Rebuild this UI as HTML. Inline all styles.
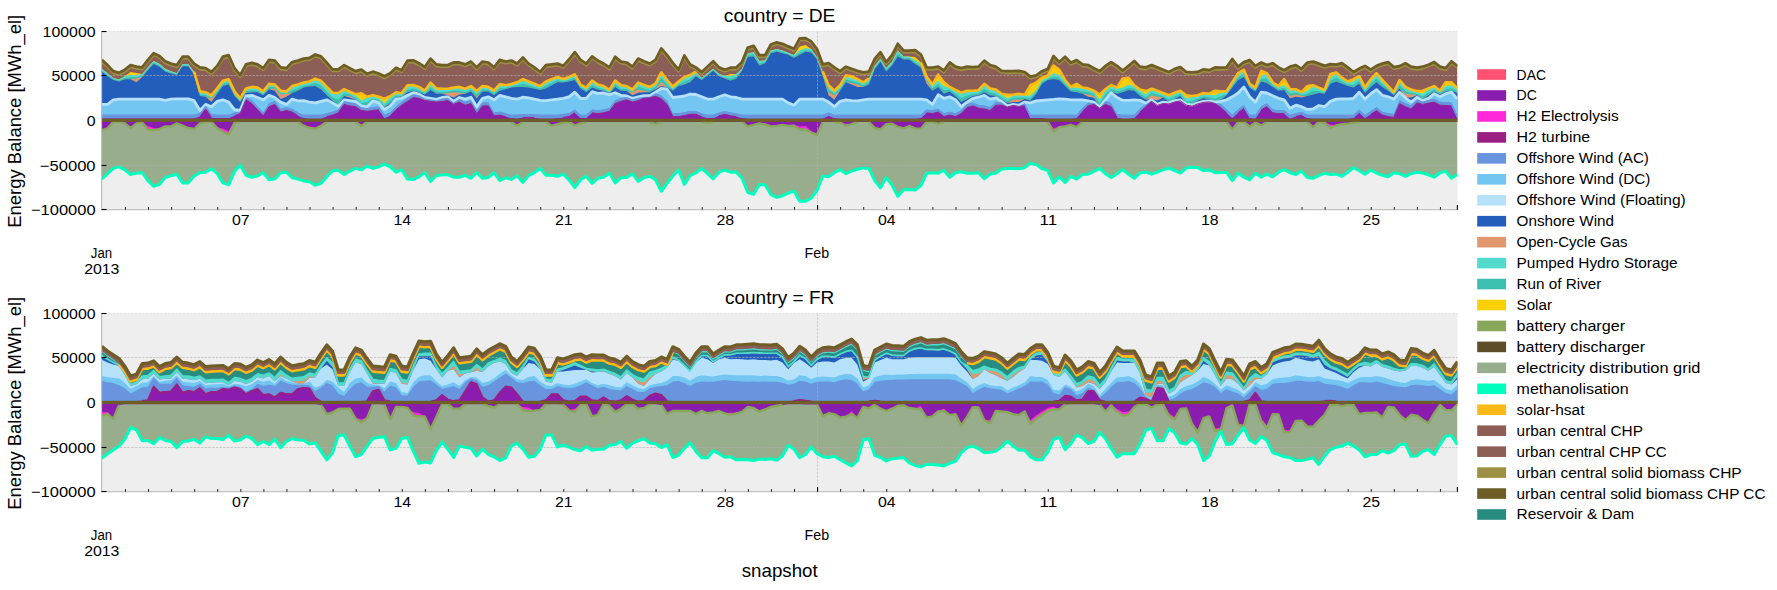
<!DOCTYPE html>
<html><head><meta charset="utf-8"><title>Energy Balance</title>
<style>html,body{margin:0;padding:0;background:#fff}svg{display:block}text{font-family:"Liberation Sans",sans-serif;fill:#000}</style></head><body>
<svg width="1777" height="590" viewBox="0 0 1777 590">
<rect width="1777" height="590" fill="#ffffff"/>
<rect x="101.6" y="31.5" width="1356.0" height="178.30" fill="#eeeeee"/>
<clipPath id="clip0"><rect x="101.6" y="31.5" width="1356.0" height="178.30"/></clipPath>
<g clip-path="url(#clip0)"><polygon points="101.8,59.8 107.6,65.1 113.3,71.2 119.1,72.8 124.9,69.7 130.6,65.1 136.4,66.7 142.2,67.4 147.9,59.8 153.7,53.2 159.5,56.0 165.2,61.3 171.0,63.6 176.8,65.1 182.6,56.7 188.3,56.7 194.1,63.6 199.9,67.4 205.6,68.2 211.4,72.0 217.2,65.9 222.9,56.7 228.7,55.2 234.5,68.2 240.2,75.1 246.0,64.4 251.8,62.8 257.5,64.4 263.3,68.2 269.1,59.8 274.8,60.6 280.6,67.4 286.4,68.2 292.1,62.1 297.9,60.6 303.7,58.6 309.4,58.0 315.2,54.5 321.0,56.4 326.8,62.8 332.5,69.3 338.3,69.3 344.1,65.1 349.8,68.2 355.6,71.2 361.4,69.7 367.1,73.8 372.9,71.7 378.7,73.5 384.4,76.3 390.2,73.2 396.0,67.7 401.7,70.2 407.5,60.6 413.3,60.3 419.0,63.2 424.8,67.1 430.6,58.6 436.3,64.4 442.1,65.1 447.9,65.1 453.6,62.5 459.4,62.5 465.2,64.4 471.0,61.6 476.7,67.4 482.5,61.6 488.3,62.5 494.0,67.4 499.8,59.8 505.6,61.6 511.3,60.6 517.1,63.6 522.9,57.5 528.6,63.6 534.4,67.4 540.2,72.0 545.9,65.1 551.7,64.4 557.5,63.6 563.2,65.9 569.0,59.5 574.8,52.2 580.5,59.8 586.3,63.6 592.1,56.4 597.8,60.6 603.6,63.6 609.4,67.4 615.2,56.7 620.9,61.6 626.7,62.5 632.5,66.7 638.2,58.6 644.0,61.3 649.8,63.6 655.5,59.8 661.3,48.4 667.1,55.2 672.8,62.8 678.6,69.7 684.4,55.5 690.1,64.4 695.9,67.4 701.7,72.0 707.4,66.7 713.2,61.3 719.0,67.4 724.7,69.7 730.5,67.7 736.3,67.4 742.0,62.1 747.8,47.6 753.6,45.8 759.4,55.2 765.1,55.2 770.9,44.5 776.7,42.3 782.4,43.8 788.2,46.4 794.0,48.8 799.7,38.4 805.5,38.1 811.3,41.5 817.0,49.1 822.8,64.4 828.6,63.2 834.3,67.4 840.1,71.2 845.9,66.7 851.6,68.9 857.4,70.8 863.2,72.3 868.9,71.7 874.7,59.0 880.5,52.2 886.2,62.1 892.0,55.2 897.8,43.8 903.6,50.6 909.3,50.6 915.1,50.2 920.9,54.5 926.6,67.4 932.4,67.7 938.2,66.7 943.9,70.5 949.7,62.5 955.5,66.7 961.2,68.2 967.0,66.7 972.8,67.1 978.5,66.7 984.3,60.6 990.1,65.1 995.8,66.7 1001.6,70.8 1007.4,71.2 1013.1,71.2 1018.9,70.8 1024.7,72.0 1030.4,76.6 1036.2,75.4 1042.0,71.2 1047.8,68.9 1053.5,56.0 1059.3,62.1 1065.1,56.7 1070.8,62.8 1076.6,60.1 1082.4,64.4 1088.1,65.1 1093.9,68.2 1099.7,71.2 1105.4,65.9 1111.2,62.1 1117.0,65.9 1122.7,70.5 1128.5,65.9 1134.3,61.0 1140.0,66.7 1145.8,67.4 1151.6,65.1 1157.3,67.4 1163.1,69.7 1168.9,72.0 1174.6,68.9 1180.4,67.1 1186.2,72.0 1192.0,72.3 1197.7,72.0 1203.5,69.3 1209.3,70.2 1215.0,67.4 1220.8,67.7 1226.6,67.4 1232.3,59.0 1238.1,66.7 1243.9,62.1 1249.6,60.1 1255.4,65.9 1261.2,62.5 1266.9,65.1 1272.7,63.2 1278.5,67.4 1284.2,70.2 1290.0,66.7 1295.8,65.1 1301.5,68.9 1307.3,62.5 1313.1,61.6 1318.8,63.6 1324.6,65.9 1330.4,64.1 1336.2,64.7 1341.9,63.2 1347.7,67.4 1353.5,72.0 1359.2,68.6 1365.0,65.9 1370.8,69.7 1376.5,65.9 1382.3,63.6 1388.1,62.1 1393.8,67.1 1399.6,66.2 1405.4,63.3 1411.1,66.7 1416.9,67.7 1422.7,66.7 1428.4,64.7 1434.2,62.1 1440.0,66.7 1445.7,68.2 1451.5,61.3 1457.3,65.9 1457.3,120.1 101.8,120.1" fill="#8d5e56" />
<polygon points="101.8,68.7 107.6,73.3 113.3,77.9 119.1,79.4 124.9,75.9 130.6,72.1 136.4,73.1 142.2,74.1 147.9,67.2 153.7,61.1 159.5,63.8 165.2,68.7 171.0,71.3 176.8,73.3 182.6,64.1 188.3,64.1 194.1,71.6 199.9,91.4 205.6,92.2 211.4,95.3 217.2,88.4 222.9,80.8 228.7,79.2 234.5,91.4 240.2,98.3 246.0,88.4 251.8,86.9 257.5,87.6 263.3,91.4 269.1,83.8 274.8,84.6 280.6,90.7 286.4,91.4 292.1,86.1 297.9,84.6 303.7,82.6 309.4,81.5 315.2,78.8 321.0,80.8 326.8,86.9 332.5,92.7 338.3,93.0 344.1,89.2 349.8,91.7 355.6,94.2 361.4,93.3 367.1,96.8 372.9,95.3 378.7,96.8 384.4,98.8 390.2,96.3 396.0,92.2 401.7,93.3 407.5,85.3 413.3,85.0 419.0,86.9 424.8,90.7 430.6,82.6 436.3,88.4 442.1,88.7 447.9,88.7 453.6,87.6 459.4,86.9 465.2,88.7 471.0,86.1 476.7,91.1 482.5,86.1 488.3,86.9 494.0,90.7 499.8,84.1 505.6,85.3 511.3,84.1 517.1,82.3 522.9,79.2 528.6,81.5 534.4,83.8 540.2,86.1 545.9,81.5 551.7,79.2 557.5,76.9 563.2,78.9 569.0,76.9 574.8,74.4 580.5,84.6 586.3,87.6 592.1,80.5 597.8,84.6 603.6,86.1 609.4,89.9 615.2,80.5 620.9,85.3 626.7,86.1 632.5,89.6 638.2,82.6 644.0,85.0 649.8,86.9 655.5,83.5 661.3,72.4 667.1,80.0 672.8,86.6 678.6,81.5 684.4,76.9 690.1,75.0 695.9,71.6 701.7,77.9 707.4,73.3 713.2,68.7 719.0,73.7 724.7,75.9 730.5,73.9 736.3,74.1 742.0,68.7 747.8,53.5 753.6,51.9 759.4,61.1 765.1,60.3 770.9,50.4 776.7,48.9 782.4,50.4 788.2,52.7 794.0,55.0 799.7,46.4 805.5,44.9 811.3,48.9 817.0,57.3 822.8,71.6 828.6,85.3 834.3,90.7 840.1,85.3 845.9,75.4 851.6,76.2 857.4,79.2 863.2,82.3 868.9,78.5 874.7,65.7 880.5,58.8 886.2,67.9 892.0,61.8 897.8,50.4 903.6,56.5 909.3,56.5 915.1,57.1 920.9,62.5 926.6,76.9 932.4,84.6 938.2,74.7 943.9,82.3 949.7,86.9 955.5,89.9 961.2,92.7 967.0,90.7 972.8,90.7 978.5,90.2 984.3,83.8 990.1,88.4 995.8,89.6 1001.6,93.7 1007.4,94.8 1013.1,94.8 1018.9,93.7 1024.7,94.8 1030.4,85.3 1036.2,82.6 1042.0,77.7 1047.8,75.4 1053.5,65.5 1059.3,69.8 1065.1,80.0 1070.8,86.9 1076.6,83.8 1082.4,87.6 1088.1,88.4 1093.9,90.7 1099.7,94.5 1105.4,89.2 1111.2,85.0 1117.0,87.6 1122.7,78.5 1128.5,77.7 1134.3,85.3 1140.0,89.6 1145.8,91.1 1151.6,88.7 1157.3,90.7 1163.1,93.0 1168.9,95.3 1174.6,92.7 1180.4,90.7 1186.2,95.3 1192.0,96.0 1197.7,95.3 1203.5,93.0 1209.3,93.7 1215.0,90.7 1220.8,91.4 1226.6,91.1 1232.3,82.3 1238.1,73.1 1243.9,69.8 1249.6,83.8 1255.4,87.6 1261.2,70.8 1266.9,73.1 1272.7,82.3 1278.5,86.1 1284.2,79.2 1290.0,89.2 1295.8,89.2 1301.5,92.2 1307.3,86.1 1313.1,85.3 1318.8,87.6 1324.6,89.9 1330.4,73.9 1336.2,72.4 1341.9,77.7 1347.7,81.5 1353.5,79.2 1359.2,76.2 1365.0,87.6 1370.8,79.2 1376.5,73.1 1382.3,80.0 1388.1,86.1 1393.8,92.2 1399.6,80.0 1405.4,86.9 1411.1,89.6 1416.9,91.1 1422.7,90.7 1428.4,88.4 1434.2,86.1 1440.0,90.7 1445.7,82.3 1451.5,82.3 1457.3,88.4 1457.3,120.1 101.8,120.1" fill="#f9d002" />
<polygon points="101.8,68.7 107.6,73.3 113.3,77.9 119.1,79.4 124.9,75.9 130.6,75.0 136.4,75.0 142.2,74.1 147.9,67.2 153.7,61.1 159.5,63.8 165.2,68.7 171.0,71.3 176.8,73.3 182.6,64.1 188.3,64.1 194.1,72.5 199.9,92.4 205.6,93.1 211.4,96.2 217.2,89.3 222.9,81.7 228.7,80.2 234.5,92.4 240.2,99.2 246.0,89.3 251.8,87.8 257.5,88.5 263.3,92.4 269.1,84.7 274.8,85.5 280.6,91.6 286.4,92.4 292.1,87.0 297.9,85.5 303.7,83.5 309.4,82.4 315.2,79.7 321.0,81.7 326.8,87.8 332.5,93.6 338.3,93.9 344.1,90.1 349.8,92.7 355.6,95.1 361.4,100.6 367.1,97.7 372.9,96.2 378.7,97.7 384.4,102.9 390.2,97.2 396.0,93.1 401.7,94.2 407.5,86.3 413.3,85.9 419.0,87.8 424.8,91.6 430.6,83.5 436.3,89.3 442.1,89.6 447.9,89.6 453.6,88.5 459.4,87.8 465.2,89.6 471.0,87.0 476.7,92.1 482.5,87.0 488.3,87.8 494.0,91.6 499.8,85.0 505.6,86.3 511.3,85.0 517.1,83.2 522.9,80.2 528.6,82.4 534.4,84.7 540.2,87.0 545.9,82.4 551.7,80.2 557.5,77.9 563.2,79.8 569.0,77.9 574.8,75.3 580.5,85.5 586.3,88.5 592.1,81.4 597.8,85.5 603.6,87.0 609.4,90.8 615.2,81.4 620.9,86.3 626.7,87.0 632.5,90.5 638.2,83.5 644.0,85.9 649.8,87.8 655.5,84.4 661.3,73.3 667.1,80.9 672.8,87.5 678.6,82.4 684.4,77.9 690.1,75.9 695.9,72.5 701.7,77.9 707.4,73.3 713.2,68.7 719.0,73.7 724.7,75.9 730.5,75.9 736.3,74.1 742.0,68.7 747.8,53.5 753.6,51.9 759.4,61.1 765.1,60.3 770.9,50.4 776.7,48.9 782.4,50.4 788.2,52.7 794.0,55.0 799.7,50.3 805.5,48.0 811.3,48.9 817.0,57.3 822.8,72.5 828.6,86.3 834.3,91.6 840.1,86.3 845.9,76.3 851.6,78.5 857.4,80.2 863.2,83.2 868.9,79.4 874.7,65.7 880.5,58.8 886.2,67.9 892.0,61.8 897.8,50.4 903.6,56.5 909.3,56.5 915.1,60.2 920.9,63.4 926.6,77.9 932.4,85.5 938.2,80.8 943.9,86.1 949.7,87.8 955.5,90.8 961.2,93.6 967.0,91.6 972.8,91.6 978.5,91.1 984.3,84.7 990.1,89.3 995.8,90.5 1001.6,94.6 1007.4,98.3 1013.1,95.7 1018.9,94.6 1024.7,95.7 1030.4,95.3 1036.2,89.9 1042.0,80.0 1047.8,77.4 1053.5,73.1 1059.3,74.7 1065.1,80.9 1070.8,87.8 1076.6,87.6 1082.4,88.5 1088.1,89.3 1093.9,91.6 1099.7,99.8 1105.4,90.1 1111.2,85.9 1117.0,88.5 1122.7,87.6 1128.5,84.6 1134.3,86.3 1140.0,90.5 1145.8,94.5 1151.6,89.6 1157.3,91.6 1163.1,93.9 1168.9,96.2 1174.6,93.6 1180.4,91.6 1186.2,98.3 1192.0,96.9 1197.7,96.2 1203.5,93.9 1209.3,94.6 1215.0,95.3 1220.8,92.4 1226.6,92.1 1232.3,83.2 1238.1,74.1 1243.9,70.7 1249.6,84.7 1255.4,88.5 1261.2,75.4 1266.9,74.1 1272.7,83.2 1278.5,87.0 1284.2,85.3 1290.0,90.1 1295.8,90.1 1301.5,93.1 1307.3,90.7 1313.1,86.3 1318.8,88.5 1324.6,90.8 1330.4,77.7 1336.2,73.3 1341.9,78.6 1347.7,82.4 1353.5,81.5 1359.2,77.1 1365.0,88.5 1370.8,80.2 1376.5,74.1 1382.3,80.9 1388.1,87.0 1393.8,93.1 1399.6,80.9 1405.4,87.8 1411.1,90.5 1416.9,92.1 1422.7,93.7 1428.4,89.3 1434.2,87.0 1440.0,91.6 1445.7,86.1 1451.5,85.3 1457.3,89.3 1457.3,120.1 101.8,120.1" fill="#51dbcc" />
<polygon points="101.8,70.4 107.6,74.9 113.3,79.1 119.1,80.7 124.9,77.8 130.6,77.3 136.4,76.9 142.2,75.7 147.9,68.8 153.7,62.7 159.5,65.5 165.2,70.4 171.0,72.6 176.8,74.3 182.6,65.4 188.3,65.4 194.1,73.8 199.9,94.4 205.6,95.1 211.4,97.4 217.2,91.7 222.9,84.1 228.7,82.6 234.5,94.4 240.2,100.9 246.0,91.3 251.8,90.2 257.5,90.6 263.3,94.0 269.1,87.1 274.8,87.1 280.6,93.2 286.4,93.2 292.1,90.2 297.9,88.3 303.7,85.8 309.4,84.7 315.2,83.1 321.0,85.6 326.8,91.7 332.5,97.3 338.3,99.7 344.1,93.2 349.8,94.5 355.6,97.7 361.4,103.1 367.1,102.0 372.9,98.2 378.7,100.1 384.4,105.4 390.2,100.3 396.0,95.5 401.7,95.7 407.5,89.4 413.3,88.5 419.0,90.2 424.8,93.2 430.6,86.9 436.3,91.7 442.1,91.9 447.9,91.5 453.6,90.6 459.4,90.4 465.2,91.9 471.0,89.4 476.7,94.6 482.5,89.4 488.3,89.8 494.0,93.6 499.8,88.1 505.6,87.9 511.3,86.5 517.1,85.2 522.9,83.7 528.6,85.2 534.4,86.9 540.2,88.7 545.9,85.6 551.7,82.9 557.5,80.3 563.2,81.4 569.0,79.9 574.8,77.8 580.5,87.1 586.3,90.6 592.1,84.7 597.8,87.8 603.6,89.0 609.4,92.5 615.2,84.3 620.9,88.7 626.7,89.3 632.5,91.6 638.2,86.8 644.0,88.5 649.8,90.2 655.5,87.0 661.3,77.6 667.1,84.5 672.8,89.3 678.6,84.5 684.4,81.4 690.1,79.3 695.9,74.6 701.7,79.1 707.4,74.6 713.2,70.0 719.0,75.2 724.7,77.4 730.5,78.5 736.3,76.5 742.0,70.0 747.8,55.5 753.6,54.3 759.4,63.5 765.1,62.0 770.9,52.1 776.7,50.5 782.4,52.1 788.2,54.0 794.0,56.6 799.7,52.7 805.5,50.1 811.3,50.9 817.0,58.5 822.8,74.6 828.6,89.4 834.3,93.6 840.1,88.7 845.9,79.5 851.6,81.0 857.4,82.6 863.2,85.2 868.9,82.2 874.7,67.7 880.5,60.4 886.2,70.0 892.0,63.9 897.8,53.6 903.6,58.2 909.3,58.2 915.1,62.3 920.9,65.8 926.6,79.5 932.4,88.3 938.2,84.0 943.9,90.1 949.7,89.8 955.5,93.6 961.2,98.0 967.0,95.5 972.8,94.0 978.5,93.4 984.3,88.7 990.1,92.5 995.8,93.5 1001.6,97.4 1007.4,100.8 1013.1,98.0 1018.9,97.4 1024.7,97.6 1030.4,98.1 1036.2,92.0 1042.0,82.1 1047.8,78.9 1053.5,76.2 1059.3,77.5 1065.1,83.7 1070.8,89.8 1076.6,90.1 1082.4,91.3 1088.1,92.1 1093.9,94.0 1099.7,103.5 1105.4,94.0 1111.2,88.9 1117.0,91.3 1122.7,90.1 1128.5,87.4 1134.3,88.7 1140.0,93.5 1145.8,97.4 1151.6,92.6 1157.3,94.4 1163.1,95.9 1168.9,99.3 1174.6,96.5 1180.4,94.0 1186.2,101.6 1192.0,100.9 1197.7,98.6 1203.5,96.3 1209.3,97.1 1215.0,98.5 1220.8,96.3 1226.6,93.9 1232.3,85.6 1238.1,77.2 1243.9,74.0 1249.6,86.4 1255.4,90.2 1261.2,78.7 1266.9,78.8 1272.7,85.2 1278.5,89.0 1284.2,87.8 1290.0,93.2 1295.8,92.5 1301.5,94.8 1307.3,93.5 1313.1,90.6 1318.8,91.0 1324.6,92.5 1330.4,81.0 1336.2,77.6 1341.9,81.4 1347.7,84.5 1353.5,84.8 1359.2,80.7 1365.0,91.0 1370.8,83.7 1376.5,78.4 1382.3,84.1 1388.1,89.0 1393.8,94.4 1399.6,84.9 1405.4,91.0 1411.1,92.7 1416.9,93.9 1422.7,96.6 1428.4,92.5 1434.2,89.4 1440.0,93.2 1445.7,89.0 1451.5,88.2 1457.3,91.3 1457.3,120.1 101.8,120.1" fill="#3dbfb0" />
<polygon points="101.8,71.6 107.6,76.2 113.3,80.0 119.1,81.5 124.9,79.2 130.6,79.2 136.4,78.5 142.2,76.9 147.9,70.1 153.7,64.0 159.5,66.7 165.2,71.6 171.0,73.4 176.8,75.0 182.6,66.3 188.3,66.3 194.1,74.7 199.9,96.0 205.6,96.8 211.4,98.3 217.2,93.7 222.9,86.1 228.7,84.6 234.5,96.0 240.2,102.1 246.0,93.0 251.8,92.2 257.5,92.2 263.3,95.3 269.1,89.2 274.8,88.4 280.6,94.5 286.4,93.7 292.1,93.0 297.9,90.7 303.7,87.6 309.4,86.6 315.2,86.1 321.0,89.2 326.8,95.3 332.5,100.6 338.3,105.2 344.1,96.0 349.8,96.0 355.6,99.8 361.4,105.2 367.1,105.9 372.9,99.8 378.7,102.1 384.4,107.5 390.2,102.9 396.0,97.5 401.7,96.8 407.5,92.2 413.3,90.7 419.0,92.2 424.8,94.5 430.6,89.9 436.3,93.7 442.1,93.7 447.9,93.0 453.6,92.2 459.4,92.7 465.2,93.7 471.0,91.4 476.7,96.8 482.5,91.4 488.3,91.4 494.0,95.3 499.8,90.7 505.6,89.2 511.3,87.6 517.1,86.9 522.9,86.9 528.6,87.6 534.4,88.7 540.2,89.9 545.9,88.4 551.7,85.3 557.5,82.3 563.2,82.6 569.0,81.5 574.8,80.0 580.5,88.4 586.3,92.2 592.1,87.6 597.8,89.6 603.6,90.7 609.4,93.7 615.2,86.9 620.9,90.7 626.7,91.1 632.5,92.2 638.2,89.6 644.0,90.7 649.8,92.2 655.5,89.2 661.3,81.5 667.1,87.6 672.8,90.7 678.6,86.1 684.4,84.6 690.1,82.3 695.9,76.2 701.7,80.0 707.4,75.4 713.2,70.8 719.0,76.2 724.7,78.5 730.5,80.8 736.3,78.5 742.0,70.8 747.8,57.1 753.6,56.4 759.4,65.5 765.1,63.2 770.9,53.3 776.7,51.8 782.4,53.3 788.2,54.8 794.0,57.9 799.7,54.8 805.5,51.8 811.3,52.5 817.0,59.4 822.8,76.2 828.6,92.2 834.3,95.3 840.1,90.7 845.9,82.3 851.6,83.1 857.4,84.6 863.2,86.9 868.9,84.6 874.7,69.3 880.5,61.7 886.2,71.6 892.0,65.5 897.8,56.4 903.6,59.4 909.3,59.4 915.1,64.0 920.9,67.8 926.6,80.8 932.4,90.7 938.2,86.9 943.9,93.7 949.7,91.4 955.5,96.0 961.2,102.1 967.0,99.1 972.8,96.0 978.5,95.3 984.3,92.2 990.1,95.3 995.8,96.0 1001.6,99.8 1007.4,102.9 1013.1,99.8 1018.9,99.8 1024.7,99.1 1030.4,100.6 1036.2,93.7 1042.0,83.8 1047.8,80.0 1053.5,78.9 1059.3,80.0 1065.1,86.1 1070.8,91.4 1076.6,92.2 1082.4,93.7 1088.1,94.5 1093.9,96.0 1099.7,106.7 1105.4,97.5 1111.2,91.4 1117.0,93.7 1122.7,92.2 1128.5,89.9 1134.3,90.7 1140.0,96.0 1145.8,99.8 1151.6,95.3 1157.3,96.8 1163.1,97.5 1168.9,102.1 1174.6,99.1 1180.4,96.0 1186.2,104.4 1192.0,104.4 1197.7,100.6 1203.5,98.3 1209.3,99.1 1215.0,101.4 1220.8,99.8 1226.6,95.3 1232.3,87.6 1238.1,80.0 1243.9,76.9 1249.6,87.6 1255.4,91.4 1261.2,81.5 1266.9,83.1 1272.7,86.9 1278.5,90.7 1284.2,89.9 1290.0,96.0 1295.8,94.5 1301.5,96.0 1307.3,96.0 1313.1,94.5 1318.8,93.0 1324.6,93.7 1330.4,83.8 1336.2,81.5 1341.9,83.8 1347.7,86.1 1353.5,87.6 1359.2,83.8 1365.0,93.0 1370.8,86.9 1376.5,82.3 1382.3,86.9 1388.1,90.7 1393.8,95.3 1399.6,88.4 1405.4,93.7 1411.1,94.5 1416.9,95.3 1422.7,99.1 1428.4,95.3 1434.2,91.4 1440.0,94.5 1445.7,91.4 1451.5,90.7 1457.3,93.0 1457.3,120.1 101.8,120.1" fill="#e0986c" />
<polygon points="101.8,71.6 107.6,76.2 113.3,80.0 119.1,81.5 124.9,79.2 130.6,79.2 136.4,82.3 142.2,76.9 147.9,70.1 153.7,64.0 159.5,66.7 165.2,71.6 171.0,73.4 176.8,75.0 182.6,66.3 188.3,66.3 194.1,74.7 199.9,96.0 205.6,96.8 211.4,102.1 217.2,93.7 222.9,86.1 228.7,84.6 234.5,96.0 240.2,102.1 246.0,93.0 251.8,92.2 257.5,92.2 263.3,95.3 269.1,89.2 274.8,90.7 280.6,99.1 286.4,96.8 292.1,93.0 297.9,90.7 303.7,87.6 309.4,86.6 315.2,86.1 321.0,89.2 326.8,95.3 332.5,100.6 338.3,105.2 344.1,96.0 349.8,97.5 355.6,99.8 361.4,105.2 367.1,105.9 372.9,99.8 378.7,102.1 384.4,107.5 390.2,102.9 396.0,97.5 401.7,96.8 407.5,92.2 413.3,90.7 419.0,92.2 424.8,94.5 430.6,89.9 436.3,93.7 442.1,93.7 447.9,95.3 453.6,97.5 459.4,94.5 465.2,93.7 471.0,91.4 476.7,98.3 482.5,91.4 488.3,91.4 494.0,95.3 499.8,90.7 505.6,89.2 511.3,87.6 517.1,86.9 522.9,86.9 528.6,87.6 534.4,88.7 540.2,89.9 545.9,88.4 551.7,85.3 557.5,82.3 563.2,82.6 569.0,81.5 574.8,80.0 580.5,88.4 586.3,92.2 592.1,87.6 597.8,89.6 603.6,90.7 609.4,93.7 615.2,86.9 620.9,90.7 626.7,91.1 632.5,95.3 638.2,92.7 644.0,92.2 649.8,92.2 655.5,89.2 661.3,86.1 667.1,87.6 672.8,90.7 678.6,86.1 684.4,84.6 690.1,82.3 695.9,76.2 701.7,80.0 707.4,75.4 713.2,70.8 719.0,76.2 724.7,78.5 730.5,80.8 736.3,78.5 742.0,70.8 747.8,57.1 753.6,56.4 759.4,65.5 765.1,63.2 770.9,53.3 776.7,51.8 782.4,53.3 788.2,54.8 794.0,57.9 799.7,54.8 805.5,51.8 811.3,52.5 817.0,59.4 822.8,76.2 828.6,95.3 834.3,99.8 840.1,90.7 845.9,82.3 851.6,84.6 857.4,86.9 863.2,86.9 868.9,84.6 874.7,69.3 880.5,61.7 886.2,71.6 892.0,65.5 897.8,56.4 903.6,59.4 909.3,59.4 915.1,64.0 920.9,67.8 926.6,83.8 932.4,90.7 938.2,86.9 943.9,93.7 949.7,91.4 955.5,96.0 961.2,102.1 967.0,99.1 972.8,96.0 978.5,95.3 984.3,92.2 990.1,95.3 995.8,96.0 1001.6,99.8 1007.4,102.9 1013.1,102.1 1018.9,102.1 1024.7,99.1 1030.4,100.6 1036.2,93.7 1042.0,83.8 1047.8,80.0 1053.5,78.9 1059.3,80.0 1065.1,86.1 1070.8,91.4 1076.6,92.2 1082.4,93.7 1088.1,96.8 1093.9,97.8 1099.7,106.7 1105.4,97.5 1111.2,91.4 1117.0,93.7 1122.7,92.2 1128.5,89.9 1134.3,90.7 1140.0,96.0 1145.8,99.8 1151.6,99.1 1157.3,100.6 1163.1,97.5 1168.9,102.1 1174.6,99.1 1180.4,96.0 1186.2,104.4 1192.0,104.4 1197.7,100.6 1203.5,98.3 1209.3,99.1 1215.0,101.4 1220.8,99.8 1226.6,95.3 1232.3,87.6 1238.1,80.0 1243.9,76.9 1249.6,87.6 1255.4,91.4 1261.2,81.5 1266.9,83.1 1272.7,86.9 1278.5,90.7 1284.2,89.9 1290.0,98.3 1295.8,96.8 1301.5,97.5 1307.3,96.0 1313.1,94.5 1318.8,93.0 1324.6,93.7 1330.4,83.8 1336.2,81.5 1341.9,83.8 1347.7,86.1 1353.5,87.6 1359.2,83.8 1365.0,93.0 1370.8,86.9 1376.5,82.3 1382.3,86.9 1388.1,90.7 1393.8,95.3 1399.6,88.4 1405.4,97.5 1411.1,97.5 1416.9,95.3 1422.7,99.1 1428.4,95.3 1434.2,91.4 1440.0,94.5 1445.7,91.4 1451.5,90.7 1457.3,93.0 1457.3,120.1 101.8,120.1" fill="#235ebc" />
<polygon points="101.8,104.4 107.6,104.4 113.3,99.8 119.1,99.1 124.9,99.1 130.6,99.1 136.4,99.1 142.2,99.1 147.9,99.1 153.7,99.1 159.5,99.1 165.2,100.3 171.0,99.1 176.8,98.8 182.6,98.8 188.3,98.8 194.1,100.6 199.9,110.5 205.6,104.4 211.4,106.7 217.2,101.4 222.9,99.8 228.7,102.1 234.5,109.7 240.2,110.5 246.0,96.0 251.8,95.3 257.5,97.5 263.3,99.8 269.1,95.3 274.8,97.5 280.6,102.1 286.4,104.4 292.1,99.1 297.9,100.9 303.7,100.6 309.4,102.1 315.2,102.9 321.0,101.4 326.8,99.8 332.5,102.9 338.3,106.4 344.1,99.8 349.8,100.6 355.6,101.4 361.4,105.9 367.1,107.0 372.9,100.9 378.7,102.9 384.4,109.7 390.2,105.9 396.0,99.1 401.7,98.3 407.5,95.3 413.3,92.7 419.0,94.2 424.8,97.5 430.6,98.3 436.3,99.4 442.1,97.5 447.9,96.8 453.6,101.4 459.4,97.5 465.2,99.1 471.0,97.2 476.7,106.7 482.5,98.3 488.3,96.8 494.0,99.8 499.8,95.3 505.6,96.8 511.3,98.3 517.1,99.1 522.9,97.2 528.6,97.8 534.4,99.1 540.2,100.3 545.9,100.6 551.7,99.8 557.5,99.1 563.2,98.3 569.0,96.8 574.8,92.2 580.5,98.3 586.3,98.3 592.1,91.7 597.8,93.3 603.6,93.0 609.4,94.8 615.2,92.7 620.9,95.3 626.7,96.0 632.5,98.3 638.2,96.8 644.0,95.7 649.8,95.7 655.5,92.2 661.3,88.4 667.1,89.2 672.8,97.5 678.6,96.8 684.4,96.0 690.1,94.2 695.9,94.5 701.7,96.8 707.4,99.1 713.2,99.1 719.0,96.8 724.7,94.8 730.5,96.8 736.3,97.5 742.0,99.1 747.8,99.1 753.6,99.1 759.4,99.1 765.1,99.1 770.9,99.1 776.7,99.1 782.4,99.1 788.2,102.9 794.0,105.2 799.7,99.1 805.5,99.1 811.3,99.1 817.0,99.1 822.8,99.1 828.6,102.1 834.3,106.7 840.1,101.4 845.9,99.8 851.6,100.6 857.4,100.9 863.2,99.8 868.9,99.1 874.7,99.1 880.5,99.1 886.2,99.1 892.0,99.1 897.8,99.1 903.6,99.1 909.3,99.1 915.1,99.1 920.9,99.1 926.6,99.8 932.4,104.4 938.2,94.8 943.9,98.3 949.7,96.8 955.5,99.8 961.2,106.7 967.0,102.1 972.8,98.3 978.5,97.2 984.3,95.3 990.1,99.1 995.8,97.8 1001.6,101.4 1007.4,105.9 1013.1,104.4 1018.9,105.2 1024.7,102.1 1030.4,102.9 1036.2,100.9 1042.0,100.3 1047.8,99.8 1053.5,99.4 1059.3,98.8 1065.1,99.1 1070.8,99.8 1076.6,99.8 1082.4,99.8 1088.1,100.9 1093.9,102.1 1099.7,107.0 1105.4,99.8 1111.2,92.7 1117.0,97.5 1122.7,100.3 1128.5,100.3 1134.3,99.8 1140.0,100.3 1145.8,103.3 1151.6,99.8 1157.3,104.4 1163.1,102.1 1168.9,102.9 1174.6,100.6 1180.4,99.8 1186.2,104.1 1192.0,105.2 1197.7,102.9 1203.5,101.4 1209.3,100.9 1215.0,102.1 1220.8,101.4 1226.6,99.8 1232.3,96.8 1238.1,93.0 1243.9,86.9 1249.6,96.8 1255.4,102.1 1261.2,92.2 1266.9,93.0 1272.7,95.7 1278.5,98.3 1284.2,99.8 1290.0,108.2 1295.8,105.2 1301.5,106.7 1307.3,109.4 1313.1,109.0 1318.8,105.5 1324.6,106.7 1330.4,101.4 1336.2,99.1 1341.9,98.8 1347.7,98.8 1353.5,98.3 1359.2,92.2 1365.0,99.1 1370.8,93.7 1376.5,89.6 1382.3,95.3 1388.1,96.8 1393.8,99.1 1399.6,92.2 1405.4,97.8 1411.1,102.1 1416.9,97.2 1422.7,100.6 1428.4,98.3 1434.2,93.7 1440.0,96.8 1445.7,93.7 1451.5,92.2 1457.3,99.1 1457.3,120.1 101.8,120.1" fill="#74c6f2" />
<polygon points="101.8,114.8 107.6,114.8 113.3,114.8 119.1,114.8 124.9,114.8 130.6,114.8 136.4,114.8 142.2,114.8 147.9,114.8 153.7,114.8 159.5,114.8 165.2,114.8 171.0,114.8 176.8,114.8 182.6,114.8 188.3,114.8 194.1,114.8 199.9,113.3 205.6,105.6 211.4,114.0 217.2,114.8 222.9,114.8 228.7,114.8 234.5,112.5 240.2,111.5 246.0,97.0 251.8,100.3 257.5,106.4 263.3,112.5 269.1,103.3 274.8,101.1 280.6,108.7 286.4,107.2 292.1,108.7 297.9,112.5 303.7,114.8 309.4,114.8 315.2,114.8 321.0,114.8 326.8,113.3 332.5,111.7 338.3,109.4 344.1,101.1 349.8,102.6 355.6,103.3 361.4,107.2 367.1,108.0 372.9,107.2 378.7,106.4 384.4,114.8 390.2,112.5 396.0,106.4 401.7,101.8 407.5,98.0 413.3,94.2 419.0,95.2 424.8,98.5 430.6,99.3 436.3,100.4 442.1,98.5 447.9,97.8 453.6,102.4 459.4,98.8 465.2,101.8 471.0,100.3 476.7,110.2 482.5,102.6 488.3,102.6 494.0,112.5 499.8,111.7 505.6,113.3 511.3,114.8 517.1,114.8 522.9,114.0 528.6,114.0 534.4,114.3 540.2,114.8 545.9,114.8 551.7,114.8 557.5,114.8 563.2,114.0 569.0,113.3 574.8,109.4 580.5,114.8 586.3,114.8 592.1,109.4 597.8,110.2 603.6,109.4 609.4,107.9 615.2,100.3 620.9,98.0 626.7,97.0 632.5,99.3 638.2,97.8 644.0,96.7 649.8,96.7 655.5,93.2 661.3,95.4 667.1,101.1 672.8,113.3 678.6,113.3 684.4,112.2 690.1,111.0 695.9,111.0 701.7,113.3 707.4,114.8 713.2,114.8 719.0,112.5 724.7,111.0 730.5,112.5 736.3,113.3 742.0,114.8 747.8,114.8 753.6,114.8 759.4,114.8 765.1,114.8 770.9,114.8 776.7,114.8 782.4,114.8 788.2,114.8 794.0,114.8 799.7,114.8 805.5,114.8 811.3,114.8 817.0,114.8 822.8,114.8 828.6,112.5 834.3,114.8 840.1,114.8 845.9,114.8 851.6,114.8 857.4,114.8 863.2,114.8 868.9,114.8 874.7,114.8 880.5,114.8 886.2,114.8 892.0,114.8 897.8,114.8 903.6,114.8 909.3,114.8 915.1,114.8 920.9,114.8 926.6,109.4 932.4,110.2 938.2,108.7 943.9,113.3 949.7,111.7 955.5,113.3 961.2,110.2 967.0,104.1 972.8,102.6 978.5,104.9 984.3,105.6 990.1,107.2 995.8,101.8 1001.6,102.4 1007.4,106.9 1013.1,105.4 1018.9,106.2 1024.7,103.1 1030.4,114.8 1036.2,114.8 1042.0,114.8 1047.8,114.8 1053.5,114.8 1059.3,114.8 1065.1,114.8 1070.8,114.8 1076.6,114.8 1082.4,107.9 1088.1,102.6 1093.9,103.1 1099.7,108.0 1105.4,101.1 1111.2,103.3 1117.0,114.0 1122.7,114.8 1128.5,114.8 1134.3,114.8 1140.0,108.7 1145.8,104.3 1151.6,100.8 1157.3,105.4 1163.1,103.1 1168.9,103.9 1174.6,101.6 1180.4,100.8 1186.2,105.1 1192.0,106.2 1197.7,103.9 1203.5,102.4 1209.3,101.9 1215.0,103.1 1220.8,104.1 1226.6,109.4 1232.3,114.8 1238.1,109.4 1243.9,104.9 1249.6,114.8 1255.4,114.8 1261.2,106.4 1266.9,103.3 1272.7,109.4 1278.5,110.2 1284.2,110.2 1290.0,114.8 1295.8,113.3 1301.5,111.7 1307.3,114.8 1313.1,114.8 1318.8,114.8 1324.6,114.8 1330.4,114.8 1336.2,114.8 1341.9,114.8 1347.7,114.8 1353.5,114.8 1359.2,109.4 1365.0,114.8 1370.8,111.0 1376.5,107.2 1382.3,111.7 1388.1,113.3 1393.8,114.0 1399.6,100.3 1405.4,103.3 1411.1,105.6 1416.9,99.5 1422.7,101.6 1428.4,100.0 1434.2,98.8 1440.0,101.8 1445.7,102.1 1451.5,102.6 1457.3,114.8 1457.3,120.1 101.8,120.1" fill="#6895dd" />
<polygon points="101.8,118.3 107.6,118.3 113.3,118.3 119.1,118.3 124.9,118.3 130.6,118.3 136.4,118.3 142.2,118.3 147.9,118.3 153.7,118.3 159.5,118.3 165.2,118.3 171.0,118.3 176.8,118.3 182.6,118.3 188.3,118.3 194.1,118.3 199.9,116.6 205.6,109.0 211.4,117.4 217.2,118.1 222.9,118.1 228.7,118.1 234.5,115.8 240.2,113.6 246.0,99.8 251.8,103.6 257.5,109.7 263.3,115.8 269.1,106.7 274.8,104.4 280.6,112.0 286.4,110.5 292.1,112.0 297.9,115.8 303.7,118.1 309.4,118.6 315.2,118.6 321.0,118.6 326.8,116.6 332.5,115.1 338.3,112.8 344.1,104.4 349.8,105.9 355.6,106.7 361.4,110.5 367.1,111.3 372.9,110.5 378.7,109.7 384.4,118.1 390.2,115.8 396.0,109.7 401.7,105.2 407.5,101.4 413.3,97.5 419.0,98.3 424.8,100.6 430.6,101.4 436.3,102.1 442.1,101.4 447.9,100.6 453.6,104.4 459.4,102.1 465.2,105.2 471.0,103.6 476.7,113.6 482.5,105.9 488.3,105.9 494.0,115.8 499.8,115.1 505.6,116.6 511.3,118.1 517.1,118.6 522.9,117.4 528.6,117.4 534.4,117.7 540.2,118.6 545.9,118.6 551.7,118.6 557.5,118.1 563.2,117.4 569.0,116.6 574.8,112.8 580.5,118.1 586.3,118.1 592.1,112.8 597.8,113.6 603.6,112.8 609.4,111.3 615.2,103.6 620.9,101.4 626.7,99.8 632.5,102.1 638.2,100.6 644.0,98.3 649.8,97.8 655.5,96.3 661.3,98.8 667.1,104.4 672.8,116.6 678.6,116.6 684.4,115.5 690.1,114.3 695.9,114.3 701.7,116.6 707.4,118.1 713.2,118.1 719.0,115.8 724.7,114.3 730.5,115.8 736.3,116.6 742.0,118.1 747.8,118.6 753.6,118.6 759.4,118.6 765.1,118.6 770.9,118.6 776.7,118.6 782.4,118.6 788.2,118.6 794.0,118.6 799.7,118.6 805.5,118.6 811.3,118.6 817.0,118.6 822.8,118.6 828.6,115.8 834.3,118.1 840.1,118.6 845.9,118.6 851.6,118.6 857.4,118.6 863.2,118.6 868.9,118.6 874.7,118.6 880.5,118.6 886.2,118.6 892.0,118.6 897.8,118.6 903.6,118.6 909.3,118.6 915.1,118.6 920.9,118.1 926.6,112.8 932.4,113.6 938.2,112.0 943.9,116.6 949.7,115.1 955.5,116.6 961.2,113.6 967.0,107.5 972.8,105.9 978.5,108.2 984.3,109.0 990.1,110.5 995.8,105.2 1001.6,105.2 1007.4,107.0 1013.1,105.4 1018.9,106.4 1024.7,105.9 1030.4,118.1 1036.2,118.1 1042.0,118.1 1047.8,118.6 1053.5,118.6 1059.3,118.6 1065.1,118.6 1070.8,118.6 1076.6,118.1 1082.4,111.3 1088.1,105.9 1093.9,104.4 1099.7,108.2 1105.4,104.4 1111.2,106.7 1117.0,117.4 1122.7,118.6 1128.5,118.6 1134.3,118.1 1140.0,112.0 1145.8,106.7 1151.6,101.4 1157.3,105.4 1163.1,103.6 1168.9,103.9 1174.6,102.1 1180.4,100.8 1186.2,105.1 1192.0,106.2 1197.7,103.9 1203.5,102.4 1209.3,101.9 1215.0,103.6 1220.8,107.5 1226.6,112.8 1232.3,118.1 1238.1,112.8 1243.9,108.2 1249.6,118.1 1255.4,118.6 1261.2,109.7 1266.9,106.7 1272.7,112.8 1278.5,113.6 1284.2,113.6 1290.0,118.6 1295.8,116.6 1301.5,115.1 1307.3,118.1 1313.1,118.6 1318.8,118.6 1324.6,118.6 1330.4,118.6 1336.2,118.6 1341.9,118.6 1347.7,118.6 1353.5,118.1 1359.2,112.8 1365.0,118.1 1370.8,114.3 1376.5,110.5 1382.3,115.1 1388.1,116.6 1393.8,117.4 1399.6,103.6 1405.4,106.7 1411.1,109.0 1416.9,102.9 1422.7,104.4 1428.4,103.3 1434.2,102.1 1440.0,105.2 1445.7,105.5 1451.5,105.9 1457.3,118.6 1457.3,120.1 101.8,120.1" fill="#8a1caf" />
<polygon points="101.8,120.1 107.6,120.1 113.3,120.1 119.1,120.1 124.9,120.1 130.6,120.1 136.4,120.1 142.2,120.1 147.9,120.1 153.7,120.1 159.5,120.1 165.2,120.1 171.0,120.1 176.8,120.1 182.6,120.1 188.3,120.1 194.1,120.1 199.9,120.1 205.6,120.1 211.4,120.1 217.2,120.1 222.9,120.1 228.7,120.1 234.5,120.1 240.2,120.1 246.0,120.1 251.8,120.1 257.5,120.1 263.3,120.1 269.1,120.1 274.8,120.1 280.6,120.1 286.4,120.1 292.1,120.1 297.9,120.1 303.7,120.1 309.4,120.1 315.2,120.1 321.0,120.1 326.8,120.1 332.5,120.1 338.3,120.1 344.1,120.1 349.8,120.1 355.6,120.1 361.4,120.1 367.1,120.1 372.9,120.1 378.7,120.1 384.4,120.1 390.2,120.1 396.0,120.1 401.7,120.1 407.5,120.1 413.3,120.1 419.0,120.1 424.8,120.1 430.6,120.1 436.3,120.1 442.1,120.1 447.9,120.1 453.6,120.1 459.4,120.1 465.2,120.1 471.0,120.1 476.7,120.1 482.5,120.1 488.3,120.1 494.0,120.1 499.8,120.1 505.6,120.1 511.3,120.1 517.1,120.1 522.9,120.1 528.6,120.1 534.4,120.1 540.2,120.1 545.9,120.1 551.7,120.1 557.5,120.1 563.2,120.1 569.0,120.1 574.8,120.1 580.5,120.1 586.3,120.1 592.1,120.1 597.8,120.1 603.6,120.1 609.4,120.1 615.2,120.1 620.9,120.1 626.7,120.1 632.5,120.1 638.2,120.1 644.0,120.1 649.8,120.1 655.5,120.1 661.3,120.1 667.1,120.1 672.8,120.1 678.6,120.1 684.4,120.1 690.1,120.1 695.9,120.1 701.7,120.1 707.4,120.1 713.2,120.1 719.0,120.1 724.7,120.1 730.5,120.1 736.3,120.1 742.0,120.1 747.8,120.1 753.6,120.1 759.4,120.1 765.1,120.1 770.9,120.1 776.7,120.1 782.4,120.1 788.2,120.1 794.0,120.1 799.7,120.1 805.5,120.1 811.3,120.1 817.0,120.1 822.8,120.1 828.6,120.1 834.3,120.1 840.1,120.1 845.9,120.1 851.6,120.1 857.4,120.1 863.2,120.1 868.9,120.1 874.7,120.1 880.5,120.1 886.2,120.1 892.0,120.1 897.8,120.1 903.6,120.1 909.3,120.1 915.1,120.1 920.9,120.1 926.6,120.1 932.4,120.1 938.2,120.1 943.9,120.1 949.7,120.1 955.5,120.1 961.2,120.1 967.0,120.1 972.8,120.1 978.5,120.1 984.3,120.1 990.1,120.1 995.8,120.1 1001.6,120.1 1007.4,120.1 1013.1,120.1 1018.9,120.1 1024.7,120.1 1030.4,120.1 1036.2,120.1 1042.0,120.1 1047.8,120.1 1053.5,120.1 1059.3,120.1 1065.1,120.1 1070.8,120.1 1076.6,120.1 1082.4,120.1 1088.1,120.1 1093.9,120.1 1099.7,120.1 1105.4,120.1 1111.2,120.1 1117.0,120.1 1122.7,120.1 1128.5,120.1 1134.3,120.1 1140.0,120.1 1145.8,120.1 1151.6,120.1 1157.3,120.1 1163.1,120.1 1168.9,120.1 1174.6,120.1 1180.4,120.1 1186.2,120.1 1192.0,120.1 1197.7,120.1 1203.5,120.1 1209.3,120.1 1215.0,120.1 1220.8,120.1 1226.6,120.1 1232.3,120.1 1238.1,120.1 1243.9,120.1 1249.6,120.1 1255.4,120.1 1261.2,120.1 1266.9,120.1 1272.7,120.1 1278.5,120.1 1284.2,120.1 1290.0,120.1 1295.8,120.1 1301.5,120.1 1307.3,120.1 1313.1,120.1 1318.8,120.1 1324.6,120.1 1330.4,120.1 1336.2,120.1 1341.9,120.1 1347.7,120.1 1353.5,120.1 1359.2,120.1 1365.0,120.1 1370.8,120.1 1376.5,120.1 1382.3,120.1 1388.1,120.1 1393.8,120.1 1399.6,120.1 1405.4,120.1 1411.1,120.1 1416.9,120.1 1422.7,120.1 1428.4,120.1 1434.2,120.1 1440.0,120.1 1445.7,120.1 1451.5,120.1 1457.3,120.1 1457.3,174.5 1451.5,178.3 1445.7,171.4 1440.0,172.7 1434.2,177.2 1428.4,174.8 1422.7,173.0 1416.9,172.2 1411.1,173.7 1405.4,176.3 1399.6,173.7 1393.8,172.7 1388.1,176.8 1382.3,175.3 1376.5,173.0 1370.8,170.2 1365.0,174.2 1359.2,170.7 1353.5,167.6 1347.7,172.2 1341.9,176.3 1336.2,174.2 1330.4,174.5 1324.6,173.3 1318.8,175.3 1313.1,178.3 1307.3,177.5 1301.5,171.1 1295.8,174.5 1290.0,172.7 1284.2,169.6 1278.5,172.2 1272.7,176.8 1266.9,174.2 1261.2,177.2 1255.4,173.3 1249.6,179.8 1243.9,177.2 1238.1,173.3 1232.3,180.6 1226.6,172.4 1220.8,172.4 1215.0,172.7 1209.3,169.9 1203.5,170.7 1197.7,167.6 1192.0,167.3 1186.2,168.1 1180.4,173.0 1174.6,170.7 1168.9,168.1 1163.1,169.9 1157.3,172.2 1151.6,174.2 1145.8,172.2 1140.0,173.0 1134.3,178.3 1128.5,174.2 1122.7,169.6 1117.0,173.7 1111.2,177.5 1105.4,173.7 1099.7,168.4 1093.9,171.4 1088.1,174.2 1082.4,174.5 1076.6,179.1 1070.8,176.3 1065.1,182.4 1059.3,176.8 1053.5,182.9 1047.8,170.7 1042.0,168.7 1036.2,164.6 1030.4,163.1 1024.7,167.6 1018.9,168.7 1013.1,168.4 1007.4,168.4 1001.6,169.2 995.8,173.0 990.1,174.2 984.3,178.8 978.5,172.7 972.8,173.3 967.0,173.3 961.2,171.7 955.5,172.7 949.7,177.2 943.9,170.2 938.2,173.3 932.4,172.7 926.6,173.3 920.9,185.5 915.1,190.1 909.3,189.4 903.6,189.7 897.8,196.2 892.0,185.2 886.2,177.5 880.5,187.9 874.7,180.6 868.9,168.4 863.2,167.9 857.4,169.2 851.6,171.1 845.9,173.7 840.1,169.6 834.3,172.7 828.6,176.8 822.8,176.0 817.0,190.5 811.3,198.1 805.5,201.2 799.7,201.2 794.0,191.0 788.2,193.1 782.4,195.8 776.7,197.4 770.9,194.6 765.1,184.9 759.4,184.4 753.6,194.3 747.8,192.5 742.0,178.3 736.3,172.2 730.5,172.2 724.7,170.2 719.0,172.2 713.2,178.8 707.4,173.7 701.7,168.4 695.9,173.0 690.1,175.7 684.4,184.4 678.6,170.2 672.8,176.0 667.1,183.3 661.3,191.3 655.5,179.8 649.8,176.3 644.0,177.8 638.2,181.4 632.5,173.7 626.7,177.5 620.9,177.8 615.2,182.9 609.4,173.3 603.6,177.2 597.8,178.3 592.1,183.3 586.3,176.3 580.5,179.8 574.8,187.5 569.0,179.8 563.2,174.2 557.5,176.3 551.7,175.3 545.9,175.3 540.2,168.4 534.4,172.7 528.6,175.7 522.9,182.4 517.1,175.7 511.3,179.4 505.6,177.8 499.8,180.6 494.0,172.7 488.3,177.5 482.5,178.3 476.7,172.7 471.0,178.3 465.2,175.3 459.4,177.2 453.6,177.2 447.9,174.8 442.1,174.8 436.3,175.7 430.6,181.4 424.8,172.7 419.0,176.8 413.3,179.4 407.5,179.1 401.7,169.9 396.0,172.2 390.2,166.9 384.4,164.1 378.7,166.9 372.9,168.4 367.1,166.1 361.4,169.9 355.6,168.4 349.8,171.1 344.1,174.5 338.3,170.2 332.5,170.7 326.8,176.8 321.0,183.3 315.2,185.2 309.4,181.8 303.7,180.9 297.9,179.1 292.1,177.8 286.4,172.2 280.6,172.7 274.8,179.1 269.1,179.8 263.3,172.7 257.5,176.0 251.8,177.2 246.0,175.3 240.2,165.0 234.5,171.4 228.7,184.9 222.9,182.9 217.2,173.7 211.4,168.7 205.6,172.2 199.9,172.7 194.1,176.0 188.3,182.9 182.6,182.9 176.8,174.2 171.0,175.7 165.2,177.5 159.5,184.4 153.7,186.4 147.9,180.6 142.2,172.7 136.4,173.0 130.6,174.5 124.9,169.9 119.1,166.9 113.3,168.4 107.6,173.7 101.8,179.1" fill="#97ad8c" />
<polygon points="101.8,120.1 107.6,120.1 113.3,120.1 119.1,120.1 124.9,120.1 130.6,120.1 136.4,120.1 142.2,120.1 147.9,120.1 153.7,120.1 159.5,120.1 165.2,120.1 171.0,120.1 176.8,120.1 182.6,120.1 188.3,120.1 194.1,120.1 199.9,120.1 205.6,120.1 211.4,120.1 217.2,120.1 222.9,120.1 228.7,120.1 234.5,120.1 240.2,120.1 246.0,120.1 251.8,120.1 257.5,120.1 263.3,120.1 269.1,120.1 274.8,120.1 280.6,120.1 286.4,120.1 292.1,120.1 297.9,120.1 303.7,120.1 309.4,120.1 315.2,120.1 321.0,120.1 326.8,120.1 332.5,120.1 338.3,120.1 344.1,120.1 349.8,120.1 355.6,120.1 361.4,120.1 367.1,120.1 372.9,120.1 378.7,120.1 384.4,120.1 390.2,120.1 396.0,120.1 401.7,120.1 407.5,120.1 413.3,120.1 419.0,120.1 424.8,120.1 430.6,120.1 436.3,120.1 442.1,120.1 447.9,120.1 453.6,120.1 459.4,120.1 465.2,120.1 471.0,120.1 476.7,120.1 482.5,120.1 488.3,120.1 494.0,120.1 499.8,120.1 505.6,120.1 511.3,120.1 517.1,120.1 522.9,120.1 528.6,120.1 534.4,120.1 540.2,120.1 545.9,120.1 551.7,120.1 557.5,120.1 563.2,120.1 569.0,120.1 574.8,120.1 580.5,120.1 586.3,120.1 592.1,120.1 597.8,120.1 603.6,120.1 609.4,120.1 615.2,120.1 620.9,120.1 626.7,120.1 632.5,120.1 638.2,120.1 644.0,120.1 649.8,120.1 655.5,120.1 661.3,120.1 667.1,120.1 672.8,120.1 678.6,120.1 684.4,120.1 690.1,120.1 695.9,120.1 701.7,120.1 707.4,120.1 713.2,120.1 719.0,120.1 724.7,120.1 730.5,120.1 736.3,120.1 742.0,120.1 747.8,120.1 753.6,120.1 759.4,120.1 765.1,120.1 770.9,120.1 776.7,120.1 782.4,120.1 788.2,120.1 794.0,120.1 799.7,120.1 805.5,120.1 811.3,120.1 817.0,120.1 822.8,120.1 828.6,120.1 834.3,120.1 840.1,120.1 845.9,120.1 851.6,120.1 857.4,120.1 863.2,120.1 868.9,120.1 874.7,120.1 880.5,120.1 886.2,120.1 892.0,120.1 897.8,120.1 903.6,120.1 909.3,120.1 915.1,120.1 920.9,120.1 926.6,120.1 932.4,120.1 938.2,120.1 943.9,120.1 949.7,120.1 955.5,120.1 961.2,120.1 967.0,120.1 972.8,120.1 978.5,120.1 984.3,120.1 990.1,120.1 995.8,120.1 1001.6,120.1 1007.4,120.1 1013.1,120.1 1018.9,120.1 1024.7,120.1 1030.4,120.1 1036.2,120.1 1042.0,120.1 1047.8,120.1 1053.5,120.1 1059.3,120.1 1065.1,120.1 1070.8,120.1 1076.6,120.1 1082.4,120.1 1088.1,120.1 1093.9,120.1 1099.7,120.1 1105.4,120.1 1111.2,120.1 1117.0,120.1 1122.7,120.1 1128.5,120.1 1134.3,120.1 1140.0,120.1 1145.8,120.1 1151.6,120.1 1157.3,120.1 1163.1,120.1 1168.9,120.1 1174.6,120.1 1180.4,120.1 1186.2,120.1 1192.0,120.1 1197.7,120.1 1203.5,120.1 1209.3,120.1 1215.0,120.1 1220.8,120.1 1226.6,120.1 1232.3,120.1 1238.1,120.1 1243.9,120.1 1249.6,120.1 1255.4,120.1 1261.2,120.1 1266.9,120.1 1272.7,120.1 1278.5,120.1 1284.2,120.1 1290.0,120.1 1295.8,120.1 1301.5,120.1 1307.3,120.1 1313.1,120.1 1318.8,120.1 1324.6,120.1 1330.4,120.1 1336.2,120.1 1341.9,120.1 1347.7,120.1 1353.5,120.1 1359.2,120.1 1365.0,120.1 1370.8,120.1 1376.5,120.1 1382.3,120.1 1388.1,120.1 1393.8,120.1 1399.6,120.1 1405.4,120.1 1411.1,120.1 1416.9,120.1 1422.7,120.1 1428.4,120.1 1434.2,120.1 1440.0,120.1 1445.7,120.1 1451.5,120.1 1457.3,120.1 1457.3,121.9 1451.5,121.9 1445.7,121.9 1440.0,121.9 1434.2,121.9 1428.4,121.9 1422.7,121.9 1416.9,121.9 1411.1,121.9 1405.4,121.9 1399.6,121.9 1393.8,121.9 1388.1,121.9 1382.3,121.9 1376.5,121.9 1370.8,121.9 1365.0,121.9 1359.2,121.9 1353.5,122.9 1347.7,123.8 1341.9,124.2 1336.2,125.4 1330.4,128.0 1324.6,122.6 1318.8,121.9 1313.1,127.2 1307.3,121.9 1301.5,121.9 1295.8,121.9 1290.0,121.9 1284.2,121.9 1278.5,121.9 1272.7,121.9 1266.9,121.9 1261.2,125.4 1255.4,122.6 1249.6,126.4 1243.9,121.9 1238.1,121.9 1232.3,129.5 1226.6,121.9 1220.8,121.9 1215.0,121.9 1209.3,121.9 1203.5,121.9 1197.7,121.9 1192.0,121.9 1186.2,121.9 1180.4,121.9 1174.6,121.9 1168.9,121.9 1163.1,121.9 1157.3,121.9 1151.6,121.9 1145.8,121.9 1140.0,121.9 1134.3,121.9 1128.5,121.9 1122.7,121.9 1117.0,121.9 1111.2,121.9 1105.4,121.9 1099.7,121.9 1093.9,121.9 1088.1,121.9 1082.4,121.9 1076.6,127.2 1070.8,124.9 1065.1,126.4 1059.3,127.2 1053.5,131.5 1047.8,121.9 1042.0,121.9 1036.2,121.9 1030.4,121.9 1024.7,121.9 1018.9,121.9 1013.1,121.9 1007.4,121.9 1001.6,121.9 995.8,121.9 990.1,121.9 984.3,121.9 978.5,121.9 972.8,121.9 967.0,121.9 961.2,121.9 955.5,121.9 949.7,121.9 943.9,121.9 938.2,123.8 932.4,121.9 926.6,121.9 920.9,128.7 915.1,128.4 909.3,126.0 903.6,128.4 897.8,126.9 892.0,123.8 886.2,124.2 880.5,129.5 874.7,128.0 868.9,121.9 863.2,121.9 857.4,121.9 851.6,124.2 845.9,125.7 840.1,122.6 834.3,121.9 828.6,121.9 822.8,121.9 817.0,134.8 811.3,132.5 805.5,129.5 799.7,129.5 794.0,125.7 788.2,126.0 782.4,124.9 776.7,126.0 770.9,126.4 765.1,124.5 759.4,123.4 753.6,124.9 747.8,126.4 742.0,121.9 736.3,121.9 730.5,121.9 724.7,121.9 719.0,121.9 713.2,121.9 707.4,122.6 701.7,121.9 695.9,121.9 690.1,121.9 684.4,121.9 678.6,121.9 672.8,121.9 667.1,121.9 661.3,121.9 655.5,123.8 649.8,121.9 644.0,121.9 638.2,121.9 632.5,121.9 626.7,121.9 620.9,121.9 615.2,121.9 609.4,121.9 603.6,121.9 597.8,121.9 592.1,121.9 586.3,121.9 580.5,123.4 574.8,125.4 569.0,121.9 563.2,122.6 557.5,124.2 551.7,125.7 545.9,121.9 540.2,121.9 534.4,121.9 528.6,121.9 522.9,121.9 517.1,125.7 511.3,121.9 505.6,121.9 499.8,121.9 494.0,121.9 488.3,121.9 482.5,121.9 476.7,121.9 471.0,121.9 465.2,121.9 459.4,121.9 453.6,121.9 447.9,121.9 442.1,121.9 436.3,121.9 430.6,121.9 424.8,121.9 419.0,121.9 413.3,121.9 407.5,121.9 401.7,121.9 396.0,121.9 390.2,121.9 384.4,121.9 378.7,121.9 372.9,121.9 367.1,121.9 361.4,126.0 355.6,121.9 349.8,121.9 344.1,121.9 338.3,121.9 332.5,121.9 326.8,121.9 321.0,125.7 315.2,128.7 309.4,128.0 303.7,125.7 297.9,121.9 292.1,121.9 286.4,121.9 280.6,121.9 274.8,121.9 269.1,121.9 263.3,121.9 257.5,121.9 251.8,121.9 246.0,121.9 240.2,121.9 234.5,122.6 228.7,134.5 222.9,131.8 217.2,128.0 211.4,121.9 205.6,121.9 199.9,123.4 194.1,129.0 188.3,128.0 182.6,125.7 176.8,123.4 171.0,126.4 165.2,126.4 159.5,129.0 153.7,130.3 147.9,129.5 142.2,122.6 136.4,123.4 130.6,128.0 124.9,123.4 119.1,121.9 113.3,121.9 107.6,128.0 101.8,130.3" fill="#8a1caf" />
<polygon points="101.8,130.3 107.6,128.0 113.3,121.9 119.1,121.9 124.9,123.4 130.6,128.0 136.4,123.4 142.2,122.6 147.9,126.1 153.7,128.0 159.5,129.0 165.2,126.4 171.0,126.4 176.8,123.4 182.6,125.7 188.3,128.0 194.1,129.0 199.9,123.4 205.6,121.9 211.4,121.9 217.2,128.0 222.9,128.4 228.7,131.2 234.5,122.6 240.2,121.9 246.0,121.9 251.8,121.9 257.5,121.9 263.3,121.9 269.1,121.9 274.8,121.9 280.6,121.9 286.4,121.9 292.1,121.9 297.9,121.9 303.7,125.7 309.4,126.4 315.2,127.2 321.0,125.7 326.8,121.9 332.5,121.9 338.3,121.9 344.1,121.9 349.8,121.9 355.6,121.9 361.4,126.0 367.1,121.9 372.9,121.9 378.7,121.9 384.4,121.9 390.2,121.9 396.0,121.9 401.7,121.9 407.5,121.9 413.3,121.9 419.0,121.9 424.8,121.9 430.6,121.9 436.3,121.9 442.1,121.9 447.9,121.9 453.6,121.9 459.4,121.9 465.2,121.9 471.0,121.9 476.7,121.9 482.5,121.9 488.3,121.9 494.0,121.9 499.8,121.9 505.6,121.9 511.3,121.9 517.1,125.7 522.9,121.9 528.6,121.9 534.4,121.9 540.2,121.9 545.9,121.9 551.7,125.7 557.5,124.2 563.2,122.6 569.0,121.9 574.8,125.4 580.5,123.4 586.3,121.9 592.1,121.9 597.8,121.9 603.6,121.9 609.4,121.9 615.2,121.9 620.9,121.9 626.7,121.9 632.5,121.9 638.2,121.9 644.0,121.9 649.8,121.9 655.5,123.8 661.3,121.9 667.1,121.9 672.8,121.9 678.6,121.9 684.4,121.9 690.1,121.9 695.9,121.9 701.7,121.9 707.4,122.6 713.2,121.9 719.0,121.9 724.7,121.9 730.5,121.9 736.3,121.9 742.0,121.9 747.8,126.4 753.6,124.9 759.4,123.4 765.1,124.5 770.9,126.4 776.7,126.0 782.4,124.9 788.2,126.0 794.0,124.5 799.7,126.4 805.5,126.1 811.3,131.0 817.0,134.1 822.8,121.9 828.6,121.9 834.3,121.9 840.1,122.6 845.9,123.8 851.6,124.2 857.4,121.9 863.2,121.9 868.9,121.9 874.7,128.0 880.5,129.5 886.2,124.2 892.0,123.8 897.8,126.9 903.6,128.4 909.3,126.0 915.1,128.4 920.9,128.7 926.6,121.9 932.4,121.9 938.2,123.8 943.9,121.9 949.7,121.9 955.5,121.9 961.2,121.9 967.0,121.9 972.8,121.9 978.5,121.9 984.3,121.9 990.1,121.9 995.8,121.9 1001.6,121.9 1007.4,121.9 1013.1,121.9 1018.9,121.9 1024.7,121.9 1030.4,121.9 1036.2,121.9 1042.0,121.9 1047.8,121.9 1053.5,128.1 1059.3,127.2 1065.1,126.4 1070.8,124.9 1076.6,127.2 1082.4,121.9 1088.1,121.9 1093.9,121.9 1099.7,121.9 1105.4,121.9 1111.2,121.9 1117.0,121.9 1122.7,121.9 1128.5,121.9 1134.3,121.9 1140.0,121.9 1145.8,121.9 1151.6,121.9 1157.3,121.9 1163.1,121.9 1168.9,121.9 1174.6,121.9 1180.4,121.9 1186.2,121.9 1192.0,121.9 1197.7,121.9 1203.5,121.9 1209.3,121.9 1215.0,121.9 1220.8,121.9 1226.6,121.9 1232.3,129.5 1238.1,121.9 1243.9,121.9 1249.6,126.4 1255.4,122.6 1261.2,125.4 1266.9,121.9 1272.7,121.9 1278.5,121.9 1284.2,121.9 1290.0,121.9 1295.8,121.9 1301.5,121.9 1307.3,121.9 1313.1,127.2 1318.8,121.9 1324.6,122.6 1330.4,124.6 1336.2,125.4 1341.9,124.2 1347.7,123.8 1353.5,122.9 1359.2,121.9 1365.0,121.9 1370.8,121.9 1376.5,121.9 1382.3,121.9 1388.1,121.9 1393.8,121.9 1399.6,121.9 1405.4,121.9 1411.1,121.9 1416.9,121.9 1422.7,121.9 1428.4,121.9 1434.2,121.9 1440.0,121.9 1445.7,121.9 1451.5,121.9 1457.3,121.9 1457.3,121.9 1451.5,121.9 1445.7,121.9 1440.0,121.9 1434.2,121.9 1428.4,121.9 1422.7,121.9 1416.9,121.9 1411.1,121.9 1405.4,121.9 1399.6,121.9 1393.8,121.9 1388.1,121.9 1382.3,121.9 1376.5,121.9 1370.8,121.9 1365.0,121.9 1359.2,121.9 1353.5,122.9 1347.7,123.8 1341.9,124.2 1336.2,125.4 1330.4,128.0 1324.6,122.6 1318.8,121.9 1313.1,127.2 1307.3,121.9 1301.5,121.9 1295.8,121.9 1290.0,121.9 1284.2,121.9 1278.5,121.9 1272.7,121.9 1266.9,121.9 1261.2,125.4 1255.4,122.6 1249.6,126.4 1243.9,121.9 1238.1,121.9 1232.3,129.5 1226.6,121.9 1220.8,121.9 1215.0,121.9 1209.3,121.9 1203.5,121.9 1197.7,121.9 1192.0,121.9 1186.2,121.9 1180.4,121.9 1174.6,121.9 1168.9,121.9 1163.1,121.9 1157.3,121.9 1151.6,121.9 1145.8,121.9 1140.0,121.9 1134.3,121.9 1128.5,121.9 1122.7,121.9 1117.0,121.9 1111.2,121.9 1105.4,121.9 1099.7,121.9 1093.9,121.9 1088.1,121.9 1082.4,121.9 1076.6,127.2 1070.8,124.9 1065.1,126.4 1059.3,127.2 1053.5,131.5 1047.8,121.9 1042.0,121.9 1036.2,121.9 1030.4,121.9 1024.7,121.9 1018.9,121.9 1013.1,121.9 1007.4,121.9 1001.6,121.9 995.8,121.9 990.1,121.9 984.3,121.9 978.5,121.9 972.8,121.9 967.0,121.9 961.2,121.9 955.5,121.9 949.7,121.9 943.9,121.9 938.2,123.8 932.4,121.9 926.6,121.9 920.9,128.7 915.1,128.4 909.3,126.0 903.6,128.4 897.8,126.9 892.0,123.8 886.2,124.2 880.5,129.5 874.7,128.0 868.9,121.9 863.2,121.9 857.4,121.9 851.6,124.2 845.9,125.7 840.1,122.6 834.3,121.9 828.6,121.9 822.8,121.9 817.0,134.8 811.3,132.5 805.5,129.5 799.7,129.5 794.0,125.7 788.2,126.0 782.4,124.9 776.7,126.0 770.9,126.4 765.1,124.5 759.4,123.4 753.6,124.9 747.8,126.4 742.0,121.9 736.3,121.9 730.5,121.9 724.7,121.9 719.0,121.9 713.2,121.9 707.4,122.6 701.7,121.9 695.9,121.9 690.1,121.9 684.4,121.9 678.6,121.9 672.8,121.9 667.1,121.9 661.3,121.9 655.5,123.8 649.8,121.9 644.0,121.9 638.2,121.9 632.5,121.9 626.7,121.9 620.9,121.9 615.2,121.9 609.4,121.9 603.6,121.9 597.8,121.9 592.1,121.9 586.3,121.9 580.5,123.4 574.8,125.4 569.0,121.9 563.2,122.6 557.5,124.2 551.7,125.7 545.9,121.9 540.2,121.9 534.4,121.9 528.6,121.9 522.9,121.9 517.1,125.7 511.3,121.9 505.6,121.9 499.8,121.9 494.0,121.9 488.3,121.9 482.5,121.9 476.7,121.9 471.0,121.9 465.2,121.9 459.4,121.9 453.6,121.9 447.9,121.9 442.1,121.9 436.3,121.9 430.6,121.9 424.8,121.9 419.0,121.9 413.3,121.9 407.5,121.9 401.7,121.9 396.0,121.9 390.2,121.9 384.4,121.9 378.7,121.9 372.9,121.9 367.1,121.9 361.4,126.0 355.6,121.9 349.8,121.9 344.1,121.9 338.3,121.9 332.5,121.9 326.8,121.9 321.0,125.7 315.2,128.7 309.4,128.0 303.7,125.7 297.9,121.9 292.1,121.9 286.4,121.9 280.6,121.9 274.8,121.9 269.1,121.9 263.3,121.9 257.5,121.9 251.8,121.9 246.0,121.9 240.2,121.9 234.5,122.6 228.7,134.5 222.9,131.8 217.2,128.0 211.4,121.9 205.6,121.9 199.9,123.4 194.1,129.0 188.3,128.0 182.6,125.7 176.8,123.4 171.0,126.4 165.2,126.4 159.5,129.0 153.7,130.3 147.9,129.5 142.2,122.6 136.4,123.4 130.6,128.0 124.9,123.4 119.1,121.9 113.3,121.9 107.6,128.0 101.8,130.3" fill="#ff29d9" />
<line x1="101.6" x2="1457.6" y1="31.50" y2="31.50" stroke="#b2b2b2" stroke-width="0.69" stroke-dasharray="2.57 1.11" opacity="0.9"/>
<line x1="101.6" x2="1457.6" y1="75.50" y2="75.50" stroke="#b2b2b2" stroke-width="0.69" stroke-dasharray="2.57 1.11" opacity="0.9"/>
<line x1="101.6" x2="1457.6" y1="120.50" y2="120.50" stroke="#b2b2b2" stroke-width="0.69" stroke-dasharray="2.57 1.11" opacity="0.9"/>
<line x1="101.6" x2="1457.6" y1="165.50" y2="165.50" stroke="#b2b2b2" stroke-width="0.69" stroke-dasharray="2.57 1.11" opacity="0.9"/>
<line x1="101.6" x2="1457.6" y1="209.50" y2="209.50" stroke="#b2b2b2" stroke-width="0.69" stroke-dasharray="2.57 1.11" opacity="0.9"/>
<line x1="817.45" x2="817.45" y1="31.5" y2="209.8" stroke="#b2b2b2" stroke-width="0.69" stroke-dasharray="2.57 1.11" opacity="0.9"/>
<polyline points="101.8,104.4 107.6,104.4 113.3,99.8 119.1,99.1 124.9,99.1 130.6,99.1 136.4,99.1 142.2,99.1 147.9,99.1 153.7,99.1 159.5,99.1 165.2,100.3 171.0,99.1 176.8,98.8 182.6,98.8 188.3,98.8 194.1,100.6 199.9,110.5 205.6,104.4 211.4,106.7 217.2,101.4 222.9,99.8 228.7,102.1 234.5,109.7 240.2,110.5 246.0,96.0 251.8,95.3 257.5,97.5 263.3,99.8 269.1,95.3 274.8,97.5 280.6,102.1 286.4,104.4 292.1,99.1 297.9,100.9 303.7,100.6 309.4,102.1 315.2,102.9 321.0,101.4 326.8,99.8 332.5,102.9 338.3,106.4 344.1,99.8 349.8,100.6 355.6,101.4 361.4,105.9 367.1,107.0 372.9,100.9 378.7,102.9 384.4,109.7 390.2,105.9 396.0,99.1 401.7,98.3 407.5,95.3 413.3,92.7 419.0,94.2 424.8,97.5 430.6,98.3 436.3,99.4 442.1,97.5 447.9,96.8 453.6,101.4 459.4,97.5 465.2,99.1 471.0,97.2 476.7,106.7 482.5,98.3 488.3,96.8 494.0,99.8 499.8,95.3 505.6,96.8 511.3,98.3 517.1,99.1 522.9,97.2 528.6,97.8 534.4,99.1 540.2,100.3 545.9,100.6 551.7,99.8 557.5,99.1 563.2,98.3 569.0,96.8 574.8,92.2 580.5,98.3 586.3,98.3 592.1,91.7 597.8,93.3 603.6,93.0 609.4,94.8 615.2,92.7 620.9,95.3 626.7,96.0 632.5,98.3 638.2,96.8 644.0,95.7 649.8,95.7 655.5,92.2 661.3,88.4 667.1,89.2 672.8,97.5 678.6,96.8 684.4,96.0 690.1,94.2 695.9,94.5 701.7,96.8 707.4,99.1 713.2,99.1 719.0,96.8 724.7,94.8 730.5,96.8 736.3,97.5 742.0,99.1 747.8,99.1 753.6,99.1 759.4,99.1 765.1,99.1 770.9,99.1 776.7,99.1 782.4,99.1 788.2,102.9 794.0,105.2 799.7,99.1 805.5,99.1 811.3,99.1 817.0,99.1 822.8,99.1 828.6,102.1 834.3,106.7 840.1,101.4 845.9,99.8 851.6,100.6 857.4,100.9 863.2,99.8 868.9,99.1 874.7,99.1 880.5,99.1 886.2,99.1 892.0,99.1 897.8,99.1 903.6,99.1 909.3,99.1 915.1,99.1 920.9,99.1 926.6,99.8 932.4,104.4 938.2,94.8 943.9,98.3 949.7,96.8 955.5,99.8 961.2,106.7 967.0,102.1 972.8,98.3 978.5,97.2 984.3,95.3 990.1,99.1 995.8,97.8 1001.6,101.4 1007.4,105.9 1013.1,104.4 1018.9,105.2 1024.7,102.1 1030.4,102.9 1036.2,100.9 1042.0,100.3 1047.8,99.8 1053.5,99.4 1059.3,98.8 1065.1,99.1 1070.8,99.8 1076.6,99.8 1082.4,99.8 1088.1,100.9 1093.9,102.1 1099.7,107.0 1105.4,99.8 1111.2,92.7 1117.0,97.5 1122.7,100.3 1128.5,100.3 1134.3,99.8 1140.0,100.3 1145.8,103.3 1151.6,99.8 1157.3,104.4 1163.1,102.1 1168.9,102.9 1174.6,100.6 1180.4,99.8 1186.2,104.1 1192.0,105.2 1197.7,102.9 1203.5,101.4 1209.3,100.9 1215.0,102.1 1220.8,101.4 1226.6,99.8 1232.3,96.8 1238.1,93.0 1243.9,86.9 1249.6,96.8 1255.4,102.1 1261.2,92.2 1266.9,93.0 1272.7,95.7 1278.5,98.3 1284.2,99.8 1290.0,108.2 1295.8,105.2 1301.5,106.7 1307.3,109.4 1313.1,109.0 1318.8,105.5 1324.6,106.7 1330.4,101.4 1336.2,99.1 1341.9,98.8 1347.7,98.8 1353.5,98.3 1359.2,92.2 1365.0,99.1 1370.8,93.7 1376.5,89.6 1382.3,95.3 1388.1,96.8 1393.8,99.1 1399.6,92.2 1405.4,97.8 1411.1,102.1 1416.9,97.2 1422.7,100.6 1428.4,98.3 1434.2,93.7 1440.0,96.8 1445.7,93.7 1451.5,92.2 1457.3,99.1" fill="none" stroke="#b5e2fa" stroke-width="2.78" stroke-linejoin="round"/>
<polygon points="101.8,114.8 107.6,114.8 113.3,114.8 119.1,114.8 124.9,114.8 130.6,114.8 136.4,114.8 142.2,114.8 147.9,114.8 153.7,114.8 159.5,114.8 165.2,114.8 171.0,114.8 176.8,114.8 182.6,114.8 188.3,114.8 194.1,114.8 199.9,113.3 205.6,105.6 211.4,114.0 217.2,114.8 222.9,114.8 228.7,114.8 234.5,112.5 240.2,111.5 246.0,97.0 251.8,100.3 257.5,106.4 263.3,112.5 269.1,103.3 274.8,101.1 280.6,108.7 286.4,107.2 292.1,108.7 297.9,112.5 303.7,114.8 309.4,114.8 315.2,114.8 321.0,114.8 326.8,113.3 332.5,111.7 338.3,109.4 344.1,101.1 349.8,102.6 355.6,103.3 361.4,107.2 367.1,108.0 372.9,107.2 378.7,106.4 384.4,114.8 390.2,112.5 396.0,106.4 401.7,101.8 407.5,98.0 413.3,94.2 419.0,95.2 424.8,98.5 430.6,99.3 436.3,100.4 442.1,98.5 447.9,97.8 453.6,102.4 459.4,98.8 465.2,101.8 471.0,100.3 476.7,110.2 482.5,102.6 488.3,102.6 494.0,112.5 499.8,111.7 505.6,113.3 511.3,114.8 517.1,114.8 522.9,114.0 528.6,114.0 534.4,114.3 540.2,114.8 545.9,114.8 551.7,114.8 557.5,114.8 563.2,114.0 569.0,113.3 574.8,109.4 580.5,114.8 586.3,114.8 592.1,109.4 597.8,110.2 603.6,109.4 609.4,107.9 615.2,100.3 620.9,98.0 626.7,97.0 632.5,99.3 638.2,97.8 644.0,96.7 649.8,96.7 655.5,93.2 661.3,95.4 667.1,101.1 672.8,113.3 678.6,113.3 684.4,112.2 690.1,111.0 695.9,111.0 701.7,113.3 707.4,114.8 713.2,114.8 719.0,112.5 724.7,111.0 730.5,112.5 736.3,113.3 742.0,114.8 747.8,114.8 753.6,114.8 759.4,114.8 765.1,114.8 770.9,114.8 776.7,114.8 782.4,114.8 788.2,114.8 794.0,114.8 799.7,114.8 805.5,114.8 811.3,114.8 817.0,114.8 822.8,114.8 828.6,112.5 834.3,114.8 840.1,114.8 845.9,114.8 851.6,114.8 857.4,114.8 863.2,114.8 868.9,114.8 874.7,114.8 880.5,114.8 886.2,114.8 892.0,114.8 897.8,114.8 903.6,114.8 909.3,114.8 915.1,114.8 920.9,114.8 926.6,109.4 932.4,110.2 938.2,108.7 943.9,113.3 949.7,111.7 955.5,113.3 961.2,110.2 967.0,104.1 972.8,102.6 978.5,104.9 984.3,105.6 990.1,107.2 995.8,101.8 1001.6,102.4 1007.4,106.9 1013.1,105.4 1018.9,106.2 1024.7,103.1 1030.4,114.8 1036.2,114.8 1042.0,114.8 1047.8,114.8 1053.5,114.8 1059.3,114.8 1065.1,114.8 1070.8,114.8 1076.6,114.8 1082.4,107.9 1088.1,102.6 1093.9,103.1 1099.7,108.0 1105.4,101.1 1111.2,103.3 1117.0,114.0 1122.7,114.8 1128.5,114.8 1134.3,114.8 1140.0,108.7 1145.8,104.3 1151.6,100.8 1157.3,105.4 1163.1,103.1 1168.9,103.9 1174.6,101.6 1180.4,100.8 1186.2,105.1 1192.0,106.2 1197.7,103.9 1203.5,102.4 1209.3,101.9 1215.0,103.1 1220.8,104.1 1226.6,109.4 1232.3,114.8 1238.1,109.4 1243.9,104.9 1249.6,114.8 1255.4,114.8 1261.2,106.4 1266.9,103.3 1272.7,109.4 1278.5,110.2 1284.2,110.2 1290.0,114.8 1295.8,113.3 1301.5,111.7 1307.3,114.8 1313.1,114.8 1318.8,114.8 1324.6,114.8 1330.4,114.8 1336.2,114.8 1341.9,114.8 1347.7,114.8 1353.5,114.8 1359.2,109.4 1365.0,114.8 1370.8,111.0 1376.5,107.2 1382.3,111.7 1388.1,113.3 1393.8,114.0 1399.6,100.3 1405.4,103.3 1411.1,105.6 1416.9,99.5 1422.7,101.6 1428.4,100.0 1434.2,98.8 1440.0,101.8 1445.7,102.1 1451.5,102.6 1457.3,114.8 1457.3,118.6 1451.5,105.9 1445.7,105.5 1440.0,105.2 1434.2,102.1 1428.4,103.3 1422.7,104.4 1416.9,102.9 1411.1,109.0 1405.4,106.7 1399.6,103.6 1393.8,117.4 1388.1,116.6 1382.3,115.1 1376.5,110.5 1370.8,114.3 1365.0,118.1 1359.2,112.8 1353.5,118.1 1347.7,118.6 1341.9,118.6 1336.2,118.6 1330.4,118.6 1324.6,118.6 1318.8,118.6 1313.1,118.6 1307.3,118.1 1301.5,115.1 1295.8,116.6 1290.0,118.6 1284.2,113.6 1278.5,113.6 1272.7,112.8 1266.9,106.7 1261.2,109.7 1255.4,118.6 1249.6,118.1 1243.9,108.2 1238.1,112.8 1232.3,118.1 1226.6,112.8 1220.8,107.5 1215.0,103.6 1209.3,101.9 1203.5,102.4 1197.7,103.9 1192.0,106.2 1186.2,105.1 1180.4,100.8 1174.6,102.1 1168.9,103.9 1163.1,103.6 1157.3,105.4 1151.6,101.4 1145.8,106.7 1140.0,112.0 1134.3,118.1 1128.5,118.6 1122.7,118.6 1117.0,117.4 1111.2,106.7 1105.4,104.4 1099.7,108.2 1093.9,104.4 1088.1,105.9 1082.4,111.3 1076.6,118.1 1070.8,118.6 1065.1,118.6 1059.3,118.6 1053.5,118.6 1047.8,118.6 1042.0,118.1 1036.2,118.1 1030.4,118.1 1024.7,105.9 1018.9,106.4 1013.1,105.4 1007.4,107.0 1001.6,105.2 995.8,105.2 990.1,110.5 984.3,109.0 978.5,108.2 972.8,105.9 967.0,107.5 961.2,113.6 955.5,116.6 949.7,115.1 943.9,116.6 938.2,112.0 932.4,113.6 926.6,112.8 920.9,118.1 915.1,118.6 909.3,118.6 903.6,118.6 897.8,118.6 892.0,118.6 886.2,118.6 880.5,118.6 874.7,118.6 868.9,118.6 863.2,118.6 857.4,118.6 851.6,118.6 845.9,118.6 840.1,118.6 834.3,118.1 828.6,115.8 822.8,118.6 817.0,118.6 811.3,118.6 805.5,118.6 799.7,118.6 794.0,118.6 788.2,118.6 782.4,118.6 776.7,118.6 770.9,118.6 765.1,118.6 759.4,118.6 753.6,118.6 747.8,118.6 742.0,118.1 736.3,116.6 730.5,115.8 724.7,114.3 719.0,115.8 713.2,118.1 707.4,118.1 701.7,116.6 695.9,114.3 690.1,114.3 684.4,115.5 678.6,116.6 672.8,116.6 667.1,104.4 661.3,98.8 655.5,96.3 649.8,97.8 644.0,98.3 638.2,100.6 632.5,102.1 626.7,99.8 620.9,101.4 615.2,103.6 609.4,111.3 603.6,112.8 597.8,113.6 592.1,112.8 586.3,118.1 580.5,118.1 574.8,112.8 569.0,116.6 563.2,117.4 557.5,118.1 551.7,118.6 545.9,118.6 540.2,118.6 534.4,117.7 528.6,117.4 522.9,117.4 517.1,118.6 511.3,118.1 505.6,116.6 499.8,115.1 494.0,115.8 488.3,105.9 482.5,105.9 476.7,113.6 471.0,103.6 465.2,105.2 459.4,102.1 453.6,104.4 447.9,100.6 442.1,101.4 436.3,102.1 430.6,101.4 424.8,100.6 419.0,98.3 413.3,97.5 407.5,101.4 401.7,105.2 396.0,109.7 390.2,115.8 384.4,118.1 378.7,109.7 372.9,110.5 367.1,111.3 361.4,110.5 355.6,106.7 349.8,105.9 344.1,104.4 338.3,112.8 332.5,115.1 326.8,116.6 321.0,118.6 315.2,118.6 309.4,118.6 303.7,118.1 297.9,115.8 292.1,112.0 286.4,110.5 280.6,112.0 274.8,104.4 269.1,106.7 263.3,115.8 257.5,109.7 251.8,103.6 246.0,99.8 240.2,113.6 234.5,115.8 228.7,118.1 222.9,118.1 217.2,118.1 211.4,117.4 205.6,109.0 199.9,116.6 194.1,118.3 188.3,118.3 182.6,118.3 176.8,118.3 171.0,118.3 165.2,118.3 159.5,118.3 153.7,118.3 147.9,118.3 142.2,118.3 136.4,118.3 130.6,118.3 124.9,118.3 119.1,118.3 113.3,118.3 107.6,118.3 101.8,118.3" fill="#6895dd" />
<polyline points="199.9,116.6 205.6,109.0 211.4,117.4" fill="none" stroke="#991f83" stroke-width="1.0" stroke-linejoin="round"/>
<polyline points="234.5,115.8 240.2,113.6 246.0,99.8 251.8,103.6 257.5,109.7 263.3,115.8 269.1,106.7 274.8,104.4 280.6,112.0 286.4,110.5 292.1,112.0 297.9,115.8" fill="none" stroke="#991f83" stroke-width="1.0" stroke-linejoin="round"/>
<polyline points="326.8,116.6 332.5,115.1 338.3,112.8 344.1,104.4 349.8,105.9 355.6,106.7 361.4,110.5 367.1,111.3 372.9,110.5 378.7,109.7" fill="none" stroke="#991f83" stroke-width="1.0" stroke-linejoin="round"/>
<polyline points="390.2,115.8 396.0,109.7 401.7,105.2 407.5,101.4 413.3,97.5 419.0,98.3 424.8,100.6 430.6,101.4 436.3,102.1 442.1,101.4 447.9,100.6 453.6,104.4 459.4,102.1 465.2,105.2 471.0,103.6 476.7,113.6 482.5,105.9 488.3,105.9 494.0,115.8 499.8,115.1 505.6,116.6" fill="none" stroke="#991f83" stroke-width="1.0" stroke-linejoin="round"/>
<polyline points="522.9,117.4 528.6,117.4 534.4,117.7" fill="none" stroke="#991f83" stroke-width="1.0" stroke-linejoin="round"/>
<polyline points="563.2,117.4 569.0,116.6 574.8,112.8" fill="none" stroke="#991f83" stroke-width="1.0" stroke-linejoin="round"/>
<polyline points="592.1,112.8 597.8,113.6 603.6,112.8 609.4,111.3 615.2,103.6 620.9,101.4 626.7,99.8 632.5,102.1 638.2,100.6 644.0,98.3 649.8,97.8 655.5,96.3 661.3,98.8 667.1,104.4 672.8,116.6 678.6,116.6 684.4,115.5 690.1,114.3 695.9,114.3 701.7,116.6" fill="none" stroke="#991f83" stroke-width="1.0" stroke-linejoin="round"/>
<polyline points="719.0,115.8 724.7,114.3 730.5,115.8 736.3,116.6" fill="none" stroke="#991f83" stroke-width="1.0" stroke-linejoin="round"/>
<polyline points="926.6,112.8 932.4,113.6 938.2,112.0 943.9,116.6 949.7,115.1 955.5,116.6 961.2,113.6 967.0,107.5 972.8,105.9 978.5,108.2 984.3,109.0 990.1,110.5 995.8,105.2 1001.6,105.2 1007.4,107.0 1013.1,105.4 1018.9,106.4 1024.7,105.9" fill="none" stroke="#991f83" stroke-width="1.0" stroke-linejoin="round"/>
<polyline points="1082.4,111.3 1088.1,105.9 1093.9,104.4 1099.7,108.2 1105.4,104.4 1111.2,106.7 1117.0,117.4" fill="none" stroke="#991f83" stroke-width="1.0" stroke-linejoin="round"/>
<polyline points="1140.0,112.0 1145.8,106.7 1151.6,101.4 1157.3,105.4 1163.1,103.6 1168.9,103.9 1174.6,102.1 1180.4,100.8 1186.2,105.1 1192.0,106.2 1197.7,103.9 1203.5,102.4 1209.3,101.9 1215.0,103.6 1220.8,107.5 1226.6,112.8" fill="none" stroke="#991f83" stroke-width="1.0" stroke-linejoin="round"/>
<polyline points="1238.1,112.8 1243.9,108.2" fill="none" stroke="#991f83" stroke-width="1.0" stroke-linejoin="round"/>
<polyline points="1261.2,109.7 1266.9,106.7 1272.7,112.8 1278.5,113.6 1284.2,113.6" fill="none" stroke="#991f83" stroke-width="1.0" stroke-linejoin="round"/>
<polyline points="1295.8,116.6 1301.5,115.1" fill="none" stroke="#991f83" stroke-width="1.0" stroke-linejoin="round"/>
<polyline points="1370.8,114.3 1376.5,110.5 1382.3,115.1 1388.1,116.6 1393.8,117.4 1399.6,103.6 1405.4,106.7 1411.1,109.0 1416.9,102.9 1422.7,104.4 1428.4,103.3 1434.2,102.1 1440.0,105.2 1445.7,105.5 1451.5,105.9" fill="none" stroke="#991f83" stroke-width="1.0" stroke-linejoin="round"/>
<polyline points="194.1,71.6 199.9,91.4 205.6,92.2 211.4,95.3 217.2,88.4 222.9,80.8 228.7,79.2 234.5,91.4 240.2,98.3 246.0,88.4 251.8,86.9 257.5,87.6 263.3,91.4 269.1,83.8 274.8,84.6 280.6,90.7 286.4,91.4 292.1,86.1 297.9,84.6 303.7,82.6 309.4,81.5 315.2,78.8 321.0,80.8 326.8,86.9 332.5,92.7 338.3,93.0 344.1,89.2 349.8,91.7 355.6,94.2 361.4,93.3 367.1,96.8 372.9,95.3 378.7,96.8 384.4,98.8 390.2,96.3 396.0,92.2 401.7,93.3 407.5,85.3 413.3,85.0 419.0,86.9 424.8,90.7 430.6,82.6 436.3,88.4 442.1,88.7 447.9,88.7 453.6,87.6 459.4,86.9 465.2,88.7 471.0,86.1 476.7,91.1 482.5,86.1 488.3,86.9 494.0,90.7 499.8,84.1 505.6,85.3 511.3,84.1 517.1,82.3 522.9,79.2 528.6,81.5 534.4,83.8 540.2,86.1 545.9,81.5 551.7,79.2 557.5,76.9 563.2,78.9 569.0,76.9 574.8,74.4 580.5,84.6 586.3,87.6 592.1,80.5 597.8,84.6 603.6,86.1 609.4,89.9 615.2,80.5 620.9,85.3 626.7,86.1 632.5,89.6 638.2,82.6 644.0,85.0 649.8,86.9 655.5,83.5 661.3,72.4 667.1,80.0 672.8,86.6 678.6,81.5 684.4,76.9 690.1,75.0 695.9,71.6" fill="none" stroke="#fdb915" stroke-width="2.6" stroke-linejoin="round"/>
<polyline points="822.8,71.6 828.6,85.3 834.3,90.7 840.1,85.3 845.9,75.4 851.6,76.2 857.4,79.2 863.2,82.3 868.9,78.5" fill="none" stroke="#fdb915" stroke-width="2.6" stroke-linejoin="round"/>
<polyline points="920.9,62.5 926.6,76.9 932.4,84.6 938.2,74.7 943.9,82.3 949.7,86.9 955.5,89.9 961.2,92.7 967.0,90.7 972.8,90.7 978.5,90.2 984.3,83.8 990.1,88.4 995.8,89.6 1001.6,93.7 1007.4,94.8 1013.1,94.8 1018.9,93.7 1024.7,94.8 1030.4,85.3 1036.2,82.6 1042.0,77.7 1047.8,75.4 1053.5,65.5 1059.3,69.8 1065.1,80.0 1070.8,86.9 1076.6,83.8 1082.4,87.6 1088.1,88.4 1093.9,90.7 1099.7,94.5 1105.4,89.2 1111.2,85.0 1117.0,87.6 1122.7,78.5 1128.5,77.7 1134.3,85.3 1140.0,89.6 1145.8,91.1 1151.6,88.7 1157.3,90.7 1163.1,93.0 1168.9,95.3 1174.6,92.7 1180.4,90.7 1186.2,95.3 1192.0,96.0 1197.7,95.3 1203.5,93.0 1209.3,93.7 1215.0,90.7 1220.8,91.4 1226.6,91.1 1232.3,82.3 1238.1,73.1 1243.9,69.8 1249.6,83.8 1255.4,87.6 1261.2,70.8 1266.9,73.1 1272.7,82.3 1278.5,86.1 1284.2,79.2 1290.0,89.2 1295.8,89.2 1301.5,92.2 1307.3,86.1 1313.1,85.3 1318.8,87.6 1324.6,89.9 1330.4,73.9 1336.2,72.4 1341.9,77.7 1347.7,81.5 1353.5,79.2 1359.2,76.2 1365.0,87.6 1370.8,79.2 1376.5,73.1 1382.3,80.0 1388.1,86.1 1393.8,92.2 1399.6,80.0 1405.4,86.9 1411.1,89.6 1416.9,91.1 1422.7,90.7 1428.4,88.4 1434.2,86.1 1440.0,90.7 1445.7,82.3 1451.5,82.3 1457.3,88.4" fill="none" stroke="#fdb915" stroke-width="2.6" stroke-linejoin="round"/>
<polyline points="101.8,61.4 107.6,66.7 113.3,72.8 119.1,74.4 124.9,71.3 130.6,66.7 136.4,68.3 142.2,69.0 147.9,61.4 153.7,54.8 159.5,57.6 165.2,62.9 171.0,65.2 176.8,66.7 182.6,58.3 188.3,58.3 194.1,65.2 199.9,69.0 205.6,69.8 211.4,73.6 217.2,67.5 222.9,58.3 228.7,56.8 234.5,69.8 240.2,76.7 246.0,66.0 251.8,64.4 257.5,66.0 263.3,69.8 269.1,61.4 274.8,62.2 280.6,69.0 286.4,69.8 292.1,63.7 297.9,62.2 303.7,60.2 309.4,59.6 315.2,56.1 321.0,58.0 326.8,64.4 332.5,70.9 338.3,70.9 344.1,66.7 349.8,69.8 355.6,72.8 361.4,71.3 367.1,75.4 372.9,73.3 378.7,75.1 384.4,77.9 390.2,74.8 396.0,69.3 401.7,71.8 407.5,62.2 413.3,61.9 419.0,64.8 424.8,68.7 430.6,60.2 436.3,66.0 442.1,66.7 447.9,66.7 453.6,64.1 459.4,64.1 465.2,66.0 471.0,63.2 476.7,69.0 482.5,63.2 488.3,64.1 494.0,69.0 499.8,61.4 505.6,63.2 511.3,62.2 517.1,65.2 522.9,59.1 528.6,65.2 534.4,69.0 540.2,73.6 545.9,66.7 551.7,66.0 557.5,65.2 563.2,67.5 569.0,61.1 574.8,53.8 580.5,61.4 586.3,65.2 592.1,58.0 597.8,62.2 603.6,65.2 609.4,69.0 615.2,58.3 620.9,63.2 626.7,64.1 632.5,68.3 638.2,60.2 644.0,62.9 649.8,65.2 655.5,61.4 661.3,50.0 667.1,56.8 672.8,64.4 678.6,71.3 684.4,57.1 690.1,66.0 695.9,69.0 701.7,73.6 707.4,68.3 713.2,62.9 719.0,69.0 724.7,71.3 730.5,69.3 736.3,69.0 742.0,63.7 747.8,49.2 753.6,47.4 759.4,56.8 765.1,56.8 770.9,46.1 776.7,43.9 782.4,45.4 788.2,48.0 794.0,50.4 799.7,40.0 805.5,39.7 811.3,43.1 817.0,50.7 822.8,66.0 828.6,64.8 834.3,69.0 840.1,72.8 845.9,68.3 851.6,70.5 857.4,72.4 863.2,73.9 868.9,73.3 874.7,60.6 880.5,53.8 886.2,63.7 892.0,56.8 897.8,45.4 903.6,52.2 909.3,52.2 915.1,51.8 920.9,56.1 926.6,69.0 932.4,69.3 938.2,68.3 943.9,72.1 949.7,64.1 955.5,68.3 961.2,69.8 967.0,68.3 972.8,68.7 978.5,68.3 984.3,62.2 990.1,66.7 995.8,68.3 1001.6,72.4 1007.4,72.8 1013.1,72.8 1018.9,72.4 1024.7,73.6 1030.4,78.2 1036.2,77.0 1042.0,72.8 1047.8,70.5 1053.5,57.6 1059.3,63.7 1065.1,58.3 1070.8,64.4 1076.6,61.7 1082.4,66.0 1088.1,66.7 1093.9,69.8 1099.7,72.8 1105.4,67.5 1111.2,63.7 1117.0,67.5 1122.7,72.1 1128.5,67.5 1134.3,62.6 1140.0,68.3 1145.8,69.0 1151.6,66.7 1157.3,69.0 1163.1,71.3 1168.9,73.6 1174.6,70.5 1180.4,68.7 1186.2,73.6 1192.0,73.9 1197.7,73.6 1203.5,70.9 1209.3,71.8 1215.0,69.0 1220.8,69.3 1226.6,69.0 1232.3,60.6 1238.1,68.3 1243.9,63.7 1249.6,61.7 1255.4,67.5 1261.2,64.1 1266.9,66.7 1272.7,64.8 1278.5,69.0 1284.2,71.8 1290.0,68.3 1295.8,66.7 1301.5,70.5 1307.3,64.1 1313.1,63.2 1318.8,65.2 1324.6,67.5 1330.4,65.7 1336.2,66.3 1341.9,64.8 1347.7,69.0 1353.5,73.6 1359.2,70.2 1365.0,67.5 1370.8,71.3 1376.5,67.5 1382.3,65.2 1388.1,63.7 1393.8,68.7 1399.6,67.8 1405.4,64.9 1411.1,68.3 1416.9,69.3 1422.7,68.3 1428.4,66.3 1434.2,63.7 1440.0,68.3 1445.7,69.8 1451.5,62.9 1457.3,67.5" fill="none" stroke="#9d9042" stroke-width="2.78" stroke-linejoin="round"/>
<polyline points="101.8,59.8 107.6,65.1 113.3,71.2 119.1,72.8 124.9,69.7 130.6,65.1 136.4,66.7 142.2,67.4 147.9,59.8 153.7,53.2 159.5,56.0 165.2,61.3 171.0,63.6 176.8,65.1 182.6,56.7 188.3,56.7 194.1,63.6 199.9,67.4 205.6,68.2 211.4,72.0 217.2,65.9 222.9,56.7 228.7,55.2 234.5,68.2 240.2,75.1 246.0,64.4 251.8,62.8 257.5,64.4 263.3,68.2 269.1,59.8 274.8,60.6 280.6,67.4 286.4,68.2 292.1,62.1 297.9,60.6 303.7,58.6 309.4,58.0 315.2,54.5 321.0,56.4 326.8,62.8 332.5,69.3 338.3,69.3 344.1,65.1 349.8,68.2 355.6,71.2 361.4,69.7 367.1,73.8 372.9,71.7 378.7,73.5 384.4,76.3 390.2,73.2 396.0,67.7 401.7,70.2 407.5,60.6 413.3,60.3 419.0,63.2 424.8,67.1 430.6,58.6 436.3,64.4 442.1,65.1 447.9,65.1 453.6,62.5 459.4,62.5 465.2,64.4 471.0,61.6 476.7,67.4 482.5,61.6 488.3,62.5 494.0,67.4 499.8,59.8 505.6,61.6 511.3,60.6 517.1,63.6 522.9,57.5 528.6,63.6 534.4,67.4 540.2,72.0 545.9,65.1 551.7,64.4 557.5,63.6 563.2,65.9 569.0,59.5 574.8,52.2 580.5,59.8 586.3,63.6 592.1,56.4 597.8,60.6 603.6,63.6 609.4,67.4 615.2,56.7 620.9,61.6 626.7,62.5 632.5,66.7 638.2,58.6 644.0,61.3 649.8,63.6 655.5,59.8 661.3,48.4 667.1,55.2 672.8,62.8 678.6,69.7 684.4,55.5 690.1,64.4 695.9,67.4 701.7,72.0 707.4,66.7 713.2,61.3 719.0,67.4 724.7,69.7 730.5,67.7 736.3,67.4 742.0,62.1 747.8,47.6 753.6,45.8 759.4,55.2 765.1,55.2 770.9,44.5 776.7,42.3 782.4,43.8 788.2,46.4 794.0,48.8 799.7,38.4 805.5,38.1 811.3,41.5 817.0,49.1 822.8,64.4 828.6,63.2 834.3,67.4 840.1,71.2 845.9,66.7 851.6,68.9 857.4,70.8 863.2,72.3 868.9,71.7 874.7,59.0 880.5,52.2 886.2,62.1 892.0,55.2 897.8,43.8 903.6,50.6 909.3,50.6 915.1,50.2 920.9,54.5 926.6,67.4 932.4,67.7 938.2,66.7 943.9,70.5 949.7,62.5 955.5,66.7 961.2,68.2 967.0,66.7 972.8,67.1 978.5,66.7 984.3,60.6 990.1,65.1 995.8,66.7 1001.6,70.8 1007.4,71.2 1013.1,71.2 1018.9,70.8 1024.7,72.0 1030.4,76.6 1036.2,75.4 1042.0,71.2 1047.8,68.9 1053.5,56.0 1059.3,62.1 1065.1,56.7 1070.8,62.8 1076.6,60.1 1082.4,64.4 1088.1,65.1 1093.9,68.2 1099.7,71.2 1105.4,65.9 1111.2,62.1 1117.0,65.9 1122.7,70.5 1128.5,65.9 1134.3,61.0 1140.0,66.7 1145.8,67.4 1151.6,65.1 1157.3,67.4 1163.1,69.7 1168.9,72.0 1174.6,68.9 1180.4,67.1 1186.2,72.0 1192.0,72.3 1197.7,72.0 1203.5,69.3 1209.3,70.2 1215.0,67.4 1220.8,67.7 1226.6,67.4 1232.3,59.0 1238.1,66.7 1243.9,62.1 1249.6,60.1 1255.4,65.9 1261.2,62.5 1266.9,65.1 1272.7,63.2 1278.5,67.4 1284.2,70.2 1290.0,66.7 1295.8,65.1 1301.5,68.9 1307.3,62.5 1313.1,61.6 1318.8,63.6 1324.6,65.9 1330.4,64.1 1336.2,64.7 1341.9,63.2 1347.7,67.4 1353.5,72.0 1359.2,68.6 1365.0,65.9 1370.8,69.7 1376.5,65.9 1382.3,63.6 1388.1,62.1 1393.8,67.1 1399.6,66.2 1405.4,63.3 1411.1,66.7 1416.9,67.7 1422.7,66.7 1428.4,64.7 1434.2,62.1 1440.0,66.7 1445.7,68.2 1451.5,61.3 1457.3,65.9" fill="none" stroke="#6e5d24" stroke-width="2.78" stroke-linejoin="round"/>
<polyline points="101.8,130.3 107.6,128.0 113.3,121.9 119.1,121.9 124.9,123.4 130.6,128.0 136.4,123.4 142.2,122.6 147.9,129.5 153.7,130.3 159.5,129.0 165.2,126.4 171.0,126.4 176.8,123.4 182.6,125.7 188.3,128.0 194.1,129.0 199.9,123.4 205.6,121.9 211.4,121.9 217.2,128.0 222.9,131.8 228.7,134.5 234.5,122.6 240.2,121.9" fill="none" stroke="#88a75b" stroke-width="2.4" stroke-linejoin="round"/>
<polyline points="297.9,121.9 303.7,125.7 309.4,128.0 315.2,128.7 321.0,125.7 326.8,121.9" fill="none" stroke="#88a75b" stroke-width="2.4" stroke-linejoin="round"/>
<polyline points="355.6,121.9 361.4,126.0 367.1,121.9" fill="none" stroke="#88a75b" stroke-width="2.4" stroke-linejoin="round"/>
<polyline points="511.3,121.9 517.1,125.7 522.9,121.9" fill="none" stroke="#88a75b" stroke-width="2.4" stroke-linejoin="round"/>
<polyline points="545.9,121.9 551.7,125.7 557.5,124.2 563.2,122.6 569.0,121.9 574.8,125.4 580.5,123.4 586.3,121.9" fill="none" stroke="#88a75b" stroke-width="2.4" stroke-linejoin="round"/>
<polyline points="649.8,121.9 655.5,123.8 661.3,121.9" fill="none" stroke="#88a75b" stroke-width="2.4" stroke-linejoin="round"/>
<polyline points="701.7,121.9 707.4,122.6 713.2,121.9" fill="none" stroke="#88a75b" stroke-width="2.4" stroke-linejoin="round"/>
<polyline points="742.0,121.9 747.8,126.4 753.6,124.9 759.4,123.4 765.1,124.5 770.9,126.4 776.7,126.0 782.4,124.9 788.2,126.0 794.0,125.7 799.7,129.5 805.5,129.5 811.3,132.5 817.0,134.8 822.8,121.9" fill="none" stroke="#88a75b" stroke-width="2.4" stroke-linejoin="round"/>
<polyline points="834.3,121.9 840.1,122.6 845.9,125.7 851.6,124.2 857.4,121.9" fill="none" stroke="#88a75b" stroke-width="2.4" stroke-linejoin="round"/>
<polyline points="868.9,121.9 874.7,128.0 880.5,129.5 886.2,124.2 892.0,123.8 897.8,126.9 903.6,128.4 909.3,126.0 915.1,128.4 920.9,128.7 926.6,121.9 932.4,121.9 938.2,123.8 943.9,121.9" fill="none" stroke="#88a75b" stroke-width="2.4" stroke-linejoin="round"/>
<polyline points="1047.8,121.9 1053.5,131.5 1059.3,127.2 1065.1,126.4 1070.8,124.9 1076.6,127.2 1082.4,121.9" fill="none" stroke="#88a75b" stroke-width="2.4" stroke-linejoin="round"/>
<polyline points="1226.6,121.9 1232.3,129.5 1238.1,121.9 1243.9,121.9 1249.6,126.4 1255.4,122.6 1261.2,125.4 1266.9,121.9" fill="none" stroke="#88a75b" stroke-width="2.4" stroke-linejoin="round"/>
<polyline points="1307.3,121.9 1313.1,127.2 1318.8,121.9 1324.6,122.6 1330.4,128.0 1336.2,125.4 1341.9,124.2 1347.7,123.8 1353.5,122.9 1359.2,121.9" fill="none" stroke="#88a75b" stroke-width="2.4" stroke-linejoin="round"/>
<polyline points="101.8,179.1 107.6,173.7 113.3,168.4 119.1,166.9 124.9,169.9 130.6,174.5 136.4,173.0 142.2,172.7 147.9,180.6 153.7,186.4 159.5,184.4 165.2,177.5 171.0,175.7 176.8,174.2 182.6,182.9 188.3,182.9 194.1,176.0 199.9,172.7 205.6,172.2 211.4,168.7 217.2,173.7 222.9,182.9 228.7,184.9 234.5,171.4 240.2,165.0 246.0,175.3 251.8,177.2 257.5,176.0 263.3,172.7 269.1,179.8 274.8,179.1 280.6,172.7 286.4,172.2 292.1,177.8 297.9,179.1 303.7,180.9 309.4,181.8 315.2,185.2 321.0,183.3 326.8,176.8 332.5,170.7 338.3,170.2 344.1,174.5 349.8,171.1 355.6,168.4 361.4,169.9 367.1,166.1 372.9,168.4 378.7,166.9 384.4,164.1 390.2,166.9 396.0,172.2 401.7,169.9 407.5,179.1 413.3,179.4 419.0,176.8 424.8,172.7 430.6,181.4 436.3,175.7 442.1,174.8 447.9,174.8 453.6,177.2 459.4,177.2 465.2,175.3 471.0,178.3 476.7,172.7 482.5,178.3 488.3,177.5 494.0,172.7 499.8,180.6 505.6,177.8 511.3,179.4 517.1,175.7 522.9,182.4 528.6,175.7 534.4,172.7 540.2,168.4 545.9,175.3 551.7,175.3 557.5,176.3 563.2,174.2 569.0,179.8 574.8,187.5 580.5,179.8 586.3,176.3 592.1,183.3 597.8,178.3 603.6,177.2 609.4,173.3 615.2,182.9 620.9,177.8 626.7,177.5 632.5,173.7 638.2,181.4 644.0,177.8 649.8,176.3 655.5,179.8 661.3,191.3 667.1,183.3 672.8,176.0 678.6,170.2 684.4,184.4 690.1,175.7 695.9,173.0 701.7,168.4 707.4,173.7 713.2,178.8 719.0,172.2 724.7,170.2 730.5,172.2 736.3,172.2 742.0,178.3 747.8,192.5 753.6,194.3 759.4,184.4 765.1,184.9 770.9,194.6 776.7,197.4 782.4,195.8 788.2,193.1 794.0,191.0 799.7,201.2 805.5,201.2 811.3,198.1 817.0,190.5 822.8,176.0 828.6,176.8 834.3,172.7 840.1,169.6 845.9,173.7 851.6,171.1 857.4,169.2 863.2,167.9 868.9,168.4 874.7,180.6 880.5,187.9 886.2,177.5 892.0,185.2 897.8,196.2 903.6,189.7 909.3,189.4 915.1,190.1 920.9,185.5 926.6,173.3 932.4,172.7 938.2,173.3 943.9,170.2 949.7,177.2 955.5,172.7 961.2,171.7 967.0,173.3 972.8,173.3 978.5,172.7 984.3,178.8 990.1,174.2 995.8,173.0 1001.6,169.2 1007.4,168.4 1013.1,168.4 1018.9,168.7 1024.7,167.6 1030.4,163.1 1036.2,164.6 1042.0,168.7 1047.8,170.7 1053.5,182.9 1059.3,176.8 1065.1,182.4 1070.8,176.3 1076.6,179.1 1082.4,174.5 1088.1,174.2 1093.9,171.4 1099.7,168.4 1105.4,173.7 1111.2,177.5 1117.0,173.7 1122.7,169.6 1128.5,174.2 1134.3,178.3 1140.0,173.0 1145.8,172.2 1151.6,174.2 1157.3,172.2 1163.1,169.9 1168.9,168.1 1174.6,170.7 1180.4,173.0 1186.2,168.1 1192.0,167.3 1197.7,167.6 1203.5,170.7 1209.3,169.9 1215.0,172.7 1220.8,172.4 1226.6,172.4 1232.3,180.6 1238.1,173.3 1243.9,177.2 1249.6,179.8 1255.4,173.3 1261.2,177.2 1266.9,174.2 1272.7,176.8 1278.5,172.2 1284.2,169.6 1290.0,172.7 1295.8,174.5 1301.5,171.1 1307.3,177.5 1313.1,178.3 1318.8,175.3 1324.6,173.3 1330.4,174.5 1336.2,174.2 1341.9,176.3 1347.7,172.2 1353.5,167.6 1359.2,170.7 1365.0,174.2 1370.8,170.2 1376.5,173.0 1382.3,175.3 1388.1,176.8 1393.8,172.7 1399.6,173.7 1405.4,176.3 1411.1,173.7 1416.9,172.2 1422.7,173.0 1428.4,174.8 1434.2,177.2 1440.0,172.7 1445.7,171.4 1451.5,178.3 1457.3,174.5" fill="none" stroke="#00ffbe" stroke-width="3.0" stroke-linejoin="round"/>
<rect x="101.6" y="118.60" width="1356.0" height="3.2" fill="#6e5d24"/></g>
<line x1="101.6" x2="101.6" y1="31.2" y2="210.3" stroke="#bcbcbc" stroke-width="1.1"/>
<line x1="101.1" x2="1458.1" y1="209.8" y2="209.8" stroke="#bcbcbc" stroke-width="1.1"/>
<line x1="101.6" x2="106.5" y1="31.50" y2="31.50" stroke="#000" stroke-width="1.1"/>
<text x="95.60" y="36.50" font-size="14.68" text-anchor="end" textLength="52.97" lengthAdjust="spacingAndGlyphs">100000</text>
<line x1="101.6" x2="106.5" y1="75.50" y2="75.50" stroke="#000" stroke-width="1.1"/>
<text x="95.60" y="80.50" font-size="14.68" text-anchor="end" textLength="44.14" lengthAdjust="spacingAndGlyphs">50000</text>
<text x="95.60" y="125.50" font-size="14.68" text-anchor="end" textLength="8.83" lengthAdjust="spacingAndGlyphs">0</text>
<line x1="101.6" x2="106.5" y1="165.50" y2="165.50" stroke="#000" stroke-width="1.1"/>
<text x="95.60" y="170.50" font-size="14.68" text-anchor="end" textLength="55.77" lengthAdjust="spacingAndGlyphs">−50000</text>
<line x1="101.6" x2="106.5" y1="209.50" y2="209.50" stroke="#000" stroke-width="1.1"/>
<text x="95.60" y="214.50" font-size="14.68" text-anchor="end" textLength="64.59" lengthAdjust="spacingAndGlyphs">−100000</text>
<line x1="125.47" x2="125.47" y1="209.8" y2="207.0" stroke="#000" stroke-width="0.85"/>
<line x1="148.54" x2="148.54" y1="209.8" y2="207.0" stroke="#000" stroke-width="0.85"/>
<line x1="171.61" x2="171.61" y1="209.8" y2="207.0" stroke="#000" stroke-width="0.85"/>
<line x1="194.68" x2="194.68" y1="209.8" y2="207.0" stroke="#000" stroke-width="0.85"/>
<line x1="217.75" x2="217.75" y1="209.8" y2="207.0" stroke="#000" stroke-width="0.85"/>
<line x1="240.82" x2="240.82" y1="209.8" y2="207.0" stroke="#000" stroke-width="0.85"/>
<line x1="263.89" x2="263.89" y1="209.8" y2="207.0" stroke="#000" stroke-width="0.85"/>
<line x1="286.96" x2="286.96" y1="209.8" y2="207.0" stroke="#000" stroke-width="0.85"/>
<line x1="310.03" x2="310.03" y1="209.8" y2="207.0" stroke="#000" stroke-width="0.85"/>
<line x1="333.10" x2="333.10" y1="209.8" y2="207.0" stroke="#000" stroke-width="0.85"/>
<line x1="356.17" x2="356.17" y1="209.8" y2="207.0" stroke="#000" stroke-width="0.85"/>
<line x1="379.24" x2="379.24" y1="209.8" y2="207.0" stroke="#000" stroke-width="0.85"/>
<line x1="402.31" x2="402.31" y1="209.8" y2="207.0" stroke="#000" stroke-width="0.85"/>
<line x1="425.38" x2="425.38" y1="209.8" y2="207.0" stroke="#000" stroke-width="0.85"/>
<line x1="448.45" x2="448.45" y1="209.8" y2="207.0" stroke="#000" stroke-width="0.85"/>
<line x1="471.52" x2="471.52" y1="209.8" y2="207.0" stroke="#000" stroke-width="0.85"/>
<line x1="494.59" x2="494.59" y1="209.8" y2="207.0" stroke="#000" stroke-width="0.85"/>
<line x1="517.66" x2="517.66" y1="209.8" y2="207.0" stroke="#000" stroke-width="0.85"/>
<line x1="540.73" x2="540.73" y1="209.8" y2="207.0" stroke="#000" stroke-width="0.85"/>
<line x1="563.80" x2="563.80" y1="209.8" y2="207.0" stroke="#000" stroke-width="0.85"/>
<line x1="586.87" x2="586.87" y1="209.8" y2="207.0" stroke="#000" stroke-width="0.85"/>
<line x1="609.94" x2="609.94" y1="209.8" y2="207.0" stroke="#000" stroke-width="0.85"/>
<line x1="633.01" x2="633.01" y1="209.8" y2="207.0" stroke="#000" stroke-width="0.85"/>
<line x1="656.08" x2="656.08" y1="209.8" y2="207.0" stroke="#000" stroke-width="0.85"/>
<line x1="679.15" x2="679.15" y1="209.8" y2="207.0" stroke="#000" stroke-width="0.85"/>
<line x1="702.22" x2="702.22" y1="209.8" y2="207.0" stroke="#000" stroke-width="0.85"/>
<line x1="725.29" x2="725.29" y1="209.8" y2="207.0" stroke="#000" stroke-width="0.85"/>
<line x1="748.36" x2="748.36" y1="209.8" y2="207.0" stroke="#000" stroke-width="0.85"/>
<line x1="771.43" x2="771.43" y1="209.8" y2="207.0" stroke="#000" stroke-width="0.85"/>
<line x1="794.50" x2="794.50" y1="209.8" y2="207.0" stroke="#000" stroke-width="0.85"/>
<line x1="817.57" x2="817.57" y1="209.8" y2="204.9" stroke="#000" stroke-width="1.1"/>
<line x1="840.64" x2="840.64" y1="209.8" y2="207.0" stroke="#000" stroke-width="0.85"/>
<line x1="863.71" x2="863.71" y1="209.8" y2="207.0" stroke="#000" stroke-width="0.85"/>
<line x1="886.78" x2="886.78" y1="209.8" y2="207.0" stroke="#000" stroke-width="0.85"/>
<line x1="909.85" x2="909.85" y1="209.8" y2="207.0" stroke="#000" stroke-width="0.85"/>
<line x1="932.92" x2="932.92" y1="209.8" y2="207.0" stroke="#000" stroke-width="0.85"/>
<line x1="955.99" x2="955.99" y1="209.8" y2="207.0" stroke="#000" stroke-width="0.85"/>
<line x1="979.06" x2="979.06" y1="209.8" y2="207.0" stroke="#000" stroke-width="0.85"/>
<line x1="1002.13" x2="1002.13" y1="209.8" y2="207.0" stroke="#000" stroke-width="0.85"/>
<line x1="1025.20" x2="1025.20" y1="209.8" y2="207.0" stroke="#000" stroke-width="0.85"/>
<line x1="1048.27" x2="1048.27" y1="209.8" y2="207.0" stroke="#000" stroke-width="0.85"/>
<line x1="1071.34" x2="1071.34" y1="209.8" y2="207.0" stroke="#000" stroke-width="0.85"/>
<line x1="1094.41" x2="1094.41" y1="209.8" y2="207.0" stroke="#000" stroke-width="0.85"/>
<line x1="1117.48" x2="1117.48" y1="209.8" y2="207.0" stroke="#000" stroke-width="0.85"/>
<line x1="1140.55" x2="1140.55" y1="209.8" y2="207.0" stroke="#000" stroke-width="0.85"/>
<line x1="1163.62" x2="1163.62" y1="209.8" y2="207.0" stroke="#000" stroke-width="0.85"/>
<line x1="1186.69" x2="1186.69" y1="209.8" y2="207.0" stroke="#000" stroke-width="0.85"/>
<line x1="1209.76" x2="1209.76" y1="209.8" y2="207.0" stroke="#000" stroke-width="0.85"/>
<line x1="1232.83" x2="1232.83" y1="209.8" y2="207.0" stroke="#000" stroke-width="0.85"/>
<line x1="1255.90" x2="1255.90" y1="209.8" y2="207.0" stroke="#000" stroke-width="0.85"/>
<line x1="1278.97" x2="1278.97" y1="209.8" y2="207.0" stroke="#000" stroke-width="0.85"/>
<line x1="1302.04" x2="1302.04" y1="209.8" y2="207.0" stroke="#000" stroke-width="0.85"/>
<line x1="1325.11" x2="1325.11" y1="209.8" y2="207.0" stroke="#000" stroke-width="0.85"/>
<line x1="1348.18" x2="1348.18" y1="209.8" y2="207.0" stroke="#000" stroke-width="0.85"/>
<line x1="1371.25" x2="1371.25" y1="209.8" y2="207.0" stroke="#000" stroke-width="0.85"/>
<line x1="1394.32" x2="1394.32" y1="209.8" y2="207.0" stroke="#000" stroke-width="0.85"/>
<line x1="1417.39" x2="1417.39" y1="209.8" y2="207.0" stroke="#000" stroke-width="0.85"/>
<line x1="1440.46" x2="1440.46" y1="209.8" y2="207.0" stroke="#000" stroke-width="0.85"/>
<line x1="1457.3999999999999" x2="1457.3999999999999" y1="209.8" y2="204.9" stroke="#000" stroke-width="1.1"/>
<text x="240.82" y="225.00" font-size="14.68" text-anchor="middle" textLength="17.66" lengthAdjust="spacingAndGlyphs">07</text>
<text x="402.31" y="225.00" font-size="14.68" text-anchor="middle" textLength="17.66" lengthAdjust="spacingAndGlyphs">14</text>
<text x="563.80" y="225.00" font-size="14.68" text-anchor="middle" textLength="17.66" lengthAdjust="spacingAndGlyphs">21</text>
<text x="725.29" y="225.00" font-size="14.68" text-anchor="middle" textLength="17.66" lengthAdjust="spacingAndGlyphs">28</text>
<text x="886.78" y="225.00" font-size="14.68" text-anchor="middle" textLength="17.66" lengthAdjust="spacingAndGlyphs">04</text>
<text x="1048.27" y="225.00" font-size="14.68" text-anchor="middle" textLength="17.66" lengthAdjust="spacingAndGlyphs">11</text>
<text x="1209.76" y="225.00" font-size="14.68" text-anchor="middle" textLength="17.66" lengthAdjust="spacingAndGlyphs">18</text>
<text x="1371.25" y="225.00" font-size="14.68" text-anchor="middle" textLength="17.66" lengthAdjust="spacingAndGlyphs">25</text>
<text x="101.50" y="258.10" font-size="14.68" text-anchor="middle" textLength="21.39" lengthAdjust="spacingAndGlyphs">Jan</text>
<text x="101.80" y="273.90" font-size="14.68" text-anchor="middle" textLength="35.31" lengthAdjust="spacingAndGlyphs">2013</text>
<text x="816.90" y="258.10" font-size="14.68" text-anchor="middle" textLength="24.56" lengthAdjust="spacingAndGlyphs">Feb</text>
<text x="779.60" y="21.90" font-size="17.62" text-anchor="middle" textLength="111.61" lengthAdjust="spacingAndGlyphs">country = DE</text>
<text x="21.40" y="121.25" font-size="17.62" text-anchor="middle" textLength="212.95" lengthAdjust="spacingAndGlyphs" transform="rotate(-90 21.40 121.25)">Energy Balance [MWh_el]</text>
<rect x="101.6" y="313.5" width="1356.0" height="178.30" fill="#eeeeee"/>
<clipPath id="clip282"><rect x="101.6" y="313.5" width="1356.0" height="178.30"/></clipPath>
<g clip-path="url(#clip282)"><polygon points="101.8,346.3 107.6,350.9 113.3,354.7 119.1,358.5 124.9,366.1 130.6,376.0 136.4,374.2 142.2,363.5 147.9,363.1 153.7,360.8 159.5,366.6 165.2,363.5 171.0,362.6 176.8,357.0 182.6,362.3 188.3,363.1 194.1,364.6 199.9,361.5 205.6,366.6 211.4,366.1 217.2,365.7 222.9,365.4 228.7,368.7 234.5,363.5 240.2,364.1 246.0,367.2 251.8,365.0 257.5,360.0 263.3,362.6 269.1,359.6 274.8,363.8 280.6,357.0 286.4,362.3 292.1,365.7 297.9,364.6 303.7,363.8 309.4,360.5 315.2,362.3 321.0,353.1 326.8,344.8 332.5,350.9 338.3,369.9 344.1,369.9 349.8,357.0 355.6,347.8 361.4,350.1 367.1,358.5 372.9,366.1 378.7,366.6 384.4,367.2 390.2,354.7 396.0,356.2 401.7,366.1 407.5,366.9 413.3,353.1 419.0,340.9 424.8,341.7 430.6,341.2 436.3,353.9 442.1,362.3 447.9,355.4 453.6,347.8 459.4,357.7 465.2,357.0 471.0,356.2 476.7,348.9 482.5,354.7 488.3,350.1 494.0,347.0 499.8,343.7 505.6,346.3 511.3,357.0 517.1,361.5 522.9,354.7 528.6,347.0 534.4,348.3 540.2,356.2 545.9,369.9 551.7,369.9 557.5,357.7 563.2,358.9 569.0,357.0 574.8,354.7 580.5,353.9 586.3,357.0 592.1,354.7 597.8,355.0 603.6,355.0 609.4,358.0 615.2,359.2 620.9,362.3 626.7,356.2 632.5,361.5 638.2,364.6 644.0,366.1 649.8,361.5 655.5,360.5 661.3,357.0 667.1,359.2 672.8,346.7 678.6,349.3 684.4,356.2 690.1,362.3 695.9,353.1 701.7,346.7 707.4,346.7 713.2,353.9 719.0,350.1 724.7,346.7 730.5,347.0 736.3,344.8 742.0,344.8 747.8,344.3 753.6,343.7 759.4,344.8 765.1,344.8 770.9,345.1 776.7,344.3 782.4,348.6 788.2,357.7 794.0,353.1 799.7,346.3 805.5,350.1 811.3,357.0 817.0,350.9 822.8,347.8 828.6,347.0 834.3,347.8 840.1,344.8 845.9,341.7 851.6,339.1 857.4,344.8 863.2,365.4 868.9,366.6 874.7,350.1 880.5,347.0 886.2,344.0 892.0,345.5 897.8,345.8 903.6,346.3 909.3,341.7 915.1,339.1 920.9,337.6 926.6,340.2 932.4,339.7 938.2,339.7 943.9,338.7 949.7,340.9 955.5,343.7 961.2,351.6 967.0,357.7 972.8,358.5 978.5,356.2 984.3,351.6 990.1,352.8 995.8,353.9 1001.6,357.7 1007.4,363.1 1013.1,358.5 1018.9,353.9 1024.7,354.4 1030.4,348.6 1036.2,344.8 1042.0,344.8 1047.8,352.4 1053.5,366.1 1059.3,367.6 1065.1,355.0 1070.8,360.8 1076.6,369.9 1082.4,366.9 1088.1,361.5 1093.9,363.1 1099.7,372.2 1105.4,366.1 1111.2,356.2 1117.0,347.0 1122.7,350.9 1128.5,350.9 1134.3,350.9 1140.0,360.0 1145.8,375.3 1151.6,376.8 1157.3,363.1 1163.1,363.1 1168.9,376.0 1174.6,372.2 1180.4,361.5 1186.2,360.8 1192.0,366.1 1197.7,360.0 1203.5,344.0 1209.3,348.6 1215.0,360.8 1220.8,372.2 1226.6,359.2 1232.3,360.0 1238.1,367.6 1243.9,376.0 1249.6,363.8 1255.4,361.5 1261.2,367.6 1266.9,363.8 1272.7,352.4 1278.5,350.1 1284.2,347.8 1290.0,347.0 1295.8,344.0 1301.5,344.3 1307.3,345.2 1313.1,346.3 1318.8,340.2 1324.6,348.6 1330.4,353.9 1336.2,357.0 1341.9,358.5 1347.7,362.3 1353.5,358.5 1359.2,354.7 1365.0,347.8 1370.8,350.1 1376.5,350.1 1382.3,353.9 1388.1,351.9 1393.8,354.7 1399.6,360.0 1405.4,360.8 1411.1,348.6 1416.9,349.3 1422.7,353.1 1428.4,355.4 1434.2,350.4 1440.0,360.0 1445.7,368.4 1451.5,369.9 1457.3,361.5 1457.3,402.3 101.8,402.3" fill="#8d5e56" />
<polygon points="101.8,350.7 107.6,355.3 113.3,359.1 119.1,363.9 124.9,371.5 130.6,381.4 136.4,379.6 142.2,368.9 147.9,368.5 153.7,366.2 159.5,372.0 165.2,368.9 171.0,368.0 176.8,362.4 182.6,367.7 188.3,368.5 194.1,370.0 199.9,366.9 205.6,372.0 211.4,371.5 217.2,371.1 222.9,370.8 228.7,374.1 234.5,368.9 240.2,369.5 246.0,372.6 251.8,370.4 257.5,365.4 263.3,368.0 269.1,365.0 274.8,369.2 280.6,362.4 286.4,367.7 292.1,371.1 297.9,370.0 303.7,369.2 309.4,365.9 315.2,367.7 321.0,358.5 326.8,350.2 332.5,356.3 338.3,375.3 344.1,375.3 349.8,362.4 355.6,353.2 361.4,355.5 367.1,363.9 372.9,371.5 378.7,372.0 384.4,372.6 390.2,360.1 396.0,361.6 401.7,371.5 407.5,372.3 413.3,358.5 419.0,346.3 424.8,347.1 430.6,346.6 436.3,359.3 442.1,367.7 447.9,360.8 453.6,353.2 459.4,363.1 465.2,362.4 471.0,361.6 476.7,354.3 482.5,360.1 488.3,355.5 494.0,352.4 499.8,349.1 505.6,351.7 511.3,362.4 517.1,366.9 522.9,360.1 528.6,352.4 534.4,353.7 540.2,361.6 545.9,375.3 551.7,375.3 557.5,363.1 563.2,364.3 569.0,362.4 574.8,360.1 580.5,359.3 586.3,362.4 592.1,360.1 597.8,360.4 603.6,360.4 609.4,363.4 615.2,364.6 620.9,367.7 626.7,361.6 632.5,366.9 638.2,370.0 644.0,371.5 649.8,366.9 655.5,365.9 661.3,362.4 667.1,364.6 672.8,352.1 678.6,353.7 684.4,360.6 690.1,366.7 695.9,357.6 701.7,351.1 707.4,351.1 713.2,358.3 719.0,354.5 724.7,351.1 730.5,351.5 736.3,349.2 742.0,349.2 747.8,348.7 753.6,348.1 759.4,349.2 765.1,349.2 770.9,349.5 776.7,348.7 782.4,353.0 788.2,362.1 794.0,357.6 799.7,350.7 805.5,354.5 811.3,361.4 817.0,355.3 822.8,352.2 828.6,351.5 834.3,352.2 840.1,349.2 845.9,346.1 851.6,343.5 857.4,349.2 863.2,369.8 868.9,371.0 874.7,354.5 880.5,351.5 886.2,348.4 892.0,349.9 897.8,350.2 903.6,350.7 909.3,346.1 915.1,343.5 920.9,342.0 926.6,344.6 932.4,344.1 938.2,344.1 943.9,343.1 949.7,345.4 955.5,348.1 961.2,356.0 967.0,363.1 972.8,363.9 978.5,361.6 984.3,357.0 990.1,358.2 995.8,359.3 1001.6,363.1 1007.4,368.5 1013.1,363.9 1018.9,359.3 1024.7,359.8 1030.4,354.0 1036.2,350.2 1042.0,350.2 1047.8,357.8 1053.5,371.5 1059.3,373.0 1065.1,360.4 1070.8,366.2 1076.6,375.3 1082.4,372.3 1088.1,366.9 1093.9,368.5 1099.7,377.6 1105.4,371.5 1111.2,361.6 1117.0,352.4 1122.7,356.3 1128.5,356.3 1134.3,356.3 1140.0,365.4 1145.8,380.7 1151.6,382.2 1157.3,368.5 1163.1,368.5 1168.9,381.4 1174.6,377.6 1180.4,366.9 1186.2,366.2 1192.0,371.5 1197.7,365.4 1203.5,349.4 1209.3,354.0 1215.0,366.2 1220.8,377.6 1226.6,364.6 1232.3,365.4 1238.1,373.0 1243.9,381.4 1249.6,369.2 1255.4,366.9 1261.2,373.0 1266.9,369.2 1272.7,357.8 1278.5,355.5 1284.2,353.2 1290.0,352.4 1295.8,349.4 1301.5,349.7 1307.3,350.6 1313.1,351.7 1318.8,345.6 1324.6,354.0 1330.4,359.3 1336.2,362.4 1341.9,363.9 1347.7,367.7 1353.5,363.9 1359.2,360.1 1365.0,353.2 1370.8,355.5 1376.5,355.5 1382.3,359.3 1388.1,357.3 1393.8,360.1 1399.6,365.4 1405.4,366.2 1411.1,354.0 1416.9,354.7 1422.7,358.5 1428.4,360.8 1434.2,355.8 1440.0,365.4 1445.7,373.8 1451.5,375.3 1457.3,366.9 1457.3,402.3 101.8,402.3" fill="#51dbcc" />
<polygon points="101.8,352.1 107.6,356.6 113.3,360.5 119.1,363.9 124.9,371.5 130.6,381.4 136.4,379.6 142.2,368.9 147.9,368.5 153.7,366.2 159.5,372.0 165.2,368.9 171.0,368.0 176.8,362.4 182.6,367.7 188.3,368.5 194.1,370.0 199.9,366.9 205.6,372.0 211.4,371.5 217.2,371.1 222.9,370.8 228.7,374.1 234.5,368.9 240.2,369.5 246.0,372.6 251.8,370.4 257.5,365.4 263.3,368.0 269.1,365.0 274.8,369.2 280.6,362.4 286.4,367.7 292.1,371.1 297.9,370.0 303.7,369.2 309.4,365.9 315.2,367.7 321.0,358.5 326.8,350.2 332.5,356.3 338.3,375.3 344.1,375.3 349.8,362.4 355.6,353.2 361.4,355.5 367.1,363.9 372.9,371.5 378.7,372.0 384.4,372.6 390.2,360.1 396.0,361.6 401.7,371.5 407.5,372.3 413.3,358.5 419.0,346.3 424.8,347.1 430.6,346.6 436.3,359.3 442.1,367.7 447.9,360.8 453.6,353.2 459.4,363.1 465.2,362.4 471.0,361.6 476.7,354.3 482.5,360.1 488.3,355.5 494.0,352.4 499.8,349.1 505.6,351.7 511.3,362.4 517.1,366.9 522.9,360.1 528.6,352.4 534.4,353.7 540.2,361.6 545.9,375.3 551.7,375.3 557.5,363.1 563.2,364.3 569.0,362.4 574.8,360.1 580.5,359.3 586.3,362.4 592.1,360.1 597.8,360.4 603.6,360.4 609.4,363.4 615.2,364.6 620.9,367.7 626.7,361.6 632.5,366.9 638.2,370.0 644.0,371.5 649.8,366.9 655.5,365.9 661.3,362.4 667.1,364.6 672.8,352.1 678.6,355.1 684.4,362.0 690.1,368.1 695.9,358.9 701.7,352.5 707.4,352.5 713.2,359.7 719.0,355.9 724.7,352.5 730.5,352.8 736.3,350.5 742.0,350.5 747.8,350.1 753.6,349.5 759.4,350.5 765.1,350.5 770.9,350.8 776.7,350.1 782.4,354.4 788.2,363.5 794.0,358.9 799.7,352.1 805.5,355.9 811.3,362.7 817.0,356.6 822.8,353.6 828.6,352.8 834.3,353.6 840.1,350.5 845.9,347.5 851.6,344.9 857.4,350.5 863.2,371.1 868.9,372.4 874.7,355.9 880.5,352.8 886.2,349.8 892.0,351.3 897.8,351.6 903.6,352.1 909.3,347.5 915.1,344.9 920.9,343.4 926.6,346.0 932.4,345.5 938.2,345.5 943.9,344.4 949.7,346.7 955.5,349.5 961.2,357.4 967.0,363.1 972.8,363.9 978.5,361.6 984.3,357.0 990.1,358.2 995.8,359.3 1001.6,363.1 1007.4,368.5 1013.1,363.9 1018.9,359.3 1024.7,359.8 1030.4,354.0 1036.2,350.2 1042.0,350.2 1047.8,357.8 1053.5,371.5 1059.3,373.0 1065.1,360.4 1070.8,366.2 1076.6,375.3 1082.4,372.3 1088.1,366.9 1093.9,368.5 1099.7,377.6 1105.4,371.5 1111.2,361.6 1117.0,352.4 1122.7,356.3 1128.5,356.3 1134.3,356.3 1140.0,365.4 1145.8,380.7 1151.6,382.2 1157.3,368.5 1163.1,368.5 1168.9,381.4 1174.6,377.6 1180.4,366.9 1186.2,366.2 1192.0,371.5 1197.7,365.4 1203.5,349.4 1209.3,354.0 1215.0,366.2 1220.8,377.6 1226.6,364.6 1232.3,365.4 1238.1,373.0 1243.9,381.4 1249.6,369.2 1255.4,366.9 1261.2,373.0 1266.9,369.2 1272.7,357.8 1278.5,355.5 1284.2,353.2 1290.0,352.4 1295.8,349.4 1301.5,349.7 1307.3,350.6 1313.1,351.7 1318.8,345.6 1324.6,354.0 1330.4,359.3 1336.2,362.4 1341.9,363.9 1347.7,367.7 1353.5,363.9 1359.2,360.1 1365.0,353.2 1370.8,355.5 1376.5,355.5 1382.3,359.3 1388.1,357.3 1393.8,360.1 1399.6,365.4 1405.4,366.2 1411.1,354.0 1416.9,354.7 1422.7,358.5 1428.4,360.8 1434.2,355.8 1440.0,365.4 1445.7,373.8 1451.5,375.3 1457.3,366.9 1457.3,402.3 101.8,402.3" fill="#298c81" />
<polygon points="101.8,355.5 107.6,359.3 113.3,362.4 119.1,365.0 124.9,373.8 130.6,384.5 136.4,382.2 142.2,376.1 147.9,375.6 153.7,370.5 159.5,376.9 165.2,376.1 171.0,375.3 176.8,369.2 182.6,376.1 188.3,376.1 194.1,377.6 199.9,376.1 205.6,380.2 211.4,379.6 217.2,379.6 222.9,379.2 228.7,382.7 234.5,377.6 240.2,378.4 246.0,380.7 251.8,378.4 257.5,373.8 263.3,375.3 269.1,373.1 274.8,377.6 280.6,370.8 286.4,375.3 292.1,378.4 297.9,377.6 303.7,376.9 309.4,373.1 315.2,374.6 321.0,365.4 326.8,357.8 332.5,363.1 338.3,383.0 344.1,382.7 349.8,369.2 355.6,359.3 361.4,360.8 367.1,370.8 372.9,379.2 378.7,380.2 384.4,380.7 390.2,368.5 396.0,370.0 401.7,379.2 407.5,380.7 413.3,366.2 419.0,354.0 424.8,353.2 430.6,353.2 436.3,366.2 442.1,373.8 447.9,367.7 453.6,361.6 459.4,371.5 465.2,370.8 471.0,370.0 476.7,364.7 482.5,369.2 488.3,363.1 494.0,360.8 499.8,358.6 505.6,360.8 511.3,370.0 517.1,373.1 522.9,366.2 528.6,357.8 534.4,359.3 540.2,366.9 545.9,379.2 551.7,379.9 557.5,369.2 563.2,367.7 569.0,365.4 574.8,363.1 580.5,365.4 586.3,368.5 592.1,369.2 597.8,370.0 603.6,369.2 609.4,371.5 615.2,373.8 620.9,376.9 626.7,370.0 632.5,374.6 638.2,377.6 644.0,379.2 649.8,372.3 655.5,370.8 661.3,368.5 667.1,365.4 672.8,357.0 678.6,360.1 684.4,365.4 690.1,370.8 695.9,361.6 701.7,355.5 707.4,355.5 713.2,361.6 719.0,357.8 724.7,354.7 730.5,354.7 736.3,353.2 742.0,353.2 747.8,352.9 753.6,352.5 759.4,352.9 765.1,353.2 770.9,353.2 776.7,353.2 782.4,357.0 788.2,366.6 794.0,361.6 799.7,355.1 805.5,358.6 811.3,365.4 817.0,359.3 822.8,356.3 828.6,356.3 834.3,357.0 840.1,354.0 845.9,351.4 851.6,350.2 857.4,357.0 863.2,376.9 868.9,376.9 874.7,360.1 880.5,356.3 886.2,353.2 892.0,355.1 897.8,355.5 903.6,355.5 909.3,350.9 915.1,348.6 920.9,347.9 926.6,349.4 932.4,349.4 938.2,349.9 943.9,348.9 949.7,350.9 955.5,354.0 961.2,362.4 967.0,365.4 972.8,370.8 978.5,369.2 984.3,366.2 990.1,368.5 995.8,369.2 1001.6,372.3 1007.4,376.9 1013.1,371.5 1018.9,367.7 1024.7,366.2 1030.4,357.8 1036.2,353.2 1042.0,352.5 1047.8,359.3 1053.5,372.3 1059.3,373.8 1065.1,369.2 1070.8,376.1 1076.6,383.7 1082.4,381.4 1088.1,376.1 1093.9,377.6 1099.7,385.3 1105.4,379.2 1111.2,368.5 1117.0,357.8 1122.7,359.3 1128.5,359.3 1134.3,359.3 1140.0,370.8 1145.8,389.1 1151.6,390.6 1157.3,377.6 1163.1,377.6 1168.9,390.6 1174.6,387.5 1180.4,375.3 1186.2,371.5 1192.0,373.1 1197.7,368.5 1203.5,357.8 1209.3,361.6 1215.0,371.5 1220.8,383.7 1226.6,372.3 1232.3,373.1 1238.1,380.7 1243.9,388.3 1249.6,378.4 1255.4,373.8 1261.2,376.9 1266.9,372.3 1272.7,360.1 1278.5,357.8 1284.2,356.3 1290.0,355.5 1295.8,353.2 1301.5,353.2 1307.3,353.7 1313.1,355.5 1318.8,352.5 1324.6,360.8 1330.4,366.2 1336.2,368.5 1341.9,371.5 1347.7,374.6 1353.5,368.5 1359.2,363.9 1365.0,362.4 1370.8,363.9 1376.5,360.8 1382.3,364.7 1388.1,366.2 1393.8,368.5 1399.6,370.0 1405.4,369.2 1411.1,363.9 1416.9,363.9 1422.7,365.4 1428.4,369.2 1434.2,363.9 1440.0,372.3 1445.7,380.7 1451.5,382.2 1457.3,373.8 1457.3,402.3 101.8,402.3" fill="#51dbcc" />
<polygon points="101.8,356.3 107.6,360.1 113.3,363.1 119.1,365.9 124.9,375.3 130.6,386.0 136.4,384.2 142.2,379.2 147.9,378.7 153.7,373.8 159.5,379.6 165.2,378.7 171.0,378.4 176.8,372.3 182.6,378.7 188.3,379.2 194.1,380.2 199.9,378.7 205.6,383.3 211.4,382.7 217.2,382.2 222.9,382.2 228.7,385.3 234.5,381.1 240.2,381.4 246.0,384.2 251.8,381.4 257.5,376.9 263.3,378.4 269.1,376.1 274.8,381.4 280.6,374.6 286.4,378.4 292.1,381.4 297.9,381.1 303.7,380.7 309.4,376.1 315.2,377.6 321.0,368.5 326.8,360.8 332.5,366.9 338.3,386.0 344.1,386.0 349.8,372.3 355.6,362.4 361.4,363.9 367.1,373.8 372.9,382.7 378.7,383.7 384.4,383.7 390.2,371.5 396.0,373.1 401.7,382.2 407.5,383.7 413.3,370.0 419.0,356.3 424.8,356.3 430.6,356.3 436.3,369.2 442.1,377.6 447.9,370.8 453.6,365.4 459.4,374.6 465.2,373.5 471.0,372.3 476.7,367.7 482.5,372.0 488.3,366.2 494.0,363.1 499.8,361.6 505.6,363.9 511.3,373.1 517.1,376.1 522.9,368.9 528.6,359.3 534.4,361.6 540.2,369.2 545.9,381.4 551.7,382.7 557.5,371.5 563.2,370.0 569.0,367.7 574.8,365.4 580.5,367.7 586.3,370.0 592.1,371.5 597.8,372.0 603.6,371.5 609.4,374.1 615.2,376.1 620.9,379.6 626.7,373.1 632.5,377.6 638.2,381.1 644.0,382.7 649.8,376.9 655.5,374.1 661.3,371.5 667.1,367.7 672.8,358.9 678.6,360.8 684.4,366.2 690.1,371.5 695.9,362.4 701.7,356.3 707.4,356.3 713.2,362.4 719.0,358.6 724.7,355.5 730.5,355.5 736.3,354.0 742.0,354.0 747.8,353.7 753.6,353.2 759.4,353.7 765.1,354.0 770.9,354.0 776.7,354.0 782.4,357.8 788.2,367.4 794.0,362.4 799.7,355.8 805.5,359.3 811.3,366.2 817.0,360.1 822.8,357.0 828.6,357.0 834.3,357.8 840.1,354.7 845.9,352.2 851.6,350.9 857.4,357.8 863.2,377.6 868.9,377.6 874.7,360.8 880.5,357.0 886.2,354.0 892.0,355.8 897.8,356.3 903.6,356.3 909.3,351.7 915.1,349.4 920.9,348.6 926.6,350.2 932.4,350.2 938.2,350.6 943.9,349.7 949.7,351.7 955.5,354.7 961.2,363.1 967.0,369.2 972.8,374.6 978.5,373.5 984.3,369.2 990.1,370.8 995.8,371.5 1001.6,375.3 1007.4,380.7 1013.1,374.6 1018.9,370.8 1024.7,368.5 1030.4,360.1 1036.2,355.5 1042.0,354.7 1047.8,362.4 1053.5,375.0 1059.3,376.9 1065.1,371.5 1070.8,379.2 1076.6,386.8 1082.4,383.7 1088.1,379.2 1093.9,380.7 1099.7,389.1 1105.4,382.2 1111.2,371.5 1117.0,360.4 1122.7,361.6 1128.5,361.6 1134.3,362.4 1140.0,373.8 1145.8,392.1 1151.6,393.6 1157.3,380.7 1163.1,381.4 1168.9,393.6 1174.6,390.6 1180.4,378.4 1186.2,374.6 1192.0,375.3 1197.7,370.8 1203.5,360.8 1209.3,365.4 1215.0,375.3 1220.8,386.0 1226.6,375.3 1232.3,376.1 1238.1,383.7 1243.9,390.6 1249.6,381.4 1255.4,376.9 1261.2,378.7 1266.9,374.6 1272.7,362.4 1278.5,360.1 1284.2,358.6 1290.0,357.8 1295.8,355.5 1301.5,355.5 1307.3,356.3 1313.1,357.8 1318.8,356.3 1324.6,364.7 1330.4,368.5 1336.2,370.8 1341.9,373.8 1347.7,376.9 1353.5,370.8 1359.2,366.2 1365.0,365.4 1370.8,366.5 1376.5,363.1 1382.3,366.9 1388.1,368.5 1393.8,370.5 1399.6,371.5 1405.4,370.8 1411.1,365.9 1416.9,365.9 1422.7,367.7 1428.4,370.8 1434.2,366.9 1440.0,375.3 1445.7,383.0 1451.5,384.5 1457.3,376.9 1457.3,402.3 101.8,402.3" fill="#e0986c" />
<polygon points="101.8,356.3 107.6,360.1 113.3,363.1 119.1,365.9 124.9,375.3 130.6,386.0 136.4,384.2 142.2,379.2 147.9,378.7 153.7,373.8 159.5,379.6 165.2,378.7 171.0,378.4 176.8,372.3 182.6,378.7 188.3,379.2 194.1,380.2 199.9,378.7 205.6,383.3 211.4,382.7 217.2,382.2 222.9,382.2 228.7,385.3 234.5,381.1 240.2,381.4 246.0,384.2 251.8,381.4 257.5,376.9 263.3,378.4 269.1,376.1 274.8,381.4 280.6,376.1 286.4,378.4 292.1,381.4 297.9,383.7 303.7,383.7 309.4,377.6 315.2,377.6 321.0,368.5 326.8,360.8 332.5,366.9 338.3,386.0 344.1,386.0 349.8,372.3 355.6,362.4 361.4,363.9 367.1,373.8 372.9,383.7 378.7,383.7 384.4,383.7 390.2,371.5 396.0,373.1 401.7,383.7 407.5,384.5 413.3,370.0 419.0,356.3 424.8,356.3 430.6,356.3 436.3,369.2 442.1,377.6 447.9,370.8 453.6,369.2 459.4,377.6 465.2,373.5 471.0,372.3 476.7,370.8 482.5,372.0 488.3,366.2 494.0,363.1 499.8,361.6 505.6,363.9 511.3,373.1 517.1,376.1 522.9,368.9 528.6,359.3 534.4,361.6 540.2,369.2 545.9,381.4 551.7,382.7 557.5,371.5 563.2,370.0 569.0,367.7 574.8,365.4 580.5,367.7 586.3,370.0 592.1,371.5 597.8,372.0 603.6,371.5 609.4,374.1 615.2,376.1 620.9,379.6 626.7,373.1 632.5,377.6 638.2,383.7 644.0,386.0 649.8,379.2 655.5,374.1 661.3,371.5 667.1,367.7 672.8,358.9 678.6,360.8 684.4,366.2 690.1,371.5 695.9,362.4 701.7,356.3 707.4,356.3 713.2,362.4 719.0,358.6 724.7,355.5 730.5,355.5 736.3,354.0 742.0,354.0 747.8,353.7 753.6,353.2 759.4,353.7 765.1,354.0 770.9,354.0 776.7,354.0 782.4,357.8 788.2,367.4 794.0,362.4 799.7,355.8 805.5,359.3 811.3,366.2 817.0,360.1 822.8,357.0 828.6,357.0 834.3,357.8 840.1,354.7 845.9,352.2 851.6,350.9 857.4,357.8 863.2,379.9 868.9,378.4 874.7,360.8 880.5,357.0 886.2,354.0 892.0,355.8 897.8,356.3 903.6,356.3 909.3,351.7 915.1,349.4 920.9,348.6 926.6,350.2 932.4,350.2 938.2,350.6 943.9,349.7 949.7,351.7 955.5,354.7 961.2,363.1 967.0,369.2 972.8,379.2 978.5,376.1 984.3,369.2 990.1,373.1 995.8,375.3 1001.6,378.4 1007.4,380.7 1013.1,376.9 1018.9,372.3 1024.7,368.5 1030.4,360.1 1036.2,355.5 1042.0,354.7 1047.8,362.4 1053.5,375.0 1059.3,376.9 1065.1,371.5 1070.8,379.2 1076.6,387.5 1082.4,386.0 1088.1,382.2 1093.9,383.7 1099.7,389.1 1105.4,382.2 1111.2,371.5 1117.0,360.4 1122.7,361.6 1128.5,361.6 1134.3,362.4 1140.0,373.8 1145.8,395.2 1151.6,397.5 1157.3,383.7 1163.1,383.7 1168.9,393.6 1174.6,390.6 1180.4,382.2 1186.2,378.4 1192.0,375.3 1197.7,370.8 1203.5,360.8 1209.3,365.4 1215.0,375.3 1220.8,386.0 1226.6,378.4 1232.3,379.2 1238.1,383.7 1243.9,390.6 1249.6,385.3 1255.4,379.2 1261.2,378.7 1266.9,374.6 1272.7,362.4 1278.5,360.1 1284.2,358.6 1290.0,357.8 1295.8,355.5 1301.5,355.5 1307.3,356.3 1313.1,357.8 1318.8,356.3 1324.6,364.7 1330.4,368.5 1336.2,370.8 1341.9,373.8 1347.7,376.9 1353.5,370.8 1359.2,366.2 1365.0,365.4 1370.8,366.5 1376.5,363.1 1382.3,366.9 1388.1,368.5 1393.8,370.5 1399.6,371.5 1405.4,370.8 1411.1,365.9 1416.9,365.9 1422.7,367.7 1428.4,370.8 1434.2,366.9 1440.0,375.3 1445.7,383.0 1451.5,384.5 1457.3,376.9 1457.3,402.3 101.8,402.3" fill="#235ebc" />
<polygon points="101.8,359.8 107.6,362.4 113.3,364.4 119.1,365.9 124.9,375.3 130.6,386.0 136.4,384.2 142.2,379.2 147.9,378.7 153.7,373.8 159.5,379.6 165.2,378.7 171.0,378.4 176.8,372.3 182.6,378.7 188.3,379.2 194.1,380.2 199.9,378.7 205.6,383.3 211.4,382.7 217.2,382.2 222.9,382.2 228.7,385.3 234.5,381.1 240.2,381.4 246.0,384.2 251.8,381.4 257.5,376.9 263.3,378.4 269.1,376.1 274.8,381.4 280.6,376.1 286.4,378.4 292.1,381.4 297.9,383.7 303.7,383.7 309.4,377.6 315.2,377.6 321.0,368.5 326.8,364.7 332.5,369.2 338.3,386.0 344.1,386.0 349.8,372.3 355.6,362.4 361.4,363.9 367.1,373.8 372.9,383.7 378.7,383.7 384.4,383.7 390.2,371.5 396.0,373.1 401.7,383.7 407.5,384.5 413.3,370.0 419.0,359.3 424.8,358.6 430.6,360.8 436.3,369.2 442.1,377.6 447.9,370.8 453.6,369.2 459.4,377.6 465.2,373.5 471.0,372.3 476.7,370.8 482.5,372.0 488.3,366.2 494.0,363.1 499.8,361.6 505.6,363.9 511.3,373.1 517.1,376.1 522.9,368.9 528.6,363.1 534.4,363.9 540.2,369.2 545.9,381.4 551.7,382.7 557.5,371.5 563.2,371.5 569.0,370.8 574.8,370.0 580.5,370.0 586.3,370.0 592.1,372.6 597.8,372.0 603.6,371.5 609.4,374.1 615.2,376.1 620.9,379.6 626.7,373.1 632.5,377.6 638.2,383.7 644.0,386.0 649.8,379.2 655.5,374.1 661.3,371.5 667.1,367.7 672.8,359.8 678.6,360.8 684.4,366.2 690.1,371.5 695.9,362.4 701.7,357.8 707.4,359.3 713.2,363.1 719.0,359.3 724.7,357.8 730.5,359.3 736.3,358.9 742.0,359.3 747.8,359.8 753.6,359.3 759.4,360.1 765.1,360.1 770.9,360.4 776.7,359.8 782.4,362.4 788.2,369.2 794.0,363.1 799.7,359.3 805.5,363.1 811.3,367.7 817.0,362.4 822.8,361.6 828.6,361.6 834.3,362.4 840.1,359.3 845.9,357.8 851.6,357.8 857.4,364.7 863.2,381.7 868.9,378.4 874.7,362.4 880.5,360.1 886.2,357.8 892.0,359.3 897.8,359.3 903.6,359.3 909.3,357.8 915.1,357.3 920.9,357.3 926.6,357.3 932.4,357.3 938.2,357.3 943.9,357.3 949.7,357.3 955.5,357.8 961.2,365.4 967.0,371.5 972.8,379.2 978.5,376.1 984.3,369.2 990.1,373.1 995.8,375.3 1001.6,378.4 1007.4,380.7 1013.1,376.9 1018.9,372.3 1024.7,368.5 1030.4,360.1 1036.2,360.1 1042.0,360.8 1047.8,363.9 1053.5,375.0 1059.3,376.9 1065.1,371.5 1070.8,379.2 1076.6,387.5 1082.4,386.0 1088.1,382.2 1093.9,383.7 1099.7,389.1 1105.4,382.2 1111.2,371.5 1117.0,362.4 1122.7,363.1 1128.5,363.1 1134.3,362.4 1140.0,373.8 1145.8,395.2 1151.6,397.5 1157.3,383.7 1163.1,383.7 1168.9,393.6 1174.6,390.6 1180.4,382.2 1186.2,378.4 1192.0,375.3 1197.7,370.8 1203.5,363.9 1209.3,365.4 1215.0,375.3 1220.8,386.0 1226.6,378.4 1232.3,379.2 1238.1,383.7 1243.9,390.6 1249.6,385.3 1255.4,379.2 1261.2,378.7 1266.9,374.6 1272.7,365.4 1278.5,363.1 1284.2,361.6 1290.0,360.8 1295.8,357.8 1301.5,359.3 1307.3,360.8 1313.1,361.6 1318.8,359.3 1324.6,368.5 1330.4,370.8 1336.2,373.1 1341.9,376.1 1347.7,378.4 1353.5,372.3 1359.2,367.7 1365.0,365.4 1370.8,366.5 1376.5,363.1 1382.3,366.9 1388.1,368.5 1393.8,370.5 1399.6,371.5 1405.4,370.8 1411.1,365.9 1416.9,365.9 1422.7,367.7 1428.4,370.8 1434.2,366.9 1440.0,375.3 1445.7,383.0 1451.5,384.5 1457.3,379.2 1457.3,402.3 101.8,402.3" fill="#b5e2fa" />
<polygon points="101.8,376.1 107.6,377.2 113.3,378.1 119.1,378.4 124.9,383.0 130.6,389.1 136.4,386.0 142.2,382.7 147.9,382.2 153.7,376.1 159.5,381.7 165.2,380.7 171.0,380.2 176.8,375.3 182.6,381.7 188.3,382.2 194.1,383.0 199.9,381.1 205.6,385.3 211.4,384.5 217.2,384.2 222.9,383.7 228.7,386.0 234.5,383.7 240.2,384.2 246.0,386.3 251.8,384.2 257.5,379.9 263.3,381.7 269.1,380.2 274.8,383.7 280.6,376.9 286.4,380.7 292.1,382.2 297.9,383.7 303.7,383.7 309.4,381.4 315.2,387.5 321.0,385.3 326.8,379.9 332.5,381.4 338.3,387.5 344.1,392.1 349.8,383.0 355.6,378.4 361.4,377.6 367.1,383.0 372.9,384.5 378.7,384.8 384.4,388.3 390.2,381.4 396.0,383.0 401.7,392.1 407.5,392.9 413.3,382.2 419.0,376.9 424.8,375.3 430.6,375.3 436.3,381.4 442.1,386.0 447.9,384.5 453.6,382.2 459.4,386.0 465.2,379.9 471.0,376.9 476.7,377.6 482.5,383.0 488.3,381.4 494.0,378.4 499.8,373.8 505.6,370.0 511.3,375.3 517.1,379.2 522.9,379.9 528.6,376.9 534.4,376.1 540.2,381.4 545.9,385.3 551.7,386.0 557.5,383.0 563.2,384.5 569.0,385.3 574.8,383.7 580.5,381.4 586.3,379.2 592.1,383.0 597.8,385.3 603.6,383.7 609.4,385.3 615.2,386.8 620.9,387.5 626.7,382.2 632.5,385.3 638.2,388.3 644.0,389.1 649.8,385.3 655.5,383.7 661.3,383.0 667.1,380.7 672.8,376.1 678.6,376.1 684.4,377.6 690.1,380.7 695.9,376.9 701.7,375.3 707.4,376.1 713.2,376.6 719.0,375.3 724.7,374.6 730.5,375.0 736.3,375.3 742.0,375.3 747.8,375.3 753.6,375.3 759.4,376.1 765.1,375.6 770.9,376.1 776.7,376.1 782.4,377.6 788.2,380.7 794.0,379.2 799.7,375.3 805.5,376.1 811.3,379.2 817.0,376.9 822.8,376.6 828.6,376.9 834.3,377.6 840.1,375.3 845.9,373.8 851.6,374.6 857.4,378.4 863.2,387.5 868.9,385.3 874.7,376.9 880.5,375.6 886.2,374.6 892.0,375.0 897.8,374.6 903.6,374.6 909.3,374.1 915.1,374.1 920.9,373.8 926.6,373.8 932.4,373.8 938.2,373.8 943.9,373.8 949.7,373.8 955.5,374.6 961.2,378.4 967.0,382.2 972.8,389.1 978.5,385.3 984.3,383.0 990.1,385.3 995.8,386.0 1001.6,386.0 1007.4,390.6 1013.1,387.5 1018.9,385.3 1024.7,382.2 1030.4,376.1 1036.2,376.9 1042.0,376.9 1047.8,379.9 1053.5,389.8 1059.3,390.6 1065.1,384.5 1070.8,386.8 1076.6,391.4 1082.4,389.1 1088.1,383.7 1093.9,386.0 1099.7,395.2 1105.4,389.1 1111.2,383.0 1117.0,377.6 1122.7,376.9 1128.5,376.1 1134.3,378.4 1140.0,383.7 1145.8,395.2 1151.6,397.9 1157.3,384.5 1163.1,385.3 1168.9,396.7 1174.6,394.4 1180.4,389.1 1186.2,386.0 1192.0,384.5 1197.7,381.4 1203.5,376.9 1209.3,379.2 1215.0,383.7 1220.8,389.8 1226.6,385.3 1232.3,387.5 1238.1,389.8 1243.9,394.4 1249.6,389.1 1255.4,382.2 1261.2,385.3 1266.9,383.7 1272.7,379.2 1278.5,378.1 1284.2,377.6 1290.0,376.9 1295.8,375.3 1301.5,376.1 1307.3,376.9 1313.1,377.2 1318.8,376.1 1324.6,378.4 1330.4,379.2 1336.2,379.9 1341.9,381.1 1347.7,383.0 1353.5,379.9 1359.2,377.6 1365.0,376.9 1370.8,376.9 1376.5,376.1 1382.3,376.9 1388.1,378.7 1393.8,380.7 1399.6,382.2 1405.4,383.0 1411.1,379.9 1416.9,379.2 1422.7,379.9 1428.4,380.7 1434.2,379.9 1440.0,384.5 1445.7,389.1 1451.5,390.6 1457.3,385.3 1457.3,402.3 101.8,402.3" fill="#74c6f2" />
<polygon points="101.8,381.1 107.6,382.2 113.3,383.0 119.1,385.3 124.9,388.3 130.6,393.6 136.4,390.6 142.2,387.2 147.9,386.8 153.7,377.6 159.5,383.7 165.2,383.7 171.0,383.7 176.8,377.6 182.6,385.3 188.3,386.0 194.1,386.8 199.9,383.7 205.6,388.3 211.4,387.5 217.2,387.8 222.9,386.8 228.7,387.5 234.5,385.3 240.2,386.8 246.0,391.4 251.8,389.1 257.5,383.7 263.3,386.0 269.1,384.5 274.8,386.0 280.6,380.7 286.4,383.0 292.1,384.8 297.9,384.8 303.7,384.8 309.4,385.3 315.2,390.9 321.0,387.5 326.8,383.0 332.5,385.3 338.3,393.6 344.1,395.9 349.8,389.1 355.6,383.7 361.4,382.2 367.1,386.8 372.9,386.8 378.7,386.0 384.4,391.4 390.2,385.7 396.0,387.2 401.7,395.2 407.5,395.5 413.3,386.8 419.0,381.4 424.8,380.7 430.6,380.2 436.3,384.5 442.1,388.8 447.9,387.5 453.6,386.0 459.4,389.1 465.2,382.2 471.0,378.4 476.7,380.2 482.5,386.8 488.3,385.3 494.0,381.4 499.8,377.6 505.6,373.8 511.3,377.6 517.1,382.2 522.9,383.0 528.6,381.4 534.4,380.7 540.2,385.3 545.9,389.1 551.7,389.1 557.5,386.0 563.2,387.5 569.0,388.3 574.8,387.5 580.5,385.3 586.3,382.2 592.1,385.3 597.8,388.3 603.6,386.8 609.4,389.1 615.2,389.8 620.9,390.6 626.7,386.0 632.5,389.1 638.2,392.1 644.0,392.1 649.8,388.3 655.5,386.8 661.3,386.0 667.1,385.3 672.8,381.4 678.6,381.1 684.4,383.0 690.1,386.0 695.9,382.7 701.7,381.4 707.4,381.7 713.2,381.7 719.0,380.7 724.7,379.9 730.5,380.7 736.3,381.1 742.0,381.4 747.8,381.7 753.6,381.4 759.4,381.7 765.1,381.4 770.9,381.7 776.7,381.7 782.4,382.7 788.2,384.8 794.0,383.7 799.7,380.7 805.5,381.4 811.3,383.7 817.0,381.7 822.8,381.4 828.6,381.4 834.3,382.2 840.1,380.2 845.9,379.2 851.6,379.9 857.4,383.7 863.2,391.4 868.9,389.1 874.7,381.7 880.5,380.7 886.2,379.9 892.0,379.9 897.8,379.6 903.6,379.6 909.3,379.2 915.1,379.2 920.9,379.2 926.6,379.2 932.4,379.2 938.2,379.2 943.9,379.2 949.7,379.2 955.5,380.2 961.2,383.0 967.0,386.0 972.8,392.9 978.5,389.8 984.3,386.8 990.1,388.3 995.8,389.1 1001.6,389.8 1007.4,393.6 1013.1,390.9 1018.9,388.3 1024.7,386.0 1030.4,381.4 1036.2,381.7 1042.0,381.4 1047.8,384.5 1053.5,392.9 1059.3,394.4 1065.1,386.8 1070.8,389.1 1076.6,395.2 1082.4,392.9 1088.1,387.5 1093.9,389.8 1099.7,397.9 1105.4,392.9 1111.2,386.8 1117.0,382.2 1122.7,381.7 1128.5,381.1 1134.3,383.0 1140.0,388.3 1145.8,396.7 1151.6,400.1 1157.3,386.0 1163.1,386.8 1168.9,399.7 1174.6,398.2 1180.4,393.6 1186.2,390.6 1192.0,389.1 1197.7,386.0 1203.5,382.2 1209.3,383.7 1215.0,386.8 1220.8,392.9 1226.6,389.1 1232.3,391.4 1238.1,393.6 1243.9,397.5 1249.6,392.1 1255.4,386.0 1261.2,389.8 1266.9,389.1 1272.7,383.7 1278.5,383.0 1284.2,383.0 1290.0,382.2 1295.8,380.7 1301.5,380.7 1307.3,381.4 1313.1,381.7 1318.8,381.1 1324.6,383.7 1330.4,384.5 1336.2,385.3 1341.9,386.8 1347.7,389.1 1353.5,385.3 1359.2,382.2 1365.0,382.2 1370.8,382.7 1376.5,381.4 1382.3,383.0 1388.1,384.5 1393.8,386.0 1399.6,386.8 1405.4,387.5 1411.1,385.3 1416.9,384.5 1422.7,385.3 1428.4,386.0 1434.2,385.3 1440.0,389.1 1445.7,392.9 1451.5,394.4 1457.3,389.1 1457.3,402.3 101.8,402.3" fill="#6895dd" />
<polygon points="101.8,401.0 107.6,401.0 113.3,401.0 119.1,401.0 124.9,401.0 130.6,401.0 136.4,401.0 142.2,400.5 147.9,399.7 153.7,386.0 159.5,392.1 165.2,391.4 171.0,390.9 176.8,383.7 182.6,392.1 188.3,390.3 194.1,391.4 199.9,387.5 205.6,393.6 211.4,391.4 217.2,391.4 222.9,388.3 228.7,389.1 234.5,386.8 240.2,388.3 246.0,393.6 251.8,390.6 257.5,388.3 263.3,394.4 269.1,393.6 274.8,396.7 280.6,392.1 286.4,393.6 292.1,393.6 297.9,388.3 303.7,387.5 309.4,387.8 315.2,397.5 321.0,401.0 326.8,401.0 332.5,401.0 338.3,401.0 344.1,401.0 349.8,401.0 355.6,401.0 361.4,401.0 367.1,400.5 372.9,390.6 378.7,389.1 384.4,399.7 390.2,401.0 396.0,401.0 401.7,401.0 407.5,401.0 413.3,401.0 419.0,401.0 424.8,401.0 430.6,401.0 436.3,399.7 442.1,394.4 447.9,399.0 453.6,400.5 459.4,399.7 465.2,390.6 471.0,381.4 476.7,383.7 482.5,396.7 488.3,401.0 494.0,399.7 499.8,392.1 505.6,386.0 511.3,386.8 517.1,393.6 522.9,401.0 528.6,401.0 534.4,401.0 540.2,401.0 545.9,399.7 551.7,393.6 557.5,393.6 563.2,399.7 569.0,401.0 574.8,400.5 580.5,395.9 586.3,395.9 592.1,399.7 597.8,400.5 603.6,396.7 609.4,400.5 615.2,401.0 620.9,399.7 626.7,395.5 632.5,399.0 638.2,401.0 644.0,400.5 649.8,395.2 655.5,392.9 661.3,394.4 667.1,400.5 672.8,401.0 678.6,401.0 684.4,401.0 690.1,401.0 695.9,401.0 701.7,401.0 707.4,401.0 713.2,401.0 719.0,401.0 724.7,401.0 730.5,401.0 736.3,401.0 742.0,401.0 747.8,401.0 753.6,401.0 759.4,401.0 765.1,401.0 770.9,401.0 776.7,401.0 782.4,401.0 788.2,401.0 794.0,400.5 799.7,399.4 805.5,400.1 811.3,401.0 817.0,401.0 822.8,401.0 828.6,401.0 834.3,401.0 840.1,401.0 845.9,401.0 851.6,401.0 857.4,401.0 863.2,401.0 868.9,401.0 874.7,400.1 880.5,401.0 886.2,401.0 892.0,401.0 897.8,401.0 903.6,401.0 909.3,401.0 915.1,401.0 920.9,401.0 926.6,401.0 932.4,401.0 938.2,401.0 943.9,401.0 949.7,401.0 955.5,401.0 961.2,401.0 967.0,401.0 972.8,401.0 978.5,401.0 984.3,401.0 990.1,401.0 995.8,401.0 1001.6,401.0 1007.4,401.0 1013.1,401.0 1018.9,401.0 1024.7,401.0 1030.4,401.0 1036.2,401.0 1042.0,401.0 1047.8,401.0 1053.5,401.0 1059.3,400.1 1065.1,395.2 1070.8,395.9 1076.6,399.7 1082.4,399.0 1088.1,390.6 1093.9,390.6 1099.7,399.7 1105.4,401.0 1111.2,401.0 1117.0,401.0 1122.7,401.0 1128.5,401.0 1134.3,401.0 1140.0,397.0 1145.8,398.2 1151.6,401.0 1157.3,387.5 1163.1,388.3 1168.9,401.0 1174.6,401.0 1180.4,401.0 1186.2,401.0 1192.0,401.0 1197.7,401.0 1203.5,401.0 1209.3,401.0 1215.0,401.0 1220.8,401.0 1226.6,401.0 1232.3,401.0 1238.1,401.0 1243.9,401.0 1249.6,399.7 1255.4,392.1 1261.2,400.5 1266.9,401.0 1272.7,401.0 1278.5,401.0 1284.2,401.0 1290.0,401.0 1295.8,401.0 1301.5,401.0 1307.3,401.0 1313.1,401.0 1318.8,401.0 1324.6,400.5 1330.4,400.1 1336.2,401.0 1341.9,401.0 1347.7,401.0 1353.5,401.0 1359.2,401.0 1365.0,401.0 1370.8,401.0 1376.5,401.0 1382.3,401.0 1388.1,401.0 1393.8,401.0 1399.6,401.0 1405.4,401.0 1411.1,401.0 1416.9,401.0 1422.7,401.0 1428.4,401.0 1434.2,401.0 1440.0,401.0 1445.7,401.0 1451.5,401.0 1457.3,401.0 1457.3,402.3 101.8,402.3" fill="#8a1caf" />
<polygon points="101.8,402.3 107.6,402.3 113.3,402.3 119.1,402.3 124.9,402.3 130.6,402.3 136.4,402.3 142.2,402.3 147.9,402.3 153.7,402.3 159.5,402.3 165.2,402.3 171.0,402.3 176.8,402.3 182.6,402.3 188.3,402.3 194.1,402.3 199.9,402.3 205.6,402.3 211.4,402.3 217.2,402.3 222.9,402.3 228.7,402.3 234.5,402.3 240.2,402.3 246.0,402.3 251.8,402.3 257.5,402.3 263.3,402.3 269.1,402.3 274.8,402.3 280.6,402.3 286.4,402.3 292.1,402.3 297.9,402.3 303.7,402.3 309.4,402.3 315.2,402.3 321.0,402.3 326.8,402.3 332.5,402.3 338.3,402.3 344.1,402.3 349.8,402.3 355.6,402.3 361.4,402.3 367.1,402.3 372.9,402.3 378.7,402.3 384.4,402.3 390.2,402.3 396.0,402.3 401.7,402.3 407.5,402.3 413.3,402.3 419.0,402.3 424.8,402.3 430.6,402.3 436.3,402.3 442.1,402.3 447.9,402.3 453.6,402.3 459.4,402.3 465.2,402.3 471.0,402.3 476.7,402.3 482.5,402.3 488.3,402.3 494.0,402.3 499.8,402.3 505.6,402.3 511.3,402.3 517.1,402.3 522.9,402.3 528.6,402.3 534.4,402.3 540.2,402.3 545.9,402.3 551.7,402.3 557.5,402.3 563.2,402.3 569.0,402.3 574.8,402.3 580.5,402.3 586.3,402.3 592.1,402.3 597.8,402.3 603.6,402.3 609.4,402.3 615.2,402.3 620.9,402.3 626.7,402.3 632.5,402.3 638.2,402.3 644.0,402.3 649.8,402.3 655.5,402.3 661.3,402.3 667.1,402.3 672.8,402.3 678.6,402.3 684.4,402.3 690.1,402.3 695.9,402.3 701.7,402.3 707.4,402.3 713.2,402.3 719.0,402.3 724.7,402.3 730.5,402.3 736.3,402.3 742.0,402.3 747.8,402.3 753.6,402.3 759.4,402.3 765.1,402.3 770.9,402.3 776.7,402.3 782.4,402.3 788.2,402.3 794.0,402.3 799.7,402.3 805.5,402.3 811.3,402.3 817.0,402.3 822.8,402.3 828.6,402.3 834.3,402.3 840.1,402.3 845.9,402.3 851.6,402.3 857.4,402.3 863.2,402.3 868.9,402.3 874.7,402.3 880.5,402.3 886.2,402.3 892.0,402.3 897.8,402.3 903.6,402.3 909.3,402.3 915.1,402.3 920.9,402.3 926.6,402.3 932.4,402.3 938.2,402.3 943.9,402.3 949.7,402.3 955.5,402.3 961.2,402.3 967.0,402.3 972.8,402.3 978.5,402.3 984.3,402.3 990.1,402.3 995.8,402.3 1001.6,402.3 1007.4,402.3 1013.1,402.3 1018.9,402.3 1024.7,402.3 1030.4,402.3 1036.2,402.3 1042.0,402.3 1047.8,402.3 1053.5,402.3 1059.3,402.3 1065.1,402.3 1070.8,402.3 1076.6,402.3 1082.4,402.3 1088.1,402.3 1093.9,402.3 1099.7,402.3 1105.4,402.3 1111.2,402.3 1117.0,402.3 1122.7,402.3 1128.5,402.3 1134.3,402.3 1140.0,402.3 1145.8,402.3 1151.6,402.3 1157.3,402.3 1163.1,402.3 1168.9,402.3 1174.6,402.3 1180.4,402.3 1186.2,402.3 1192.0,402.3 1197.7,402.3 1203.5,402.3 1209.3,402.3 1215.0,402.3 1220.8,402.3 1226.6,402.3 1232.3,402.3 1238.1,402.3 1243.9,402.3 1249.6,402.3 1255.4,402.3 1261.2,402.3 1266.9,402.3 1272.7,402.3 1278.5,402.3 1284.2,402.3 1290.0,402.3 1295.8,402.3 1301.5,402.3 1307.3,402.3 1313.1,402.3 1318.8,402.3 1324.6,402.3 1330.4,402.3 1336.2,402.3 1341.9,402.3 1347.7,402.3 1353.5,402.3 1359.2,402.3 1365.0,402.3 1370.8,402.3 1376.5,402.3 1382.3,402.3 1388.1,402.3 1393.8,402.3 1399.6,402.3 1405.4,402.3 1411.1,402.3 1416.9,402.3 1422.7,402.3 1428.4,402.3 1434.2,402.3 1440.0,402.3 1445.7,402.3 1451.5,402.3 1457.3,402.3 1457.3,444.6 1451.5,435.4 1445.7,436.2 1440.0,444.6 1434.2,454.5 1428.4,449.6 1422.7,451.4 1416.9,456.0 1411.1,456.3 1405.4,444.1 1399.6,444.6 1393.8,450.7 1388.1,453.0 1382.3,450.7 1376.5,454.5 1370.8,454.5 1365.0,456.8 1359.2,449.9 1353.5,446.1 1347.7,443.1 1341.9,446.1 1336.2,447.2 1330.4,449.6 1324.6,456.0 1318.8,464.4 1313.1,457.8 1307.3,459.4 1301.5,460.6 1295.8,460.6 1290.0,457.5 1284.2,456.8 1278.5,454.5 1272.7,452.7 1266.9,440.5 1261.2,436.5 1255.4,443.5 1249.6,440.0 1243.9,427.8 1238.1,435.0 1232.3,443.8 1226.6,444.6 1220.8,431.3 1215.0,441.5 1209.3,456.0 1203.5,460.6 1197.7,444.6 1192.0,438.5 1186.2,444.1 1180.4,443.1 1174.6,432.8 1168.9,428.6 1163.1,440.8 1157.3,440.8 1151.6,428.3 1145.8,430.1 1140.0,443.8 1134.3,453.7 1128.5,453.7 1122.7,453.7 1117.0,457.2 1111.2,448.4 1105.4,438.5 1099.7,432.4 1093.9,441.5 1088.1,443.5 1082.4,437.7 1076.6,435.0 1070.8,443.8 1065.1,449.6 1059.3,437.4 1053.5,439.5 1047.8,452.2 1042.0,459.8 1036.2,459.8 1030.4,456.8 1024.7,450.2 1018.9,450.2 1013.1,446.1 1007.4,441.1 1001.6,446.9 995.8,451.1 990.1,452.2 984.3,452.7 978.5,448.7 972.8,446.1 967.0,447.6 961.2,453.0 955.5,461.4 949.7,463.3 943.9,465.9 938.2,464.9 932.4,464.4 926.6,464.4 920.9,467.0 915.1,465.5 909.3,462.9 903.6,457.5 897.8,458.3 892.0,458.8 886.2,460.9 880.5,457.5 874.7,455.3 868.9,438.5 863.2,440.0 857.4,460.6 851.6,465.9 845.9,462.9 840.1,459.8 834.3,456.3 828.6,457.5 822.8,456.8 817.0,453.7 811.3,446.9 805.5,454.5 799.7,457.8 794.0,449.2 788.2,445.3 782.4,456.0 776.7,460.3 770.9,458.8 765.1,459.4 759.4,459.1 753.6,460.6 747.8,459.8 742.0,459.4 736.3,459.8 730.5,456.8 724.7,457.2 719.0,453.7 713.2,450.7 707.4,457.8 701.7,457.8 695.9,451.4 690.1,442.6 684.4,448.4 678.6,455.3 672.8,457.5 667.1,444.6 661.3,447.6 655.5,443.8 649.8,443.1 644.0,438.5 638.2,440.8 632.5,443.1 626.7,448.4 620.9,441.5 615.2,444.6 609.4,445.3 603.6,449.2 597.8,449.2 592.1,450.2 586.3,446.6 580.5,450.7 574.8,449.6 569.0,447.2 563.2,445.0 557.5,446.9 551.7,435.0 545.9,435.0 540.2,449.2 534.4,456.3 528.6,457.2 522.9,449.2 517.1,443.1 511.3,446.1 505.6,457.8 499.8,460.6 494.0,456.8 488.3,454.5 482.5,449.2 476.7,456.0 471.0,448.4 465.2,447.2 459.4,446.1 453.6,457.5 447.9,449.2 442.1,442.0 436.3,450.7 430.6,462.9 424.8,462.1 419.0,463.3 413.3,451.4 407.5,437.4 401.7,438.5 396.0,448.4 390.2,449.9 384.4,436.5 378.7,437.4 372.9,438.5 367.1,446.1 361.4,454.5 355.6,456.8 349.8,446.1 344.1,435.0 338.3,435.4 332.5,453.0 326.8,459.8 321.0,451.4 315.2,442.6 309.4,444.1 303.7,440.3 297.9,440.0 292.1,438.5 286.4,441.5 280.6,447.6 274.8,439.2 269.1,444.6 263.3,441.5 257.5,444.6 251.8,438.5 246.0,436.2 240.2,440.0 234.5,441.1 228.7,435.4 222.9,439.5 217.2,438.5 211.4,438.5 205.6,436.9 199.9,443.1 194.1,439.2 188.3,441.1 182.6,441.5 176.8,447.6 171.0,441.5 165.2,440.5 159.5,437.4 153.7,443.8 147.9,440.5 142.2,440.8 136.4,429.8 130.6,427.3 124.9,439.2 119.1,446.1 113.3,449.9 107.6,453.7 101.8,458.3" fill="#97ad8c" />
<polygon points="101.8,402.3 107.6,402.3 113.3,402.3 119.1,402.3 124.9,402.3 130.6,402.3 136.4,402.3 142.2,402.3 147.9,402.3 153.7,402.3 159.5,402.3 165.2,402.3 171.0,402.3 176.8,402.3 182.6,402.3 188.3,402.3 194.1,402.3 199.9,402.3 205.6,402.3 211.4,402.3 217.2,402.3 222.9,402.3 228.7,402.3 234.5,402.3 240.2,402.3 246.0,402.3 251.8,402.3 257.5,402.3 263.3,402.3 269.1,402.3 274.8,402.3 280.6,402.3 286.4,402.3 292.1,402.3 297.9,402.3 303.7,402.3 309.4,402.3 315.2,402.3 321.0,402.3 326.8,402.3 332.5,402.3 338.3,402.3 344.1,402.3 349.8,402.3 355.6,402.3 361.4,402.3 367.1,402.3 372.9,402.3 378.7,402.3 384.4,402.3 390.2,402.3 396.0,402.3 401.7,402.3 407.5,402.3 413.3,402.3 419.0,402.3 424.8,402.3 430.6,402.3 436.3,402.3 442.1,402.3 447.9,402.3 453.6,402.3 459.4,402.3 465.2,402.3 471.0,402.3 476.7,402.3 482.5,402.3 488.3,402.3 494.0,402.3 499.8,402.3 505.6,402.3 511.3,402.3 517.1,402.3 522.9,402.3 528.6,402.3 534.4,402.3 540.2,402.3 545.9,402.3 551.7,402.3 557.5,402.3 563.2,402.3 569.0,402.3 574.8,402.3 580.5,402.3 586.3,402.3 592.1,402.3 597.8,402.3 603.6,402.3 609.4,402.3 615.2,402.3 620.9,402.3 626.7,402.3 632.5,402.3 638.2,402.3 644.0,402.3 649.8,402.3 655.5,402.3 661.3,402.3 667.1,402.3 672.8,402.3 678.6,402.3 684.4,402.3 690.1,402.3 695.9,402.3 701.7,402.3 707.4,402.3 713.2,402.3 719.0,402.3 724.7,402.3 730.5,402.3 736.3,402.3 742.0,402.3 747.8,402.3 753.6,402.3 759.4,402.3 765.1,402.3 770.9,402.3 776.7,402.3 782.4,402.3 788.2,402.3 794.0,402.3 799.7,402.3 805.5,402.3 811.3,402.3 817.0,402.3 822.8,402.3 828.6,402.3 834.3,402.3 840.1,402.3 845.9,402.3 851.6,402.3 857.4,402.3 863.2,402.3 868.9,402.3 874.7,402.3 880.5,402.3 886.2,402.3 892.0,402.3 897.8,402.3 903.6,402.3 909.3,402.3 915.1,402.3 920.9,402.3 926.6,402.3 932.4,402.3 938.2,402.3 943.9,402.3 949.7,402.3 955.5,402.3 961.2,402.3 967.0,402.3 972.8,402.3 978.5,402.3 984.3,402.3 990.1,402.3 995.8,402.3 1001.6,402.3 1007.4,402.3 1013.1,402.3 1018.9,402.3 1024.7,402.3 1030.4,402.3 1036.2,402.3 1042.0,402.3 1047.8,402.3 1053.5,402.3 1059.3,402.3 1065.1,402.3 1070.8,402.3 1076.6,402.3 1082.4,402.3 1088.1,402.3 1093.9,402.3 1099.7,402.3 1105.4,402.3 1111.2,402.3 1117.0,402.3 1122.7,402.3 1128.5,402.3 1134.3,402.3 1140.0,402.3 1145.8,402.3 1151.6,402.3 1157.3,402.3 1163.1,402.3 1168.9,402.3 1174.6,402.3 1180.4,402.3 1186.2,402.3 1192.0,402.3 1197.7,402.3 1203.5,402.3 1209.3,402.3 1215.0,402.3 1220.8,402.3 1226.6,402.3 1232.3,402.3 1238.1,402.3 1243.9,402.3 1249.6,402.3 1255.4,402.3 1261.2,402.3 1266.9,402.3 1272.7,402.3 1278.5,402.3 1284.2,402.3 1290.0,402.3 1295.8,402.3 1301.5,402.3 1307.3,402.3 1313.1,402.3 1318.8,402.3 1324.6,402.3 1330.4,402.3 1336.2,402.3 1341.9,402.3 1347.7,402.3 1353.5,402.3 1359.2,402.3 1365.0,402.3 1370.8,402.3 1376.5,402.3 1382.3,402.3 1388.1,402.3 1393.8,402.3 1399.6,402.3 1405.4,402.3 1411.1,402.3 1416.9,402.3 1422.7,402.3 1428.4,402.3 1434.2,402.3 1440.0,402.3 1445.7,402.3 1451.5,402.3 1457.3,402.3 1457.3,404.5 1451.5,410.3 1445.7,409.9 1440.0,404.9 1434.2,413.3 1428.4,423.2 1422.7,419.7 1416.9,415.6 1411.1,414.8 1405.4,420.2 1399.6,414.8 1393.8,407.5 1388.1,406.9 1382.3,417.6 1376.5,412.5 1370.8,413.0 1365.0,413.0 1359.2,414.1 1353.5,404.9 1347.7,404.9 1341.9,406.0 1336.2,404.9 1330.4,404.5 1324.6,414.8 1318.8,420.6 1313.1,426.7 1307.3,426.7 1301.5,420.6 1295.8,420.9 1290.0,432.4 1284.2,432.4 1278.5,414.5 1272.7,414.1 1266.9,427.8 1261.2,420.9 1255.4,404.5 1249.6,404.5 1243.9,426.3 1238.1,424.7 1232.3,405.4 1226.6,408.0 1220.8,429.8 1215.0,430.8 1209.3,416.4 1203.5,418.2 1197.7,432.4 1192.0,424.0 1186.2,408.4 1180.4,409.0 1174.6,419.4 1168.9,415.6 1163.1,404.5 1157.3,404.5 1151.6,407.5 1145.8,404.2 1140.0,404.2 1134.3,406.9 1128.5,414.8 1122.7,415.6 1117.0,411.8 1111.2,405.4 1105.4,411.5 1099.7,404.9 1093.9,404.2 1088.1,404.2 1082.4,404.2 1076.6,404.2 1070.8,404.2 1065.1,404.5 1059.3,409.5 1053.5,409.5 1047.8,411.0 1042.0,414.8 1036.2,418.6 1030.4,423.7 1024.7,411.5 1018.9,415.1 1013.1,414.1 1007.4,412.1 1001.6,411.5 995.8,411.0 990.1,423.2 984.3,420.2 978.5,407.5 972.8,407.2 967.0,417.1 961.2,425.5 955.5,414.1 949.7,415.1 943.9,411.0 938.2,411.5 932.4,416.4 926.6,417.6 920.9,409.0 915.1,408.7 909.3,408.0 903.6,405.4 897.8,405.7 892.0,408.7 886.2,411.0 880.5,408.7 874.7,404.9 868.9,408.4 863.2,406.9 857.4,417.9 851.6,414.1 845.9,416.7 840.1,417.6 834.3,414.1 828.6,413.3 822.8,416.1 817.0,404.5 811.3,404.5 805.5,404.5 799.7,404.2 794.0,404.2 788.2,404.2 782.4,404.9 776.7,405.7 770.9,406.9 765.1,409.5 759.4,411.5 753.6,408.0 747.8,406.9 742.0,411.8 736.3,413.3 730.5,414.8 724.7,413.3 719.0,411.0 713.2,412.5 707.4,413.3 701.7,411.0 695.9,414.1 690.1,411.0 684.4,411.0 678.6,411.0 672.8,411.0 667.1,413.6 661.3,404.9 655.5,404.2 649.8,404.2 644.0,408.0 638.2,409.0 632.5,404.2 626.7,404.2 620.9,408.7 615.2,412.1 609.4,405.7 603.6,404.2 597.8,414.8 592.1,416.4 586.3,404.2 580.5,404.9 574.8,412.1 569.0,410.3 563.2,404.5 557.5,404.2 551.7,404.2 545.9,404.2 540.2,409.9 534.4,410.6 528.6,411.0 522.9,410.3 517.1,404.2 511.3,404.2 505.6,404.2 499.8,404.2 494.0,407.5 488.3,406.0 482.5,404.2 476.7,404.2 471.0,404.2 465.2,404.2 459.4,408.7 453.6,408.7 447.9,404.2 442.1,404.2 436.3,417.1 430.6,429.3 424.8,416.4 419.0,416.4 413.3,415.6 407.5,408.0 401.7,406.9 396.0,406.9 390.2,419.4 384.4,404.5 378.7,404.2 372.9,404.2 367.1,417.9 361.4,422.5 355.6,418.6 349.8,408.7 344.1,408.7 338.3,409.0 332.5,412.5 326.8,414.1 321.0,404.9 315.2,404.2 309.4,404.2 303.7,404.2 297.9,404.2 292.1,404.2 286.4,404.2 280.6,404.2 274.8,404.2 269.1,404.2 263.3,404.2 257.5,404.2 251.8,404.2 246.0,404.2 240.2,404.2 234.5,404.2 228.7,404.2 222.9,404.2 217.2,404.2 211.4,404.2 205.6,404.2 199.9,404.2 194.1,404.2 188.3,404.2 182.6,404.2 176.8,404.2 171.0,404.2 165.2,404.2 159.5,404.2 153.7,404.2 147.9,404.2 142.2,404.2 136.4,404.2 130.6,404.2 124.9,404.2 119.1,404.9 113.3,418.6 107.6,414.1 101.8,415.6" fill="#8a1caf" />
<polygon points="101.8,412.2 107.6,412.1 113.3,418.6 119.1,404.9 124.9,404.2 130.6,404.2 136.4,404.2 142.2,404.2 147.9,404.2 153.7,404.2 159.5,404.2 165.2,404.2 171.0,404.2 176.8,404.2 182.6,404.2 188.3,404.2 194.1,404.2 199.9,404.2 205.6,404.2 211.4,404.2 217.2,404.2 222.9,404.2 228.7,404.2 234.5,404.2 240.2,404.2 246.0,404.2 251.8,404.2 257.5,404.2 263.3,404.2 269.1,404.2 274.8,404.2 280.6,404.2 286.4,404.2 292.1,404.2 297.9,404.2 303.7,404.2 309.4,404.2 315.2,404.2 321.0,404.9 326.8,414.1 332.5,412.5 338.3,409.0 344.1,408.7 349.8,408.7 355.6,418.6 361.4,419.1 367.1,417.9 372.9,404.2 378.7,404.2 384.4,404.5 390.2,419.4 396.0,406.9 401.7,406.9 407.5,408.0 413.3,412.2 419.0,413.0 424.8,416.4 430.6,429.3 436.3,417.1 442.1,404.2 447.9,404.2 453.6,408.7 459.4,408.7 465.2,404.2 471.0,404.2 476.7,404.2 482.5,404.2 488.3,406.0 494.0,407.5 499.8,404.2 505.6,404.2 511.3,404.2 517.1,404.2 522.9,406.9 528.6,407.7 534.4,410.6 540.2,409.9 545.9,404.2 551.7,404.2 557.5,404.2 563.2,404.5 569.0,410.3 574.8,408.7 580.5,404.9 586.3,404.2 592.1,416.4 597.8,414.8 603.6,404.2 609.4,405.7 615.2,412.1 620.9,408.7 626.7,404.2 632.5,404.2 638.2,409.0 644.0,408.0 649.8,404.2 655.5,404.2 661.3,404.9 667.1,413.6 672.8,411.0 678.6,411.0 684.4,411.0 690.1,411.0 695.9,414.1 701.7,409.5 707.4,413.3 713.2,412.5 719.0,411.0 724.7,413.3 730.5,412.5 736.3,413.3 742.0,411.8 747.8,406.9 753.6,408.0 759.4,411.5 765.1,409.5 770.9,406.9 776.7,405.7 782.4,404.9 788.2,404.2 794.0,404.2 799.7,404.2 805.5,404.5 811.3,404.5 817.0,404.5 822.8,416.1 828.6,413.3 834.3,414.1 840.1,417.6 845.9,416.7 851.6,411.0 857.4,417.9 863.2,406.9 868.9,408.4 874.7,404.9 880.5,408.7 886.2,411.0 892.0,408.7 897.8,405.7 903.6,405.4 909.3,408.0 915.1,408.7 920.9,405.7 926.6,417.6 932.4,416.4 938.2,411.5 943.9,408.4 949.7,415.1 955.5,414.1 961.2,425.5 967.0,417.1 972.8,407.2 978.5,407.5 984.3,420.2 990.1,419.9 995.8,411.0 1001.6,411.5 1007.4,412.1 1013.1,414.1 1018.9,415.1 1024.7,411.5 1030.4,420.3 1036.2,415.3 1042.0,411.5 1047.8,408.0 1053.5,406.4 1059.3,409.5 1065.1,404.5 1070.8,404.2 1076.6,404.2 1082.4,404.2 1088.1,404.2 1093.9,404.2 1099.7,404.9 1105.4,411.5 1111.2,405.4 1117.0,408.7 1122.7,412.2 1128.5,411.5 1134.3,406.9 1140.0,404.2 1145.8,404.2 1151.6,407.5 1157.3,404.5 1163.1,404.5 1168.9,413.3 1174.6,417.1 1180.4,409.0 1186.2,408.4 1192.0,421.7 1197.7,430.1 1203.5,418.2 1209.3,416.4 1215.0,428.6 1220.8,427.5 1226.6,408.0 1232.3,405.4 1238.1,424.7 1243.9,424.0 1249.6,404.5 1255.4,404.5 1261.2,418.6 1266.9,425.5 1272.7,414.1 1278.5,414.5 1284.2,430.1 1290.0,430.1 1295.8,420.9 1301.5,420.6 1307.3,426.7 1313.1,426.7 1318.8,420.6 1324.6,414.8 1330.4,404.5 1336.2,404.9 1341.9,406.0 1347.7,404.9 1353.5,404.9 1359.2,414.1 1365.0,413.0 1370.8,413.0 1376.5,412.5 1382.3,417.6 1388.1,406.9 1393.8,407.5 1399.6,414.8 1405.4,420.2 1411.1,414.8 1416.9,415.6 1422.7,419.7 1428.4,423.2 1434.2,413.3 1440.0,404.9 1445.7,409.9 1451.5,410.3 1457.3,404.5 1457.3,404.5 1451.5,410.3 1445.7,409.9 1440.0,404.9 1434.2,413.3 1428.4,423.2 1422.7,419.7 1416.9,415.6 1411.1,414.8 1405.4,420.2 1399.6,414.8 1393.8,407.5 1388.1,406.9 1382.3,417.6 1376.5,412.5 1370.8,413.0 1365.0,413.0 1359.2,414.1 1353.5,404.9 1347.7,404.9 1341.9,406.0 1336.2,404.9 1330.4,404.5 1324.6,414.8 1318.8,420.6 1313.1,426.7 1307.3,426.7 1301.5,420.6 1295.8,420.9 1290.0,432.4 1284.2,432.4 1278.5,414.5 1272.7,414.1 1266.9,427.8 1261.2,420.9 1255.4,404.5 1249.6,404.5 1243.9,426.3 1238.1,424.7 1232.3,405.4 1226.6,408.0 1220.8,429.8 1215.0,430.8 1209.3,416.4 1203.5,418.2 1197.7,432.4 1192.0,424.0 1186.2,408.4 1180.4,409.0 1174.6,419.4 1168.9,415.6 1163.1,404.5 1157.3,404.5 1151.6,407.5 1145.8,404.2 1140.0,404.2 1134.3,406.9 1128.5,414.8 1122.7,415.6 1117.0,411.8 1111.2,405.4 1105.4,411.5 1099.7,404.9 1093.9,404.2 1088.1,404.2 1082.4,404.2 1076.6,404.2 1070.8,404.2 1065.1,404.5 1059.3,409.5 1053.5,409.5 1047.8,411.0 1042.0,414.8 1036.2,418.6 1030.4,423.7 1024.7,411.5 1018.9,415.1 1013.1,414.1 1007.4,412.1 1001.6,411.5 995.8,411.0 990.1,423.2 984.3,420.2 978.5,407.5 972.8,407.2 967.0,417.1 961.2,425.5 955.5,414.1 949.7,415.1 943.9,411.0 938.2,411.5 932.4,416.4 926.6,417.6 920.9,409.0 915.1,408.7 909.3,408.0 903.6,405.4 897.8,405.7 892.0,408.7 886.2,411.0 880.5,408.7 874.7,404.9 868.9,408.4 863.2,406.9 857.4,417.9 851.6,414.1 845.9,416.7 840.1,417.6 834.3,414.1 828.6,413.3 822.8,416.1 817.0,404.5 811.3,404.5 805.5,404.5 799.7,404.2 794.0,404.2 788.2,404.2 782.4,404.9 776.7,405.7 770.9,406.9 765.1,409.5 759.4,411.5 753.6,408.0 747.8,406.9 742.0,411.8 736.3,413.3 730.5,414.8 724.7,413.3 719.0,411.0 713.2,412.5 707.4,413.3 701.7,411.0 695.9,414.1 690.1,411.0 684.4,411.0 678.6,411.0 672.8,411.0 667.1,413.6 661.3,404.9 655.5,404.2 649.8,404.2 644.0,408.0 638.2,409.0 632.5,404.2 626.7,404.2 620.9,408.7 615.2,412.1 609.4,405.7 603.6,404.2 597.8,414.8 592.1,416.4 586.3,404.2 580.5,404.9 574.8,412.1 569.0,410.3 563.2,404.5 557.5,404.2 551.7,404.2 545.9,404.2 540.2,409.9 534.4,410.6 528.6,411.0 522.9,410.3 517.1,404.2 511.3,404.2 505.6,404.2 499.8,404.2 494.0,407.5 488.3,406.0 482.5,404.2 476.7,404.2 471.0,404.2 465.2,404.2 459.4,408.7 453.6,408.7 447.9,404.2 442.1,404.2 436.3,417.1 430.6,429.3 424.8,416.4 419.0,416.4 413.3,415.6 407.5,408.0 401.7,406.9 396.0,406.9 390.2,419.4 384.4,404.5 378.7,404.2 372.9,404.2 367.1,417.9 361.4,422.5 355.6,418.6 349.8,408.7 344.1,408.7 338.3,409.0 332.5,412.5 326.8,414.1 321.0,404.9 315.2,404.2 309.4,404.2 303.7,404.2 297.9,404.2 292.1,404.2 286.4,404.2 280.6,404.2 274.8,404.2 269.1,404.2 263.3,404.2 257.5,404.2 251.8,404.2 246.0,404.2 240.2,404.2 234.5,404.2 228.7,404.2 222.9,404.2 217.2,404.2 211.4,404.2 205.6,404.2 199.9,404.2 194.1,404.2 188.3,404.2 182.6,404.2 176.8,404.2 171.0,404.2 165.2,404.2 159.5,404.2 153.7,404.2 147.9,404.2 142.2,404.2 136.4,404.2 130.6,404.2 124.9,404.2 119.1,404.9 113.3,418.6 107.6,414.1 101.8,415.6" fill="#ff29d9" />
<line x1="101.6" x2="1457.6" y1="313.50" y2="313.50" stroke="#b2b2b2" stroke-width="0.69" stroke-dasharray="2.57 1.11" opacity="0.9"/>
<line x1="101.6" x2="1457.6" y1="357.50" y2="357.50" stroke="#b2b2b2" stroke-width="0.69" stroke-dasharray="2.57 1.11" opacity="0.9"/>
<line x1="101.6" x2="1457.6" y1="402.50" y2="402.50" stroke="#b2b2b2" stroke-width="0.69" stroke-dasharray="2.57 1.11" opacity="0.9"/>
<line x1="101.6" x2="1457.6" y1="447.50" y2="447.50" stroke="#b2b2b2" stroke-width="0.69" stroke-dasharray="2.57 1.11" opacity="0.9"/>
<line x1="101.6" x2="1457.6" y1="491.50" y2="491.50" stroke="#b2b2b2" stroke-width="0.69" stroke-dasharray="2.57 1.11" opacity="0.9"/>
<line x1="817.45" x2="817.45" y1="313.5" y2="491.8" stroke="#b2b2b2" stroke-width="0.69" stroke-dasharray="2.57 1.11" opacity="0.9"/>
<polyline points="142.2,401.1 147.9,400.3 153.7,386.6 159.5,392.7 165.2,392.0 171.0,391.5 176.8,384.3 182.6,392.7 188.3,390.9 194.1,392.0 199.9,388.1 205.6,394.2 211.4,392.0 217.2,392.0 222.9,388.9 228.7,389.7 234.5,387.4 240.2,388.9 246.0,394.2 251.8,391.2 257.5,388.9 263.3,395.0 269.1,394.2 274.8,397.3 280.6,392.7 286.4,394.2 292.1,394.2 297.9,388.9 303.7,388.1 309.4,388.4 315.2,398.1 321.0,401.6" fill="none" stroke="#991f83" stroke-width="2.0" stroke-linejoin="round"/>
<polyline points="367.1,401.1 372.9,391.2 378.7,389.7 384.4,400.3 390.2,401.6" fill="none" stroke="#991f83" stroke-width="2.0" stroke-linejoin="round"/>
<polyline points="430.6,401.6 436.3,400.3 442.1,395.0 447.9,399.6 453.6,401.1 459.4,400.3 465.2,391.2 471.0,382.0 476.7,384.3 482.5,397.3 488.3,401.6 494.0,400.3 499.8,392.7 505.6,386.6 511.3,387.4 517.1,394.2 522.9,401.6" fill="none" stroke="#991f83" stroke-width="2.0" stroke-linejoin="round"/>
<polyline points="540.2,401.6 545.9,400.3 551.7,394.2 557.5,394.2 563.2,400.3 569.0,401.6 574.8,401.1 580.5,396.5 586.3,396.5 592.1,400.3 597.8,401.1 603.6,397.3 609.4,401.1 615.2,401.6 620.9,400.3 626.7,396.1 632.5,399.6 638.2,401.6 644.0,401.1 649.8,395.8 655.5,393.5 661.3,395.0 667.1,401.1" fill="none" stroke="#991f83" stroke-width="2.0" stroke-linejoin="round"/>
<polyline points="794.0,401.1 799.7,400.0 805.5,400.7 811.3,401.6" fill="none" stroke="#991f83" stroke-width="2.0" stroke-linejoin="round"/>
<polyline points="868.9,401.6 874.7,400.7 880.5,401.6" fill="none" stroke="#991f83" stroke-width="2.0" stroke-linejoin="round"/>
<polyline points="1053.5,401.6 1059.3,400.7 1065.1,395.8 1070.8,396.5 1076.6,400.3 1082.4,399.6 1088.1,391.2 1093.9,391.2 1099.7,400.3 1105.4,401.6" fill="none" stroke="#991f83" stroke-width="2.0" stroke-linejoin="round"/>
<polyline points="1134.3,401.6 1140.0,397.6 1145.8,398.8 1151.6,401.6 1157.3,388.1 1163.1,388.9 1168.9,401.6" fill="none" stroke="#991f83" stroke-width="2.0" stroke-linejoin="round"/>
<polyline points="1243.9,401.6 1249.6,400.3 1255.4,392.7 1261.2,401.1" fill="none" stroke="#991f83" stroke-width="2.0" stroke-linejoin="round"/>
<polyline points="1324.6,401.1 1330.4,400.7 1336.2,401.6" fill="none" stroke="#991f83" stroke-width="2.0" stroke-linejoin="round"/>
<polyline points="101.8,355.5 107.6,359.3 113.3,362.4 119.1,365.0 124.9,373.8 130.6,384.5 136.4,382.2 142.2,376.1 147.9,375.6 153.7,370.5 159.5,376.9 165.2,376.1 171.0,375.3 176.8,369.2 182.6,376.1 188.3,376.1 194.1,377.6 199.9,376.1 205.6,380.2 211.4,379.6 217.2,379.6 222.9,379.2 228.7,382.7 234.5,377.6 240.2,378.4 246.0,380.7 251.8,378.4 257.5,373.8 263.3,375.3 269.1,373.1 274.8,377.6 280.6,370.8 286.4,375.3 292.1,378.4 297.9,377.6 303.7,376.9 309.4,373.1 315.2,374.6 321.0,365.4 326.8,357.8 332.5,363.1 338.3,383.0 344.1,382.7 349.8,369.2 355.6,359.3 361.4,360.8 367.1,370.8 372.9,379.2 378.7,380.2 384.4,380.7 390.2,368.5 396.0,370.0 401.7,379.2 407.5,380.7 413.3,366.2 419.0,354.0 424.8,353.2 430.6,353.2 436.3,366.2 442.1,373.8 447.9,367.7 453.6,361.6 459.4,371.5 465.2,370.8 471.0,370.0 476.7,364.7 482.5,369.2 488.3,363.1 494.0,360.8 499.8,358.6 505.6,360.8 511.3,370.0 517.1,373.1 522.9,366.2 528.6,357.8 534.4,359.3 540.2,366.9 545.9,379.2 551.7,379.9 557.5,369.2 563.2,367.7 569.0,365.4 574.8,363.1 580.5,365.4 586.3,368.5 592.1,369.2 597.8,370.0 603.6,369.2 609.4,371.5 615.2,373.8 620.9,376.9 626.7,370.0 632.5,374.6 638.2,377.6 644.0,379.2 649.8,372.3 655.5,370.8 661.3,368.5 667.1,365.4 672.8,357.0 678.6,360.1 684.4,365.4 690.1,370.8 695.9,361.6 701.7,355.5 707.4,355.5 713.2,361.6 719.0,357.8 724.7,354.7 730.5,354.7 736.3,353.2 742.0,353.2 747.8,352.9 753.6,352.5 759.4,352.9 765.1,353.2 770.9,353.2 776.7,353.2 782.4,357.0 788.2,366.6 794.0,361.6 799.7,355.1 805.5,358.6 811.3,365.4 817.0,359.3 822.8,356.3 828.6,356.3 834.3,357.0 840.1,354.0 845.9,351.4 851.6,350.2 857.4,357.0 863.2,376.9 868.9,376.9 874.7,360.1 880.5,356.3 886.2,353.2 892.0,355.1 897.8,355.5 903.6,355.5 909.3,350.9 915.1,348.6 920.9,347.9 926.6,349.4 932.4,349.4 938.2,349.9 943.9,348.9 949.7,350.9 955.5,354.0 961.2,362.4 967.0,365.4 972.8,370.8 978.5,369.2 984.3,366.2 990.1,368.5 995.8,369.2 1001.6,372.3 1007.4,376.9 1013.1,371.5 1018.9,367.7 1024.7,366.2 1030.4,357.8 1036.2,353.2 1042.0,352.5 1047.8,359.3 1053.5,372.3 1059.3,373.8 1065.1,369.2 1070.8,376.1 1076.6,383.7 1082.4,381.4 1088.1,376.1 1093.9,377.6 1099.7,385.3 1105.4,379.2 1111.2,368.5 1117.0,357.8 1122.7,359.3 1128.5,359.3 1134.3,359.3 1140.0,370.8 1145.8,389.1 1151.6,390.6 1157.3,377.6 1163.1,377.6 1168.9,390.6 1174.6,387.5 1180.4,375.3 1186.2,371.5 1192.0,373.1 1197.7,368.5 1203.5,357.8 1209.3,361.6 1215.0,371.5 1220.8,383.7 1226.6,372.3 1232.3,373.1 1238.1,380.7 1243.9,388.3 1249.6,378.4 1255.4,373.8 1261.2,376.9 1266.9,372.3 1272.7,360.1 1278.5,357.8 1284.2,356.3 1290.0,355.5 1295.8,353.2 1301.5,353.2 1307.3,353.7 1313.1,355.5 1318.8,352.5 1324.6,360.8 1330.4,366.2 1336.2,368.5 1341.9,371.5 1347.7,374.6 1353.5,368.5 1359.2,363.9 1365.0,362.4 1370.8,363.9 1376.5,360.8 1382.3,364.7 1388.1,366.2 1393.8,368.5 1399.6,370.0 1405.4,369.2 1411.1,363.9 1416.9,363.9 1422.7,365.4 1428.4,369.2 1434.2,363.9 1440.0,372.3 1445.7,380.7 1451.5,382.2 1457.3,373.8" fill="none" stroke="#51dbcc" stroke-width="1.6" stroke-linejoin="round"/>
<polyline points="119.1,363.9 124.9,371.5 130.6,381.4 136.4,379.6 142.2,368.9 147.9,368.5 153.7,366.2 159.5,372.0 165.2,368.9 171.0,368.0 176.8,362.4 182.6,367.7 188.3,368.5 194.1,370.0 199.9,366.9 205.6,372.0 211.4,371.5 217.2,371.1 222.9,370.8 228.7,374.1 234.5,368.9 240.2,369.5 246.0,372.6 251.8,370.4 257.5,365.4 263.3,368.0 269.1,365.0 274.8,369.2 280.6,362.4 286.4,367.7 292.1,371.1 297.9,370.0 303.7,369.2 309.4,365.9 315.2,367.7 321.0,358.5 326.8,350.2 332.5,356.3 338.3,375.3 344.1,375.3 349.8,362.4 355.6,353.2 361.4,355.5 367.1,363.9 372.9,371.5 378.7,372.0 384.4,372.6 390.2,360.1 396.0,361.6 401.7,371.5 407.5,372.3 413.3,358.5 419.0,346.3 424.8,347.1 430.6,346.6 436.3,359.3 442.1,367.7 447.9,360.8 453.6,353.2 459.4,363.1 465.2,362.4 471.0,361.6 476.7,354.3 482.5,360.1 488.3,355.5 494.0,352.4 499.8,349.1 505.6,351.7 511.3,362.4 517.1,366.9 522.9,360.1 528.6,352.4 534.4,353.7 540.2,361.6 545.9,375.3 551.7,375.3 557.5,363.1 563.2,364.3 569.0,362.4 574.8,360.1 580.5,359.3 586.3,362.4 592.1,360.1 597.8,360.4 603.6,360.4 609.4,363.4 615.2,364.6 620.9,367.7 626.7,361.6 632.5,366.9 638.2,370.0 644.0,371.5 649.8,366.9 655.5,365.9 661.3,362.4 667.1,364.6 672.8,352.1" fill="none" stroke="#fdb915" stroke-width="2.78" stroke-linejoin="round"/>
<polyline points="967.0,363.1 972.8,363.9 978.5,361.6 984.3,357.0 990.1,358.2 995.8,359.3 1001.6,363.1 1007.4,368.5 1013.1,363.9 1018.9,359.3 1024.7,359.8 1030.4,354.0 1036.2,350.2 1042.0,350.2 1047.8,357.8 1053.5,371.5 1059.3,373.0 1065.1,360.4 1070.8,366.2 1076.6,375.3 1082.4,372.3 1088.1,366.9 1093.9,368.5 1099.7,377.6 1105.4,371.5 1111.2,361.6 1117.0,352.4 1122.7,356.3 1128.5,356.3 1134.3,356.3 1140.0,365.4 1145.8,380.7 1151.6,382.2 1157.3,368.5 1163.1,368.5 1168.9,381.4 1174.6,377.6 1180.4,366.9 1186.2,366.2 1192.0,371.5 1197.7,365.4 1203.5,349.4 1209.3,354.0 1215.0,366.2 1220.8,377.6 1226.6,364.6 1232.3,365.4 1238.1,373.0 1243.9,381.4 1249.6,369.2 1255.4,366.9 1261.2,373.0 1266.9,369.2 1272.7,357.8 1278.5,355.5 1284.2,353.2 1290.0,352.4 1295.8,349.4 1301.5,349.7 1307.3,350.6 1313.1,351.7 1318.8,345.6 1324.6,354.0 1330.4,359.3 1336.2,362.4 1341.9,363.9 1347.7,367.7 1353.5,363.9 1359.2,360.1 1365.0,353.2 1370.8,355.5 1376.5,355.5 1382.3,359.3 1388.1,357.3 1393.8,360.1 1399.6,365.4 1405.4,366.2 1411.1,354.0 1416.9,354.7 1422.7,358.5 1428.4,360.8 1434.2,355.8 1440.0,365.4 1445.7,373.8 1451.5,375.3 1457.3,366.9" fill="none" stroke="#fdb915" stroke-width="2.78" stroke-linejoin="round"/>
<polyline points="101.8,349.1 107.6,353.7 113.3,357.5 119.1,361.3 124.9,368.9 130.6,378.8 136.4,377.0 142.2,366.3 147.9,365.9 153.7,363.6 159.5,369.4 165.2,366.3 171.0,365.4 176.8,359.8 182.6,365.1 188.3,365.9 194.1,367.4 199.9,364.3 205.6,369.4 211.4,368.9 217.2,368.5 222.9,368.2 228.7,371.5 234.5,366.3 240.2,366.9 246.0,370.0 251.8,367.8 257.5,362.8 263.3,365.4 269.1,362.4 274.8,366.6 280.6,359.8 286.4,365.1 292.1,368.5 297.9,367.4 303.7,366.6 309.4,363.3 315.2,365.1 321.0,355.9 326.8,347.6 332.5,353.7 338.3,372.7 344.1,372.7 349.8,359.8 355.6,350.6 361.4,352.9 367.1,361.3 372.9,368.9 378.7,369.4 384.4,370.0 390.2,357.5 396.0,359.0 401.7,368.9 407.5,369.7 413.3,355.9 419.0,343.7 424.8,344.5 430.6,344.0 436.3,356.7 442.1,365.1 447.9,358.2 453.6,350.6 459.4,360.5 465.2,359.8 471.0,359.0 476.7,351.7 482.5,357.5 488.3,352.9 494.0,349.8 499.8,346.5 505.6,349.1 511.3,359.8 517.1,364.3 522.9,357.5 528.6,349.8 534.4,351.1 540.2,359.0 545.9,372.7 551.7,372.7 557.5,360.5 563.2,361.7 569.0,359.8 574.8,357.5 580.5,356.7 586.3,359.8 592.1,357.5 597.8,357.8 603.6,357.8 609.4,360.8 615.2,362.0 620.9,365.1 626.7,359.0 632.5,364.3 638.2,367.4 644.0,368.9 649.8,364.3 655.5,363.3 661.3,359.8 667.1,362.0 672.8,349.5 678.6,352.1 684.4,359.0 690.1,365.1 695.9,355.9 701.7,349.5 707.4,349.5 713.2,356.7 719.0,352.9 724.7,349.5 730.5,349.8 736.3,347.6 742.0,347.6 747.8,347.1 753.6,346.5 759.4,347.6 765.1,347.6 770.9,347.9 776.7,347.1 782.4,351.4 788.2,360.5 794.0,355.9 799.7,349.1 805.5,352.9 811.3,359.8 817.0,353.7 822.8,350.6 828.6,349.8 834.3,350.6 840.1,347.6 845.9,344.5 851.6,341.9 857.4,347.6 863.2,368.2 868.9,369.4 874.7,352.9 880.5,349.8 886.2,346.8 892.0,348.3 897.8,348.6 903.6,349.1 909.3,344.5 915.1,341.9 920.9,340.4 926.6,343.0 932.4,342.5 938.2,342.5 943.9,341.5 949.7,343.7 955.5,346.5 961.2,354.4 967.0,360.5 972.8,361.3 978.5,359.0 984.3,354.4 990.1,355.6 995.8,356.7 1001.6,360.5 1007.4,365.9 1013.1,361.3 1018.9,356.7 1024.7,357.2 1030.4,351.4 1036.2,347.6 1042.0,347.6 1047.8,355.2 1053.5,368.9 1059.3,370.4 1065.1,357.8 1070.8,363.6 1076.6,372.7 1082.4,369.7 1088.1,364.3 1093.9,365.9 1099.7,375.0 1105.4,368.9 1111.2,359.0 1117.0,349.8 1122.7,353.7 1128.5,353.7 1134.3,353.7 1140.0,362.8 1145.8,378.1 1151.6,379.6 1157.3,365.9 1163.1,365.9 1168.9,378.8 1174.6,375.0 1180.4,364.3 1186.2,363.6 1192.0,368.9 1197.7,362.8 1203.5,346.8 1209.3,351.4 1215.0,363.6 1220.8,375.0 1226.6,362.0 1232.3,362.8 1238.1,370.4 1243.9,378.8 1249.6,366.6 1255.4,364.3 1261.2,370.4 1266.9,366.6 1272.7,355.2 1278.5,352.9 1284.2,350.6 1290.0,349.8 1295.8,346.8 1301.5,347.1 1307.3,348.0 1313.1,349.1 1318.8,343.0 1324.6,351.4 1330.4,356.7 1336.2,359.8 1341.9,361.3 1347.7,365.1 1353.5,361.3 1359.2,357.5 1365.0,350.6 1370.8,352.9 1376.5,352.9 1382.3,356.7 1388.1,354.7 1393.8,357.5 1399.6,362.8 1405.4,363.6 1411.1,351.4 1416.9,352.1 1422.7,355.9 1428.4,358.2 1434.2,353.2 1440.0,362.8 1445.7,371.2 1451.5,372.7 1457.3,364.3" fill="none" stroke="#8d5e56" stroke-width="2.78" stroke-linejoin="round"/>
<polyline points="101.8,346.3 107.6,350.9 113.3,354.7 119.1,358.5 124.9,366.1 130.6,376.0 136.4,374.2 142.2,363.5 147.9,363.1 153.7,360.8 159.5,366.6 165.2,363.5 171.0,362.6 176.8,357.0 182.6,362.3 188.3,363.1 194.1,364.6 199.9,361.5 205.6,366.6 211.4,366.1 217.2,365.7 222.9,365.4 228.7,368.7 234.5,363.5 240.2,364.1 246.0,367.2 251.8,365.0 257.5,360.0 263.3,362.6 269.1,359.6 274.8,363.8 280.6,357.0 286.4,362.3 292.1,365.7 297.9,364.6 303.7,363.8 309.4,360.5 315.2,362.3 321.0,353.1 326.8,344.8 332.5,350.9 338.3,369.9 344.1,369.9 349.8,357.0 355.6,347.8 361.4,350.1 367.1,358.5 372.9,366.1 378.7,366.6 384.4,367.2 390.2,354.7 396.0,356.2 401.7,366.1 407.5,366.9 413.3,353.1 419.0,340.9 424.8,341.7 430.6,341.2 436.3,353.9 442.1,362.3 447.9,355.4 453.6,347.8 459.4,357.7 465.2,357.0 471.0,356.2 476.7,348.9 482.5,354.7 488.3,350.1 494.0,347.0 499.8,343.7 505.6,346.3 511.3,357.0 517.1,361.5 522.9,354.7 528.6,347.0 534.4,348.3 540.2,356.2 545.9,369.9 551.7,369.9 557.5,357.7 563.2,358.9 569.0,357.0 574.8,354.7 580.5,353.9 586.3,357.0 592.1,354.7 597.8,355.0 603.6,355.0 609.4,358.0 615.2,359.2 620.9,362.3 626.7,356.2 632.5,361.5 638.2,364.6 644.0,366.1 649.8,361.5 655.5,360.5 661.3,357.0 667.1,359.2 672.8,346.7 678.6,349.3 684.4,356.2 690.1,362.3 695.9,353.1 701.7,346.7 707.4,346.7 713.2,353.9 719.0,350.1 724.7,346.7 730.5,347.0 736.3,344.8 742.0,344.8 747.8,344.3 753.6,343.7 759.4,344.8 765.1,344.8 770.9,345.1 776.7,344.3 782.4,348.6 788.2,357.7 794.0,353.1 799.7,346.3 805.5,350.1 811.3,357.0 817.0,350.9 822.8,347.8 828.6,347.0 834.3,347.8 840.1,344.8 845.9,341.7 851.6,339.1 857.4,344.8 863.2,365.4 868.9,366.6 874.7,350.1 880.5,347.0 886.2,344.0 892.0,345.5 897.8,345.8 903.6,346.3 909.3,341.7 915.1,339.1 920.9,337.6 926.6,340.2 932.4,339.7 938.2,339.7 943.9,338.7 949.7,340.9 955.5,343.7 961.2,351.6 967.0,357.7 972.8,358.5 978.5,356.2 984.3,351.6 990.1,352.8 995.8,353.9 1001.6,357.7 1007.4,363.1 1013.1,358.5 1018.9,353.9 1024.7,354.4 1030.4,348.6 1036.2,344.8 1042.0,344.8 1047.8,352.4 1053.5,366.1 1059.3,367.6 1065.1,355.0 1070.8,360.8 1076.6,369.9 1082.4,366.9 1088.1,361.5 1093.9,363.1 1099.7,372.2 1105.4,366.1 1111.2,356.2 1117.0,347.0 1122.7,350.9 1128.5,350.9 1134.3,350.9 1140.0,360.0 1145.8,375.3 1151.6,376.8 1157.3,363.1 1163.1,363.1 1168.9,376.0 1174.6,372.2 1180.4,361.5 1186.2,360.8 1192.0,366.1 1197.7,360.0 1203.5,344.0 1209.3,348.6 1215.0,360.8 1220.8,372.2 1226.6,359.2 1232.3,360.0 1238.1,367.6 1243.9,376.0 1249.6,363.8 1255.4,361.5 1261.2,367.6 1266.9,363.8 1272.7,352.4 1278.5,350.1 1284.2,347.8 1290.0,347.0 1295.8,344.0 1301.5,344.3 1307.3,345.2 1313.1,346.3 1318.8,340.2 1324.6,348.6 1330.4,353.9 1336.2,357.0 1341.9,358.5 1347.7,362.3 1353.5,358.5 1359.2,354.7 1365.0,347.8 1370.8,350.1 1376.5,350.1 1382.3,353.9 1388.1,351.9 1393.8,354.7 1399.6,360.0 1405.4,360.8 1411.1,348.6 1416.9,349.3 1422.7,353.1 1428.4,355.4 1434.2,350.4 1440.0,360.0 1445.7,368.4 1451.5,369.9 1457.3,361.5" fill="none" stroke="#6e5d24" stroke-width="3.0" stroke-linejoin="round"/>
<polyline points="101.8,415.6 107.6,414.1 113.3,418.6 119.1,404.9" fill="none" stroke="#88a75b" stroke-width="2.4" stroke-linejoin="round"/>
<polyline points="321.0,404.9 326.8,414.1 332.5,412.5 338.3,409.0 344.1,408.7 349.8,408.7 355.6,418.6 361.4,422.5 367.1,417.9 372.9,404.2" fill="none" stroke="#88a75b" stroke-width="2.4" stroke-linejoin="round"/>
<polyline points="384.4,404.5 390.2,419.4 396.0,406.9 401.7,406.9 407.5,408.0 413.3,415.6 419.0,416.4 424.8,416.4 430.6,429.3 436.3,417.1 442.1,404.2 447.9,404.2 453.6,408.7 459.4,408.7 465.2,404.2" fill="none" stroke="#88a75b" stroke-width="2.4" stroke-linejoin="round"/>
<polyline points="482.5,404.2 488.3,406.0 494.0,407.5 499.8,404.2" fill="none" stroke="#88a75b" stroke-width="2.4" stroke-linejoin="round"/>
<polyline points="517.1,404.2 522.9,410.3 528.6,411.0 534.4,410.6 540.2,409.9 545.9,404.2" fill="none" stroke="#88a75b" stroke-width="2.4" stroke-linejoin="round"/>
<polyline points="563.2,404.5 569.0,410.3 574.8,412.1 580.5,404.9 586.3,404.2 592.1,416.4 597.8,414.8 603.6,404.2 609.4,405.7 615.2,412.1 620.9,408.7 626.7,404.2 632.5,404.2 638.2,409.0 644.0,408.0 649.8,404.2" fill="none" stroke="#88a75b" stroke-width="2.4" stroke-linejoin="round"/>
<polyline points="661.3,404.9 667.1,413.6 672.8,411.0 678.6,411.0 684.4,411.0 690.1,411.0 695.9,414.1 701.7,411.0 707.4,413.3 713.2,412.5 719.0,411.0 724.7,413.3 730.5,414.8 736.3,413.3 742.0,411.8 747.8,406.9 753.6,408.0 759.4,411.5 765.1,409.5 770.9,406.9 776.7,405.7 782.4,404.9" fill="none" stroke="#88a75b" stroke-width="2.4" stroke-linejoin="round"/>
<polyline points="817.0,404.5 822.8,416.1 828.6,413.3 834.3,414.1 840.1,417.6 845.9,416.7 851.6,414.1 857.4,417.9 863.2,406.9 868.9,408.4 874.7,404.9 880.5,408.7 886.2,411.0 892.0,408.7 897.8,405.7 903.6,405.4 909.3,408.0 915.1,408.7 920.9,409.0 926.6,417.6 932.4,416.4 938.2,411.5 943.9,411.0 949.7,415.1 955.5,414.1 961.2,425.5 967.0,417.1 972.8,407.2 978.5,407.5 984.3,420.2 990.1,423.2 995.8,411.0 1001.6,411.5 1007.4,412.1 1013.1,414.1 1018.9,415.1 1024.7,411.5 1030.4,423.7 1036.2,418.6 1042.0,414.8 1047.8,411.0 1053.5,409.5 1059.3,409.5 1065.1,404.5" fill="none" stroke="#88a75b" stroke-width="2.4" stroke-linejoin="round"/>
<polyline points="1099.7,404.9 1105.4,411.5 1111.2,405.4 1117.0,411.8 1122.7,415.6 1128.5,414.8 1134.3,406.9 1140.0,404.2 1145.8,404.2 1151.6,407.5 1157.3,404.5 1163.1,404.5 1168.9,415.6 1174.6,419.4 1180.4,409.0 1186.2,408.4 1192.0,424.0 1197.7,432.4 1203.5,418.2 1209.3,416.4 1215.0,430.8 1220.8,429.8 1226.6,408.0 1232.3,405.4 1238.1,424.7 1243.9,426.3 1249.6,404.5 1255.4,404.5 1261.2,420.9 1266.9,427.8 1272.7,414.1 1278.5,414.5 1284.2,432.4 1290.0,432.4 1295.8,420.9 1301.5,420.6 1307.3,426.7 1313.1,426.7 1318.8,420.6 1324.6,414.8 1330.4,404.5 1336.2,404.9 1341.9,406.0 1347.7,404.9 1353.5,404.9 1359.2,414.1 1365.0,413.0 1370.8,413.0 1376.5,412.5 1382.3,417.6 1388.1,406.9 1393.8,407.5 1399.6,414.8 1405.4,420.2 1411.1,414.8 1416.9,415.6 1422.7,419.7 1428.4,423.2 1434.2,413.3 1440.0,404.9 1445.7,409.9 1451.5,410.3 1457.3,404.5" fill="none" stroke="#88a75b" stroke-width="2.4" stroke-linejoin="round"/>
<polyline points="101.8,458.3 107.6,453.7 113.3,449.9 119.1,446.1 124.9,439.2 130.6,427.3 136.4,429.8 142.2,440.8 147.9,440.5 153.7,443.8 159.5,437.4 165.2,440.5 171.0,441.5 176.8,447.6 182.6,441.5 188.3,441.1 194.1,439.2 199.9,443.1 205.6,436.9 211.4,438.5 217.2,438.5 222.9,439.5 228.7,435.4 234.5,441.1 240.2,440.0 246.0,436.2 251.8,438.5 257.5,444.6 263.3,441.5 269.1,444.6 274.8,439.2 280.6,447.6 286.4,441.5 292.1,438.5 297.9,440.0 303.7,440.3 309.4,444.1 315.2,442.6 321.0,451.4 326.8,459.8 332.5,453.0 338.3,435.4 344.1,435.0 349.8,446.1 355.6,456.8 361.4,454.5 367.1,446.1 372.9,438.5 378.7,437.4 384.4,436.5 390.2,449.9 396.0,448.4 401.7,438.5 407.5,437.4 413.3,451.4 419.0,463.3 424.8,462.1 430.6,462.9 436.3,450.7 442.1,442.0 447.9,449.2 453.6,457.5 459.4,446.1 465.2,447.2 471.0,448.4 476.7,456.0 482.5,449.2 488.3,454.5 494.0,456.8 499.8,460.6 505.6,457.8 511.3,446.1 517.1,443.1 522.9,449.2 528.6,457.2 534.4,456.3 540.2,449.2 545.9,435.0 551.7,435.0 557.5,446.9 563.2,445.0 569.0,447.2 574.8,449.6 580.5,450.7 586.3,446.6 592.1,450.2 597.8,449.2 603.6,449.2 609.4,445.3 615.2,444.6 620.9,441.5 626.7,448.4 632.5,443.1 638.2,440.8 644.0,438.5 649.8,443.1 655.5,443.8 661.3,447.6 667.1,444.6 672.8,457.5 678.6,455.3 684.4,448.4 690.1,442.6 695.9,451.4 701.7,457.8 707.4,457.8 713.2,450.7 719.0,453.7 724.7,457.2 730.5,456.8 736.3,459.8 742.0,459.4 747.8,459.8 753.6,460.6 759.4,459.1 765.1,459.4 770.9,458.8 776.7,460.3 782.4,456.0 788.2,445.3 794.0,449.2 799.7,457.8 805.5,454.5 811.3,446.9 817.0,453.7 822.8,456.8 828.6,457.5 834.3,456.3 840.1,459.8 845.9,462.9 851.6,465.9 857.4,460.6 863.2,440.0 868.9,438.5 874.7,455.3 880.5,457.5 886.2,460.9 892.0,458.8 897.8,458.3 903.6,457.5 909.3,462.9 915.1,465.5 920.9,467.0 926.6,464.4 932.4,464.4 938.2,464.9 943.9,465.9 949.7,463.3 955.5,461.4 961.2,453.0 967.0,447.6 972.8,446.1 978.5,448.7 984.3,452.7 990.1,452.2 995.8,451.1 1001.6,446.9 1007.4,441.1 1013.1,446.1 1018.9,450.2 1024.7,450.2 1030.4,456.8 1036.2,459.8 1042.0,459.8 1047.8,452.2 1053.5,439.5 1059.3,437.4 1065.1,449.6 1070.8,443.8 1076.6,435.0 1082.4,437.7 1088.1,443.5 1093.9,441.5 1099.7,432.4 1105.4,438.5 1111.2,448.4 1117.0,457.2 1122.7,453.7 1128.5,453.7 1134.3,453.7 1140.0,443.8 1145.8,430.1 1151.6,428.3 1157.3,440.8 1163.1,440.8 1168.9,428.6 1174.6,432.8 1180.4,443.1 1186.2,444.1 1192.0,438.5 1197.7,444.6 1203.5,460.6 1209.3,456.0 1215.0,441.5 1220.8,431.3 1226.6,444.6 1232.3,443.8 1238.1,435.0 1243.9,427.8 1249.6,440.0 1255.4,443.5 1261.2,436.5 1266.9,440.5 1272.7,452.7 1278.5,454.5 1284.2,456.8 1290.0,457.5 1295.8,460.6 1301.5,460.6 1307.3,459.4 1313.1,457.8 1318.8,464.4 1324.6,456.0 1330.4,449.6 1336.2,447.2 1341.9,446.1 1347.7,443.1 1353.5,446.1 1359.2,449.9 1365.0,456.8 1370.8,454.5 1376.5,454.5 1382.3,450.7 1388.1,453.0 1393.8,450.7 1399.6,444.6 1405.4,444.1 1411.1,456.3 1416.9,456.0 1422.7,451.4 1428.4,449.6 1434.2,454.5 1440.0,444.6 1445.7,436.2 1451.5,435.4 1457.3,444.6" fill="none" stroke="#00ffbe" stroke-width="3.0" stroke-linejoin="round"/>
<rect x="101.6" y="400.80" width="1356.0" height="3.2" fill="#6e5d24"/></g>
<line x1="101.6" x2="101.6" y1="313.2" y2="492.3" stroke="#bcbcbc" stroke-width="1.1"/>
<line x1="101.1" x2="1458.1" y1="491.8" y2="491.8" stroke="#bcbcbc" stroke-width="1.1"/>
<line x1="101.6" x2="106.5" y1="313.50" y2="313.50" stroke="#000" stroke-width="1.1"/>
<text x="95.60" y="318.50" font-size="14.68" text-anchor="end" textLength="52.97" lengthAdjust="spacingAndGlyphs">100000</text>
<line x1="101.6" x2="106.5" y1="357.50" y2="357.50" stroke="#000" stroke-width="1.1"/>
<text x="95.60" y="362.50" font-size="14.68" text-anchor="end" textLength="44.14" lengthAdjust="spacingAndGlyphs">50000</text>
<text x="95.60" y="407.50" font-size="14.68" text-anchor="end" textLength="8.83" lengthAdjust="spacingAndGlyphs">0</text>
<line x1="101.6" x2="106.5" y1="447.50" y2="447.50" stroke="#000" stroke-width="1.1"/>
<text x="95.60" y="452.50" font-size="14.68" text-anchor="end" textLength="55.77" lengthAdjust="spacingAndGlyphs">−50000</text>
<line x1="101.6" x2="106.5" y1="491.50" y2="491.50" stroke="#000" stroke-width="1.1"/>
<text x="95.60" y="496.50" font-size="14.68" text-anchor="end" textLength="64.59" lengthAdjust="spacingAndGlyphs">−100000</text>
<line x1="125.47" x2="125.47" y1="491.8" y2="489.0" stroke="#000" stroke-width="0.85"/>
<line x1="148.54" x2="148.54" y1="491.8" y2="489.0" stroke="#000" stroke-width="0.85"/>
<line x1="171.61" x2="171.61" y1="491.8" y2="489.0" stroke="#000" stroke-width="0.85"/>
<line x1="194.68" x2="194.68" y1="491.8" y2="489.0" stroke="#000" stroke-width="0.85"/>
<line x1="217.75" x2="217.75" y1="491.8" y2="489.0" stroke="#000" stroke-width="0.85"/>
<line x1="240.82" x2="240.82" y1="491.8" y2="489.0" stroke="#000" stroke-width="0.85"/>
<line x1="263.89" x2="263.89" y1="491.8" y2="489.0" stroke="#000" stroke-width="0.85"/>
<line x1="286.96" x2="286.96" y1="491.8" y2="489.0" stroke="#000" stroke-width="0.85"/>
<line x1="310.03" x2="310.03" y1="491.8" y2="489.0" stroke="#000" stroke-width="0.85"/>
<line x1="333.10" x2="333.10" y1="491.8" y2="489.0" stroke="#000" stroke-width="0.85"/>
<line x1="356.17" x2="356.17" y1="491.8" y2="489.0" stroke="#000" stroke-width="0.85"/>
<line x1="379.24" x2="379.24" y1="491.8" y2="489.0" stroke="#000" stroke-width="0.85"/>
<line x1="402.31" x2="402.31" y1="491.8" y2="489.0" stroke="#000" stroke-width="0.85"/>
<line x1="425.38" x2="425.38" y1="491.8" y2="489.0" stroke="#000" stroke-width="0.85"/>
<line x1="448.45" x2="448.45" y1="491.8" y2="489.0" stroke="#000" stroke-width="0.85"/>
<line x1="471.52" x2="471.52" y1="491.8" y2="489.0" stroke="#000" stroke-width="0.85"/>
<line x1="494.59" x2="494.59" y1="491.8" y2="489.0" stroke="#000" stroke-width="0.85"/>
<line x1="517.66" x2="517.66" y1="491.8" y2="489.0" stroke="#000" stroke-width="0.85"/>
<line x1="540.73" x2="540.73" y1="491.8" y2="489.0" stroke="#000" stroke-width="0.85"/>
<line x1="563.80" x2="563.80" y1="491.8" y2="489.0" stroke="#000" stroke-width="0.85"/>
<line x1="586.87" x2="586.87" y1="491.8" y2="489.0" stroke="#000" stroke-width="0.85"/>
<line x1="609.94" x2="609.94" y1="491.8" y2="489.0" stroke="#000" stroke-width="0.85"/>
<line x1="633.01" x2="633.01" y1="491.8" y2="489.0" stroke="#000" stroke-width="0.85"/>
<line x1="656.08" x2="656.08" y1="491.8" y2="489.0" stroke="#000" stroke-width="0.85"/>
<line x1="679.15" x2="679.15" y1="491.8" y2="489.0" stroke="#000" stroke-width="0.85"/>
<line x1="702.22" x2="702.22" y1="491.8" y2="489.0" stroke="#000" stroke-width="0.85"/>
<line x1="725.29" x2="725.29" y1="491.8" y2="489.0" stroke="#000" stroke-width="0.85"/>
<line x1="748.36" x2="748.36" y1="491.8" y2="489.0" stroke="#000" stroke-width="0.85"/>
<line x1="771.43" x2="771.43" y1="491.8" y2="489.0" stroke="#000" stroke-width="0.85"/>
<line x1="794.50" x2="794.50" y1="491.8" y2="489.0" stroke="#000" stroke-width="0.85"/>
<line x1="817.57" x2="817.57" y1="491.8" y2="486.90000000000003" stroke="#000" stroke-width="1.1"/>
<line x1="840.64" x2="840.64" y1="491.8" y2="489.0" stroke="#000" stroke-width="0.85"/>
<line x1="863.71" x2="863.71" y1="491.8" y2="489.0" stroke="#000" stroke-width="0.85"/>
<line x1="886.78" x2="886.78" y1="491.8" y2="489.0" stroke="#000" stroke-width="0.85"/>
<line x1="909.85" x2="909.85" y1="491.8" y2="489.0" stroke="#000" stroke-width="0.85"/>
<line x1="932.92" x2="932.92" y1="491.8" y2="489.0" stroke="#000" stroke-width="0.85"/>
<line x1="955.99" x2="955.99" y1="491.8" y2="489.0" stroke="#000" stroke-width="0.85"/>
<line x1="979.06" x2="979.06" y1="491.8" y2="489.0" stroke="#000" stroke-width="0.85"/>
<line x1="1002.13" x2="1002.13" y1="491.8" y2="489.0" stroke="#000" stroke-width="0.85"/>
<line x1="1025.20" x2="1025.20" y1="491.8" y2="489.0" stroke="#000" stroke-width="0.85"/>
<line x1="1048.27" x2="1048.27" y1="491.8" y2="489.0" stroke="#000" stroke-width="0.85"/>
<line x1="1071.34" x2="1071.34" y1="491.8" y2="489.0" stroke="#000" stroke-width="0.85"/>
<line x1="1094.41" x2="1094.41" y1="491.8" y2="489.0" stroke="#000" stroke-width="0.85"/>
<line x1="1117.48" x2="1117.48" y1="491.8" y2="489.0" stroke="#000" stroke-width="0.85"/>
<line x1="1140.55" x2="1140.55" y1="491.8" y2="489.0" stroke="#000" stroke-width="0.85"/>
<line x1="1163.62" x2="1163.62" y1="491.8" y2="489.0" stroke="#000" stroke-width="0.85"/>
<line x1="1186.69" x2="1186.69" y1="491.8" y2="489.0" stroke="#000" stroke-width="0.85"/>
<line x1="1209.76" x2="1209.76" y1="491.8" y2="489.0" stroke="#000" stroke-width="0.85"/>
<line x1="1232.83" x2="1232.83" y1="491.8" y2="489.0" stroke="#000" stroke-width="0.85"/>
<line x1="1255.90" x2="1255.90" y1="491.8" y2="489.0" stroke="#000" stroke-width="0.85"/>
<line x1="1278.97" x2="1278.97" y1="491.8" y2="489.0" stroke="#000" stroke-width="0.85"/>
<line x1="1302.04" x2="1302.04" y1="491.8" y2="489.0" stroke="#000" stroke-width="0.85"/>
<line x1="1325.11" x2="1325.11" y1="491.8" y2="489.0" stroke="#000" stroke-width="0.85"/>
<line x1="1348.18" x2="1348.18" y1="491.8" y2="489.0" stroke="#000" stroke-width="0.85"/>
<line x1="1371.25" x2="1371.25" y1="491.8" y2="489.0" stroke="#000" stroke-width="0.85"/>
<line x1="1394.32" x2="1394.32" y1="491.8" y2="489.0" stroke="#000" stroke-width="0.85"/>
<line x1="1417.39" x2="1417.39" y1="491.8" y2="489.0" stroke="#000" stroke-width="0.85"/>
<line x1="1440.46" x2="1440.46" y1="491.8" y2="489.0" stroke="#000" stroke-width="0.85"/>
<line x1="1457.3999999999999" x2="1457.3999999999999" y1="491.8" y2="486.90000000000003" stroke="#000" stroke-width="1.1"/>
<text x="240.82" y="507.00" font-size="14.68" text-anchor="middle" textLength="17.66" lengthAdjust="spacingAndGlyphs">07</text>
<text x="402.31" y="507.00" font-size="14.68" text-anchor="middle" textLength="17.66" lengthAdjust="spacingAndGlyphs">14</text>
<text x="563.80" y="507.00" font-size="14.68" text-anchor="middle" textLength="17.66" lengthAdjust="spacingAndGlyphs">21</text>
<text x="725.29" y="507.00" font-size="14.68" text-anchor="middle" textLength="17.66" lengthAdjust="spacingAndGlyphs">28</text>
<text x="886.78" y="507.00" font-size="14.68" text-anchor="middle" textLength="17.66" lengthAdjust="spacingAndGlyphs">04</text>
<text x="1048.27" y="507.00" font-size="14.68" text-anchor="middle" textLength="17.66" lengthAdjust="spacingAndGlyphs">11</text>
<text x="1209.76" y="507.00" font-size="14.68" text-anchor="middle" textLength="17.66" lengthAdjust="spacingAndGlyphs">18</text>
<text x="1371.25" y="507.00" font-size="14.68" text-anchor="middle" textLength="17.66" lengthAdjust="spacingAndGlyphs">25</text>
<text x="101.50" y="540.10" font-size="14.68" text-anchor="middle" textLength="21.39" lengthAdjust="spacingAndGlyphs">Jan</text>
<text x="101.80" y="555.90" font-size="14.68" text-anchor="middle" textLength="35.31" lengthAdjust="spacingAndGlyphs">2013</text>
<text x="816.90" y="540.10" font-size="14.68" text-anchor="middle" textLength="24.56" lengthAdjust="spacingAndGlyphs">Feb</text>
<text x="779.60" y="303.90" font-size="17.62" text-anchor="middle" textLength="109.41" lengthAdjust="spacingAndGlyphs">country = FR</text>
<text x="21.40" y="403.25" font-size="17.62" text-anchor="middle" textLength="212.95" lengthAdjust="spacingAndGlyphs" transform="rotate(-90 21.40 403.25)">Energy Balance [MWh_el]</text>
<text x="779.70" y="576.60" font-size="17.62" text-anchor="middle" textLength="75.97" lengthAdjust="spacingAndGlyphs">snapshot</text>
<rect x="1477.2" y="69.25" width="28.9" height="10.6" fill="#ff5270"/>
<text x="1516.60" y="79.50" font-size="14.68" text-anchor="start" textLength="29.36" lengthAdjust="spacingAndGlyphs">DAC</text>
<rect x="1477.2" y="90.20" width="28.9" height="10.6" fill="#8a1caf"/>
<text x="1516.60" y="100.45" font-size="14.68" text-anchor="start" textLength="20.38" lengthAdjust="spacingAndGlyphs">DC</text>
<rect x="1477.2" y="111.15" width="28.9" height="10.6" fill="#ff29d9"/>
<text x="1516.60" y="121.40" font-size="14.68" text-anchor="start" textLength="102.17" lengthAdjust="spacingAndGlyphs">H2 Electrolysis</text>
<rect x="1477.2" y="132.10" width="28.9" height="10.6" fill="#991f83"/>
<text x="1516.60" y="142.35" font-size="14.68" text-anchor="start" textLength="73.61" lengthAdjust="spacingAndGlyphs">H2 turbine</text>
<rect x="1477.2" y="153.05" width="28.9" height="10.6" fill="#6895dd"/>
<text x="1516.60" y="163.30" font-size="14.68" text-anchor="start" textLength="132.34" lengthAdjust="spacingAndGlyphs">Offshore Wind (AC)</text>
<rect x="1477.2" y="174.00" width="28.9" height="10.6" fill="#74c6f2"/>
<text x="1516.60" y="184.25" font-size="14.68" text-anchor="start" textLength="133.80" lengthAdjust="spacingAndGlyphs">Offshore Wind (DC)</text>
<rect x="1477.2" y="194.95" width="28.9" height="10.6" fill="#b5e2fa"/>
<text x="1516.60" y="205.20" font-size="14.68" text-anchor="start" textLength="169.16" lengthAdjust="spacingAndGlyphs">Offshore Wind (Floating)</text>
<rect x="1477.2" y="215.90" width="28.9" height="10.6" fill="#235ebc"/>
<text x="1516.60" y="226.15" font-size="14.68" text-anchor="start" textLength="97.44" lengthAdjust="spacingAndGlyphs">Onshore Wind</text>
<rect x="1477.2" y="236.85" width="28.9" height="10.6" fill="#e0986c"/>
<text x="1516.60" y="247.10" font-size="14.68" text-anchor="start" textLength="110.88" lengthAdjust="spacingAndGlyphs">Open-Cycle Gas</text>
<rect x="1477.2" y="257.80" width="28.9" height="10.6" fill="#51dbcc"/>
<text x="1516.60" y="268.05" font-size="14.68" text-anchor="start" textLength="161.02" lengthAdjust="spacingAndGlyphs">Pumped Hydro Storage</text>
<rect x="1477.2" y="278.75" width="28.9" height="10.6" fill="#3dbfb0"/>
<text x="1516.60" y="289.00" font-size="14.68" text-anchor="start" textLength="84.75" lengthAdjust="spacingAndGlyphs">Run of River</text>
<rect x="1477.2" y="299.70" width="28.9" height="10.6" fill="#f9d002"/>
<text x="1516.60" y="309.95" font-size="14.68" text-anchor="start" textLength="35.36" lengthAdjust="spacingAndGlyphs">Solar</text>
<rect x="1477.2" y="320.65" width="28.9" height="10.6" fill="#88a75b"/>
<text x="1516.60" y="330.90" font-size="14.68" text-anchor="start" textLength="108.47" lengthAdjust="spacingAndGlyphs">battery charger</text>
<rect x="1477.2" y="341.60" width="28.9" height="10.6" fill="#5d4e29"/>
<text x="1516.60" y="351.85" font-size="14.68" text-anchor="start" textLength="128.38" lengthAdjust="spacingAndGlyphs">battery discharger</text>
<rect x="1477.2" y="362.55" width="28.9" height="10.6" fill="#97ad8c"/>
<text x="1516.60" y="372.80" font-size="14.68" text-anchor="start" textLength="183.78" lengthAdjust="spacingAndGlyphs">electricity distribution grid</text>
<rect x="1477.2" y="383.50" width="28.9" height="10.6" fill="#00ffbe"/>
<text x="1516.60" y="393.75" font-size="14.68" text-anchor="start" textLength="112.09" lengthAdjust="spacingAndGlyphs">methanolisation</text>
<rect x="1477.2" y="404.45" width="28.9" height="10.6" fill="#fdb915"/>
<text x="1516.60" y="414.70" font-size="14.68" text-anchor="start" textLength="67.86" lengthAdjust="spacingAndGlyphs">solar-hsat</text>
<rect x="1477.2" y="425.40" width="28.9" height="10.6" fill="#8d5e56"/>
<text x="1516.60" y="435.65" font-size="14.68" text-anchor="start" textLength="126.36" lengthAdjust="spacingAndGlyphs">urban central CHP</text>
<rect x="1477.2" y="446.35" width="28.9" height="10.6" fill="#8d5e56"/>
<text x="1516.60" y="456.60" font-size="14.68" text-anchor="start" textLength="150.14" lengthAdjust="spacingAndGlyphs">urban central CHP CC</text>
<rect x="1477.2" y="467.30" width="28.9" height="10.6" fill="#9d9042"/>
<text x="1516.60" y="477.55" font-size="14.68" text-anchor="start" textLength="225.06" lengthAdjust="spacingAndGlyphs">urban central solid biomass CHP</text>
<rect x="1477.2" y="488.25" width="28.9" height="10.6" fill="#6e5d24"/>
<text x="1516.60" y="498.50" font-size="14.68" text-anchor="start" textLength="248.84" lengthAdjust="spacingAndGlyphs">urban central solid biomass CHP CC</text>
<rect x="1477.2" y="509.20" width="28.9" height="10.6" fill="#298c81"/>
<text x="1516.60" y="519.45" font-size="14.68" text-anchor="start" textLength="117.61" lengthAdjust="spacingAndGlyphs">Reservoir &amp; Dam</text>
</svg></body></html>
